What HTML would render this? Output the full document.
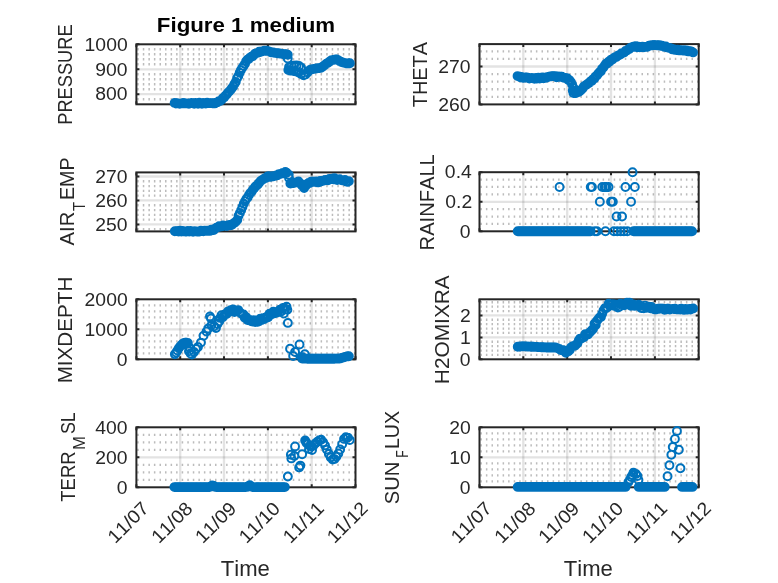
<!DOCTYPE html><html><head><meta charset="utf-8"><style>html,body{margin:0;padding:0;background:#fff}svg{display:block}text{font-family:"Liberation Sans",sans-serif;fill:#262626;font-kerning:none}</style></head><body>
<svg width="778" height="583" viewBox="0 0 778 583">
<defs><filter id="sb" x="-5%" y="-5%" width="110%" height="110%"><feGaussianBlur stdDeviation="0.4"/></filter></defs>
<rect width="778" height="583" fill="#fff"/>
<path fill="#bcbcbc" filter="url(#sb)" d="M137.2 98.1h1.5v2.3h-1.5zM142.8 98.1h1.5v2.3h-1.5zM148.4 98.1h1.5v2.3h-1.5zM153.9 98.1h1.5v2.3h-1.5zM159.5 98.1h1.5v2.3h-1.5zM165 98.1h1.5v2.3h-1.5zM170.6 98.1h1.5v2.3h-1.5zM176.1 98.1h1.5v2.3h-1.5zM181.7 98.1h1.5v2.3h-1.5zM187.3 98.1h1.5v2.3h-1.5zM192.8 98.1h1.5v2.3h-1.5zM198.4 98.1h1.5v2.3h-1.5zM203.9 98.1h1.5v2.3h-1.5zM209.5 98.1h1.5v2.3h-1.5zM215 98.1h1.5v2.3h-1.5zM220.6 98.1h1.5v2.3h-1.5zM226.1 98.1h1.5v2.3h-1.5zM231.7 98.1h1.5v2.3h-1.5zM237.3 98.1h1.5v2.3h-1.5zM242.8 98.1h1.5v2.3h-1.5zM248.4 98.1h1.5v2.3h-1.5zM253.9 98.1h1.5v2.3h-1.5zM259.5 98.1h1.5v2.3h-1.5zM265 98.1h1.5v2.3h-1.5zM270.6 98.1h1.5v2.3h-1.5zM276.1 98.1h1.5v2.3h-1.5zM281.7 98.1h1.5v2.3h-1.5zM287.3 98.1h1.5v2.3h-1.5zM292.8 98.1h1.5v2.3h-1.5zM298.4 98.1h1.5v2.3h-1.5zM303.9 98.1h1.5v2.3h-1.5zM309.5 98.1h1.5v2.3h-1.5zM315 98.1h1.5v2.3h-1.5zM320.6 98.1h1.5v2.3h-1.5zM326.2 98.1h1.5v2.3h-1.5zM331.7 98.1h1.5v2.3h-1.5zM337.3 98.1h1.5v2.3h-1.5zM342.8 98.1h1.5v2.3h-1.5zM348.4 98.1h1.5v2.3h-1.5zM353.9 98.1h1.5v2.3h-1.5zM137.2 88.1h1.5v2.3h-1.5zM142.8 88.1h1.5v2.3h-1.5zM148.4 88.1h1.5v2.3h-1.5zM153.9 88.1h1.5v2.3h-1.5zM159.5 88.1h1.5v2.3h-1.5zM165 88.1h1.5v2.3h-1.5zM170.6 88.1h1.5v2.3h-1.5zM176.1 88.1h1.5v2.3h-1.5zM181.7 88.1h1.5v2.3h-1.5zM187.3 88.1h1.5v2.3h-1.5zM192.8 88.1h1.5v2.3h-1.5zM198.4 88.1h1.5v2.3h-1.5zM203.9 88.1h1.5v2.3h-1.5zM209.5 88.1h1.5v2.3h-1.5zM215 88.1h1.5v2.3h-1.5zM220.6 88.1h1.5v2.3h-1.5zM226.1 88.1h1.5v2.3h-1.5zM231.7 88.1h1.5v2.3h-1.5zM237.3 88.1h1.5v2.3h-1.5zM242.8 88.1h1.5v2.3h-1.5zM248.4 88.1h1.5v2.3h-1.5zM253.9 88.1h1.5v2.3h-1.5zM259.5 88.1h1.5v2.3h-1.5zM265 88.1h1.5v2.3h-1.5zM270.6 88.1h1.5v2.3h-1.5zM276.1 88.1h1.5v2.3h-1.5zM281.7 88.1h1.5v2.3h-1.5zM287.3 88.1h1.5v2.3h-1.5zM292.8 88.1h1.5v2.3h-1.5zM298.4 88.1h1.5v2.3h-1.5zM303.9 88.1h1.5v2.3h-1.5zM309.5 88.1h1.5v2.3h-1.5zM315 88.1h1.5v2.3h-1.5zM320.6 88.1h1.5v2.3h-1.5zM326.2 88.1h1.5v2.3h-1.5zM331.7 88.1h1.5v2.3h-1.5zM337.3 88.1h1.5v2.3h-1.5zM342.8 88.1h1.5v2.3h-1.5zM348.4 88.1h1.5v2.3h-1.5zM353.9 88.1h1.5v2.3h-1.5zM137.2 83.1h1.5v2.3h-1.5zM142.8 83.1h1.5v2.3h-1.5zM148.4 83.1h1.5v2.3h-1.5zM153.9 83.1h1.5v2.3h-1.5zM159.5 83.1h1.5v2.3h-1.5zM165 83.1h1.5v2.3h-1.5zM170.6 83.1h1.5v2.3h-1.5zM176.1 83.1h1.5v2.3h-1.5zM181.7 83.1h1.5v2.3h-1.5zM187.3 83.1h1.5v2.3h-1.5zM192.8 83.1h1.5v2.3h-1.5zM198.4 83.1h1.5v2.3h-1.5zM203.9 83.1h1.5v2.3h-1.5zM209.5 83.1h1.5v2.3h-1.5zM215 83.1h1.5v2.3h-1.5zM220.6 83.1h1.5v2.3h-1.5zM226.1 83.1h1.5v2.3h-1.5zM231.7 83.1h1.5v2.3h-1.5zM237.3 83.1h1.5v2.3h-1.5zM242.8 83.1h1.5v2.3h-1.5zM248.4 83.1h1.5v2.3h-1.5zM253.9 83.1h1.5v2.3h-1.5zM259.5 83.1h1.5v2.3h-1.5zM265 83.1h1.5v2.3h-1.5zM270.6 83.1h1.5v2.3h-1.5zM276.1 83.1h1.5v2.3h-1.5zM281.7 83.1h1.5v2.3h-1.5zM287.3 83.1h1.5v2.3h-1.5zM292.8 83.1h1.5v2.3h-1.5zM298.4 83.1h1.5v2.3h-1.5zM303.9 83.1h1.5v2.3h-1.5zM309.5 83.1h1.5v2.3h-1.5zM315 83.1h1.5v2.3h-1.5zM320.6 83.1h1.5v2.3h-1.5zM326.2 83.1h1.5v2.3h-1.5zM331.7 83.1h1.5v2.3h-1.5zM337.3 83.1h1.5v2.3h-1.5zM342.8 83.1h1.5v2.3h-1.5zM348.4 83.1h1.5v2.3h-1.5zM353.9 83.1h1.5v2.3h-1.5zM137.2 78.1h1.5v2.3h-1.5zM142.8 78.1h1.5v2.3h-1.5zM148.4 78.1h1.5v2.3h-1.5zM153.9 78.1h1.5v2.3h-1.5zM159.5 78.1h1.5v2.3h-1.5zM165 78.1h1.5v2.3h-1.5zM170.6 78.1h1.5v2.3h-1.5zM176.1 78.1h1.5v2.3h-1.5zM181.7 78.1h1.5v2.3h-1.5zM187.3 78.1h1.5v2.3h-1.5zM192.8 78.1h1.5v2.3h-1.5zM198.4 78.1h1.5v2.3h-1.5zM203.9 78.1h1.5v2.3h-1.5zM209.5 78.1h1.5v2.3h-1.5zM215 78.1h1.5v2.3h-1.5zM220.6 78.1h1.5v2.3h-1.5zM226.1 78.1h1.5v2.3h-1.5zM231.7 78.1h1.5v2.3h-1.5zM237.3 78.1h1.5v2.3h-1.5zM242.8 78.1h1.5v2.3h-1.5zM248.4 78.1h1.5v2.3h-1.5zM253.9 78.1h1.5v2.3h-1.5zM259.5 78.1h1.5v2.3h-1.5zM265 78.1h1.5v2.3h-1.5zM270.6 78.1h1.5v2.3h-1.5zM276.1 78.1h1.5v2.3h-1.5zM281.7 78.1h1.5v2.3h-1.5zM287.3 78.1h1.5v2.3h-1.5zM292.8 78.1h1.5v2.3h-1.5zM298.4 78.1h1.5v2.3h-1.5zM303.9 78.1h1.5v2.3h-1.5zM309.5 78.1h1.5v2.3h-1.5zM315 78.1h1.5v2.3h-1.5zM320.6 78.1h1.5v2.3h-1.5zM326.2 78.1h1.5v2.3h-1.5zM331.7 78.1h1.5v2.3h-1.5zM337.3 78.1h1.5v2.3h-1.5zM342.8 78.1h1.5v2.3h-1.5zM348.4 78.1h1.5v2.3h-1.5zM353.9 78.1h1.5v2.3h-1.5zM137.2 73.1h1.5v2.3h-1.5zM142.8 73.1h1.5v2.3h-1.5zM148.4 73.1h1.5v2.3h-1.5zM153.9 73.1h1.5v2.3h-1.5zM159.5 73.1h1.5v2.3h-1.5zM165 73.1h1.5v2.3h-1.5zM170.6 73.1h1.5v2.3h-1.5zM176.1 73.1h1.5v2.3h-1.5zM181.7 73.1h1.5v2.3h-1.5zM187.3 73.1h1.5v2.3h-1.5zM192.8 73.1h1.5v2.3h-1.5zM198.4 73.1h1.5v2.3h-1.5zM203.9 73.1h1.5v2.3h-1.5zM209.5 73.1h1.5v2.3h-1.5zM215 73.1h1.5v2.3h-1.5zM220.6 73.1h1.5v2.3h-1.5zM226.1 73.1h1.5v2.3h-1.5zM231.7 73.1h1.5v2.3h-1.5zM237.3 73.1h1.5v2.3h-1.5zM242.8 73.1h1.5v2.3h-1.5zM248.4 73.1h1.5v2.3h-1.5zM253.9 73.1h1.5v2.3h-1.5zM259.5 73.1h1.5v2.3h-1.5zM265 73.1h1.5v2.3h-1.5zM270.6 73.1h1.5v2.3h-1.5zM276.1 73.1h1.5v2.3h-1.5zM281.7 73.1h1.5v2.3h-1.5zM287.3 73.1h1.5v2.3h-1.5zM292.8 73.1h1.5v2.3h-1.5zM298.4 73.1h1.5v2.3h-1.5zM303.9 73.1h1.5v2.3h-1.5zM309.5 73.1h1.5v2.3h-1.5zM315 73.1h1.5v2.3h-1.5zM320.6 73.1h1.5v2.3h-1.5zM326.2 73.1h1.5v2.3h-1.5zM331.7 73.1h1.5v2.3h-1.5zM337.3 73.1h1.5v2.3h-1.5zM342.8 73.1h1.5v2.3h-1.5zM348.4 73.1h1.5v2.3h-1.5zM353.9 73.1h1.5v2.3h-1.5zM137.2 63.1h1.5v2.3h-1.5zM142.8 63.1h1.5v2.3h-1.5zM148.4 63.1h1.5v2.3h-1.5zM153.9 63.1h1.5v2.3h-1.5zM159.5 63.1h1.5v2.3h-1.5zM165 63.1h1.5v2.3h-1.5zM170.6 63.1h1.5v2.3h-1.5zM176.1 63.1h1.5v2.3h-1.5zM181.7 63.1h1.5v2.3h-1.5zM187.3 63.1h1.5v2.3h-1.5zM192.8 63.1h1.5v2.3h-1.5zM198.4 63.1h1.5v2.3h-1.5zM203.9 63.1h1.5v2.3h-1.5zM209.5 63.1h1.5v2.3h-1.5zM215 63.1h1.5v2.3h-1.5zM220.6 63.1h1.5v2.3h-1.5zM226.1 63.1h1.5v2.3h-1.5zM231.7 63.1h1.5v2.3h-1.5zM237.3 63.1h1.5v2.3h-1.5zM242.8 63.1h1.5v2.3h-1.5zM248.4 63.1h1.5v2.3h-1.5zM253.9 63.1h1.5v2.3h-1.5zM259.5 63.1h1.5v2.3h-1.5zM265 63.1h1.5v2.3h-1.5zM270.6 63.1h1.5v2.3h-1.5zM276.1 63.1h1.5v2.3h-1.5zM281.7 63.1h1.5v2.3h-1.5zM287.3 63.1h1.5v2.3h-1.5zM292.8 63.1h1.5v2.3h-1.5zM298.4 63.1h1.5v2.3h-1.5zM303.9 63.1h1.5v2.3h-1.5zM309.5 63.1h1.5v2.3h-1.5zM315 63.1h1.5v2.3h-1.5zM320.6 63.1h1.5v2.3h-1.5zM326.2 63.1h1.5v2.3h-1.5zM331.7 63.1h1.5v2.3h-1.5zM337.3 63.1h1.5v2.3h-1.5zM342.8 63.1h1.5v2.3h-1.5zM348.4 63.1h1.5v2.3h-1.5zM353.9 63.1h1.5v2.3h-1.5zM137.2 58.1h1.5v2.3h-1.5zM142.8 58.1h1.5v2.3h-1.5zM148.4 58.1h1.5v2.3h-1.5zM153.9 58.1h1.5v2.3h-1.5zM159.5 58.1h1.5v2.3h-1.5zM165 58.1h1.5v2.3h-1.5zM170.6 58.1h1.5v2.3h-1.5zM176.1 58.1h1.5v2.3h-1.5zM181.7 58.1h1.5v2.3h-1.5zM187.3 58.1h1.5v2.3h-1.5zM192.8 58.1h1.5v2.3h-1.5zM198.4 58.1h1.5v2.3h-1.5zM203.9 58.1h1.5v2.3h-1.5zM209.5 58.1h1.5v2.3h-1.5zM215 58.1h1.5v2.3h-1.5zM220.6 58.1h1.5v2.3h-1.5zM226.1 58.1h1.5v2.3h-1.5zM231.7 58.1h1.5v2.3h-1.5zM237.3 58.1h1.5v2.3h-1.5zM242.8 58.1h1.5v2.3h-1.5zM248.4 58.1h1.5v2.3h-1.5zM253.9 58.1h1.5v2.3h-1.5zM259.5 58.1h1.5v2.3h-1.5zM265 58.1h1.5v2.3h-1.5zM270.6 58.1h1.5v2.3h-1.5zM276.1 58.1h1.5v2.3h-1.5zM281.7 58.1h1.5v2.3h-1.5zM287.3 58.1h1.5v2.3h-1.5zM292.8 58.1h1.5v2.3h-1.5zM298.4 58.1h1.5v2.3h-1.5zM303.9 58.1h1.5v2.3h-1.5zM309.5 58.1h1.5v2.3h-1.5zM315 58.1h1.5v2.3h-1.5zM320.6 58.1h1.5v2.3h-1.5zM326.2 58.1h1.5v2.3h-1.5zM331.7 58.1h1.5v2.3h-1.5zM337.3 58.1h1.5v2.3h-1.5zM342.8 58.1h1.5v2.3h-1.5zM348.4 58.1h1.5v2.3h-1.5zM353.9 58.1h1.5v2.3h-1.5zM137.2 53.1h1.5v2.3h-1.5zM142.8 53.1h1.5v2.3h-1.5zM148.4 53.1h1.5v2.3h-1.5zM153.9 53.1h1.5v2.3h-1.5zM159.5 53.1h1.5v2.3h-1.5zM165 53.1h1.5v2.3h-1.5zM170.6 53.1h1.5v2.3h-1.5zM176.1 53.1h1.5v2.3h-1.5zM181.7 53.1h1.5v2.3h-1.5zM187.3 53.1h1.5v2.3h-1.5zM192.8 53.1h1.5v2.3h-1.5zM198.4 53.1h1.5v2.3h-1.5zM203.9 53.1h1.5v2.3h-1.5zM209.5 53.1h1.5v2.3h-1.5zM215 53.1h1.5v2.3h-1.5zM220.6 53.1h1.5v2.3h-1.5zM226.1 53.1h1.5v2.3h-1.5zM231.7 53.1h1.5v2.3h-1.5zM237.3 53.1h1.5v2.3h-1.5zM242.8 53.1h1.5v2.3h-1.5zM248.4 53.1h1.5v2.3h-1.5zM253.9 53.1h1.5v2.3h-1.5zM259.5 53.1h1.5v2.3h-1.5zM265 53.1h1.5v2.3h-1.5zM270.6 53.1h1.5v2.3h-1.5zM276.1 53.1h1.5v2.3h-1.5zM281.7 53.1h1.5v2.3h-1.5zM287.3 53.1h1.5v2.3h-1.5zM292.8 53.1h1.5v2.3h-1.5zM298.4 53.1h1.5v2.3h-1.5zM303.9 53.1h1.5v2.3h-1.5zM309.5 53.1h1.5v2.3h-1.5zM315 53.1h1.5v2.3h-1.5zM320.6 53.1h1.5v2.3h-1.5zM326.2 53.1h1.5v2.3h-1.5zM331.7 53.1h1.5v2.3h-1.5zM337.3 53.1h1.5v2.3h-1.5zM342.8 53.1h1.5v2.3h-1.5zM348.4 53.1h1.5v2.3h-1.5zM353.9 53.1h1.5v2.3h-1.5zM137.2 48.1h1.5v2.3h-1.5zM142.8 48.1h1.5v2.3h-1.5zM148.4 48.1h1.5v2.3h-1.5zM153.9 48.1h1.5v2.3h-1.5zM159.5 48.1h1.5v2.3h-1.5zM165 48.1h1.5v2.3h-1.5zM170.6 48.1h1.5v2.3h-1.5zM176.1 48.1h1.5v2.3h-1.5zM181.7 48.1h1.5v2.3h-1.5zM187.3 48.1h1.5v2.3h-1.5zM192.8 48.1h1.5v2.3h-1.5zM198.4 48.1h1.5v2.3h-1.5zM203.9 48.1h1.5v2.3h-1.5zM209.5 48.1h1.5v2.3h-1.5zM215 48.1h1.5v2.3h-1.5zM220.6 48.1h1.5v2.3h-1.5zM226.1 48.1h1.5v2.3h-1.5zM231.7 48.1h1.5v2.3h-1.5zM237.3 48.1h1.5v2.3h-1.5zM242.8 48.1h1.5v2.3h-1.5zM248.4 48.1h1.5v2.3h-1.5zM253.9 48.1h1.5v2.3h-1.5zM259.5 48.1h1.5v2.3h-1.5zM265 48.1h1.5v2.3h-1.5zM270.6 48.1h1.5v2.3h-1.5zM276.1 48.1h1.5v2.3h-1.5zM281.7 48.1h1.5v2.3h-1.5zM287.3 48.1h1.5v2.3h-1.5zM292.8 48.1h1.5v2.3h-1.5zM298.4 48.1h1.5v2.3h-1.5zM303.9 48.1h1.5v2.3h-1.5zM309.5 48.1h1.5v2.3h-1.5zM315 48.1h1.5v2.3h-1.5zM320.6 48.1h1.5v2.3h-1.5zM326.2 48.1h1.5v2.3h-1.5zM331.7 48.1h1.5v2.3h-1.5zM337.3 48.1h1.5v2.3h-1.5zM342.8 48.1h1.5v2.3h-1.5zM348.4 48.1h1.5v2.3h-1.5zM353.9 48.1h1.5v2.3h-1.5z"/>
<path stroke="#262626" stroke-opacity="0.13" stroke-width="2.3" fill="none" d="M180.2 44.3V104.3M224 44.3V104.3M267.9 44.3V104.3M311.7 44.3V104.3"/>
<path stroke="#262626" stroke-opacity="0.13" stroke-width="2.3" fill="none" d="M136.4 94.2H355.5M136.4 69.3H355.5"/>
<rect x="136.4" y="44.3" width="219.1" height="60" fill="none" stroke="#262626" stroke-width="2.0"/>
<path stroke="#262626" stroke-width="2.0" fill="none" d="M136.4 104.3v-3M136.4 44.3v3M180.2 104.3v-3M180.2 44.3v3M224 104.3v-3M224 44.3v3M267.9 104.3v-3M267.9 44.3v3M311.7 104.3v-3M311.7 44.3v3M355.5 104.3v-3M355.5 44.3v3M136.4 94.2h3M355.5 94.2h-3M136.4 69.3h3M355.5 69.3h-3M136.4 44.3h3M355.5 44.3h-3"/>
<path fill="none" stroke="#0072BD" stroke-width="2.0" d="M170.7 102.9a3.95 3.95 0 1 0 7.9 0a3.95 3.95 0 1 0 -7.9 0M172 103.6a3.95 3.95 0 1 0 7.9 0a3.95 3.95 0 1 0 -7.9 0M173.2 103.3a3.95 3.95 0 1 0 7.9 0a3.95 3.95 0 1 0 -7.9 0M174.6 103.5a3.95 3.95 0 1 0 7.9 0a3.95 3.95 0 1 0 -7.9 0M175.8 103.8a3.95 3.95 0 1 0 7.9 0a3.95 3.95 0 1 0 -7.9 0M177.2 103.4a3.95 3.95 0 1 0 7.9 0a3.95 3.95 0 1 0 -7.9 0M178.5 103.4a3.95 3.95 0 1 0 7.9 0a3.95 3.95 0 1 0 -7.9 0M179.8 102.9a3.95 3.95 0 1 0 7.9 0a3.95 3.95 0 1 0 -7.9 0M181.1 103.1a3.95 3.95 0 1 0 7.9 0a3.95 3.95 0 1 0 -7.9 0M182.3 103.4a3.95 3.95 0 1 0 7.9 0a3.95 3.95 0 1 0 -7.9 0M183.7 103.6a3.95 3.95 0 1 0 7.9 0a3.95 3.95 0 1 0 -7.9 0M185 103.7a3.95 3.95 0 1 0 7.9 0a3.95 3.95 0 1 0 -7.9 0M186.2 103.3a3.95 3.95 0 1 0 7.9 0a3.95 3.95 0 1 0 -7.9 0M187.6 102.9a3.95 3.95 0 1 0 7.9 0a3.95 3.95 0 1 0 -7.9 0M188.8 103.2a3.95 3.95 0 1 0 7.9 0a3.95 3.95 0 1 0 -7.9 0M190.2 103.8a3.95 3.95 0 1 0 7.9 0a3.95 3.95 0 1 0 -7.9 0M191.5 103a3.95 3.95 0 1 0 7.9 0a3.95 3.95 0 1 0 -7.9 0M192.8 103.3a3.95 3.95 0 1 0 7.9 0a3.95 3.95 0 1 0 -7.9 0M194.1 103.7a3.95 3.95 0 1 0 7.9 0a3.95 3.95 0 1 0 -7.9 0M195.3 102.8a3.95 3.95 0 1 0 7.9 0a3.95 3.95 0 1 0 -7.9 0M196.7 103.4a3.95 3.95 0 1 0 7.9 0a3.95 3.95 0 1 0 -7.9 0M198 103.7a3.95 3.95 0 1 0 7.9 0a3.95 3.95 0 1 0 -7.9 0M199.2 103a3.95 3.95 0 1 0 7.9 0a3.95 3.95 0 1 0 -7.9 0M200.6 103.3a3.95 3.95 0 1 0 7.9 0a3.95 3.95 0 1 0 -7.9 0M201.9 103.5a3.95 3.95 0 1 0 7.9 0a3.95 3.95 0 1 0 -7.9 0M203.2 102.7a3.95 3.95 0 1 0 7.9 0a3.95 3.95 0 1 0 -7.9 0M204.5 103a3.95 3.95 0 1 0 7.9 0a3.95 3.95 0 1 0 -7.9 0M205.8 103.1a3.95 3.95 0 1 0 7.9 0a3.95 3.95 0 1 0 -7.9 0M207.1 103.1a3.95 3.95 0 1 0 7.9 0a3.95 3.95 0 1 0 -7.9 0M208.4 103.2a3.95 3.95 0 1 0 7.9 0a3.95 3.95 0 1 0 -7.9 0M209.7 103.1a3.95 3.95 0 1 0 7.9 0a3.95 3.95 0 1 0 -7.9 0M211 103.4a3.95 3.95 0 1 0 7.9 0a3.95 3.95 0 1 0 -7.9 0M212.2 102.7a3.95 3.95 0 1 0 7.9 0a3.95 3.95 0 1 0 -7.9 0M213.6 102.2a3.95 3.95 0 1 0 7.9 0a3.95 3.95 0 1 0 -7.9 0M214.9 101.3a3.95 3.95 0 1 0 7.9 0a3.95 3.95 0 1 0 -7.9 0M216.2 101a3.95 3.95 0 1 0 7.9 0a3.95 3.95 0 1 0 -7.9 0M217.5 99.9a3.95 3.95 0 1 0 7.9 0a3.95 3.95 0 1 0 -7.9 0M218.8 98.3a3.95 3.95 0 1 0 7.9 0a3.95 3.95 0 1 0 -7.9 0M220.1 97.4a3.95 3.95 0 1 0 7.9 0a3.95 3.95 0 1 0 -7.9 0M221.4 95.7a3.95 3.95 0 1 0 7.9 0a3.95 3.95 0 1 0 -7.9 0M222.7 94.4a3.95 3.95 0 1 0 7.9 0a3.95 3.95 0 1 0 -7.9 0M224 92.8a3.95 3.95 0 1 0 7.9 0a3.95 3.95 0 1 0 -7.9 0M225.2 91.6a3.95 3.95 0 1 0 7.9 0a3.95 3.95 0 1 0 -7.9 0M226.6 89.9a3.95 3.95 0 1 0 7.9 0a3.95 3.95 0 1 0 -7.9 0M227.9 88.2a3.95 3.95 0 1 0 7.9 0a3.95 3.95 0 1 0 -7.9 0M229.2 86.4a3.95 3.95 0 1 0 7.9 0a3.95 3.95 0 1 0 -7.9 0M230.5 83.9a3.95 3.95 0 1 0 7.9 0a3.95 3.95 0 1 0 -7.9 0M231.8 81.9a3.95 3.95 0 1 0 7.9 0a3.95 3.95 0 1 0 -7.9 0M233.1 78.3a3.95 3.95 0 1 0 7.9 0a3.95 3.95 0 1 0 -7.9 0M234.4 75.9a3.95 3.95 0 1 0 7.9 0a3.95 3.95 0 1 0 -7.9 0M235.7 72.7a3.95 3.95 0 1 0 7.9 0a3.95 3.95 0 1 0 -7.9 0M236.9 70.2a3.95 3.95 0 1 0 7.9 0a3.95 3.95 0 1 0 -7.9 0M238.2 68.1a3.95 3.95 0 1 0 7.9 0a3.95 3.95 0 1 0 -7.9 0M239.6 66a3.95 3.95 0 1 0 7.9 0a3.95 3.95 0 1 0 -7.9 0M240.9 63.9a3.95 3.95 0 1 0 7.9 0a3.95 3.95 0 1 0 -7.9 0M242.2 61.2a3.95 3.95 0 1 0 7.9 0a3.95 3.95 0 1 0 -7.9 0M243.4 59.7a3.95 3.95 0 1 0 7.9 0a3.95 3.95 0 1 0 -7.9 0M244.8 59a3.95 3.95 0 1 0 7.9 0a3.95 3.95 0 1 0 -7.9 0M246.1 57.6a3.95 3.95 0 1 0 7.9 0a3.95 3.95 0 1 0 -7.9 0M247.4 56.8a3.95 3.95 0 1 0 7.9 0a3.95 3.95 0 1 0 -7.9 0M248.7 56.2a3.95 3.95 0 1 0 7.9 0a3.95 3.95 0 1 0 -7.9 0M249.9 55.1a3.95 3.95 0 1 0 7.9 0a3.95 3.95 0 1 0 -7.9 0M251.2 53.6a3.95 3.95 0 1 0 7.9 0a3.95 3.95 0 1 0 -7.9 0M252.6 53.1a3.95 3.95 0 1 0 7.9 0a3.95 3.95 0 1 0 -7.9 0M253.9 52.7a3.95 3.95 0 1 0 7.9 0a3.95 3.95 0 1 0 -7.9 0M255.2 51.7a3.95 3.95 0 1 0 7.9 0a3.95 3.95 0 1 0 -7.9 0M256.4 52a3.95 3.95 0 1 0 7.9 0a3.95 3.95 0 1 0 -7.9 0M257.8 51.5a3.95 3.95 0 1 0 7.9 0a3.95 3.95 0 1 0 -7.9 0M259.1 51.1a3.95 3.95 0 1 0 7.9 0a3.95 3.95 0 1 0 -7.9 0M260.4 50.6a3.95 3.95 0 1 0 7.9 0a3.95 3.95 0 1 0 -7.9 0M261.7 50.9a3.95 3.95 0 1 0 7.9 0a3.95 3.95 0 1 0 -7.9 0M262.9 50.6a3.95 3.95 0 1 0 7.9 0a3.95 3.95 0 1 0 -7.9 0M264.2 51.1a3.95 3.95 0 1 0 7.9 0a3.95 3.95 0 1 0 -7.9 0M265.6 51.6a3.95 3.95 0 1 0 7.9 0a3.95 3.95 0 1 0 -7.9 0M266.9 52.3a3.95 3.95 0 1 0 7.9 0a3.95 3.95 0 1 0 -7.9 0M268.2 52.4a3.95 3.95 0 1 0 7.9 0a3.95 3.95 0 1 0 -7.9 0M269.4 52.4a3.95 3.95 0 1 0 7.9 0a3.95 3.95 0 1 0 -7.9 0M270.8 52.9a3.95 3.95 0 1 0 7.9 0a3.95 3.95 0 1 0 -7.9 0M272.1 53.1a3.95 3.95 0 1 0 7.9 0a3.95 3.95 0 1 0 -7.9 0M273.4 53.2a3.95 3.95 0 1 0 7.9 0a3.95 3.95 0 1 0 -7.9 0M274.7 53.2a3.95 3.95 0 1 0 7.9 0a3.95 3.95 0 1 0 -7.9 0M275.9 53.5a3.95 3.95 0 1 0 7.9 0a3.95 3.95 0 1 0 -7.9 0M277.2 53.6a3.95 3.95 0 1 0 7.9 0a3.95 3.95 0 1 0 -7.9 0M278.6 54.1a3.95 3.95 0 1 0 7.9 0a3.95 3.95 0 1 0 -7.9 0M279.9 54.3a3.95 3.95 0 1 0 7.9 0a3.95 3.95 0 1 0 -7.9 0M281.2 54.2a3.95 3.95 0 1 0 7.9 0a3.95 3.95 0 1 0 -7.9 0M282.4 54.3a3.95 3.95 0 1 0 7.9 0a3.95 3.95 0 1 0 -7.9 0M283.8 54.7a3.95 3.95 0 1 0 7.9 0a3.95 3.95 0 1 0 -7.9 0M283.8 58.5a3.95 3.95 0 1 0 7.9 0a3.95 3.95 0 1 0 -7.9 0M285.1 67a3.95 3.95 0 1 0 7.9 0a3.95 3.95 0 1 0 -7.9 0M287.6 66a3.95 3.95 0 1 0 7.9 0a3.95 3.95 0 1 0 -7.9 0M290.1 65.8a3.95 3.95 0 1 0 7.9 0a3.95 3.95 0 1 0 -7.9 0M292.6 65.5a3.95 3.95 0 1 0 7.9 0a3.95 3.95 0 1 0 -7.9 0M295.1 66a3.95 3.95 0 1 0 7.9 0a3.95 3.95 0 1 0 -7.9 0M297.1 67.5a3.95 3.95 0 1 0 7.9 0a3.95 3.95 0 1 0 -7.9 0M284.4 70a3.95 3.95 0 1 0 7.9 0a3.95 3.95 0 1 0 -7.9 0M285.9 70.5a3.95 3.95 0 1 0 7.9 0a3.95 3.95 0 1 0 -7.9 0M287.6 70.5a3.95 3.95 0 1 0 7.9 0a3.95 3.95 0 1 0 -7.9 0M289.6 71a3.95 3.95 0 1 0 7.9 0a3.95 3.95 0 1 0 -7.9 0M292.1 71.5a3.95 3.95 0 1 0 7.9 0a3.95 3.95 0 1 0 -7.9 0M294.6 72.5a3.95 3.95 0 1 0 7.9 0a3.95 3.95 0 1 0 -7.9 0M297.1 74a3.95 3.95 0 1 0 7.9 0a3.95 3.95 0 1 0 -7.9 0M299.6 75.3a3.95 3.95 0 1 0 7.9 0a3.95 3.95 0 1 0 -7.9 0M301.6 74.5a3.95 3.95 0 1 0 7.9 0a3.95 3.95 0 1 0 -7.9 0M303.6 72.5a3.95 3.95 0 1 0 7.9 0a3.95 3.95 0 1 0 -7.9 0M305.6 70.2a3.95 3.95 0 1 0 7.9 0a3.95 3.95 0 1 0 -7.9 0M306.9 69.5a3.95 3.95 0 1 0 7.9 0a3.95 3.95 0 1 0 -7.9 0M308.2 69.2a3.95 3.95 0 1 0 7.9 0a3.95 3.95 0 1 0 -7.9 0M309.4 69a3.95 3.95 0 1 0 7.9 0a3.95 3.95 0 1 0 -7.9 0M310.8 68.7a3.95 3.95 0 1 0 7.9 0a3.95 3.95 0 1 0 -7.9 0M312.1 68.5a3.95 3.95 0 1 0 7.9 0a3.95 3.95 0 1 0 -7.9 0M313.4 68.3a3.95 3.95 0 1 0 7.9 0a3.95 3.95 0 1 0 -7.9 0M314.7 68.1a3.95 3.95 0 1 0 7.9 0a3.95 3.95 0 1 0 -7.9 0M315.9 68a3.95 3.95 0 1 0 7.9 0a3.95 3.95 0 1 0 -7.9 0M317.2 67.8a3.95 3.95 0 1 0 7.9 0a3.95 3.95 0 1 0 -7.9 0M318.6 66.8a3.95 3.95 0 1 0 7.9 0a3.95 3.95 0 1 0 -7.9 0M319.9 65.8a3.95 3.95 0 1 0 7.9 0a3.95 3.95 0 1 0 -7.9 0M321.2 64.8a3.95 3.95 0 1 0 7.9 0a3.95 3.95 0 1 0 -7.9 0M322.4 63.8a3.95 3.95 0 1 0 7.9 0a3.95 3.95 0 1 0 -7.9 0M323.8 62.9a3.95 3.95 0 1 0 7.9 0a3.95 3.95 0 1 0 -7.9 0M325.1 61.9a3.95 3.95 0 1 0 7.9 0a3.95 3.95 0 1 0 -7.9 0M326.4 61a3.95 3.95 0 1 0 7.9 0a3.95 3.95 0 1 0 -7.9 0M327.7 60.1a3.95 3.95 0 1 0 7.9 0a3.95 3.95 0 1 0 -7.9 0M328.9 59.9a3.95 3.95 0 1 0 7.9 0a3.95 3.95 0 1 0 -7.9 0M330.2 59.7a3.95 3.95 0 1 0 7.9 0a3.95 3.95 0 1 0 -7.9 0M331.6 59.5a3.95 3.95 0 1 0 7.9 0a3.95 3.95 0 1 0 -7.9 0M332.9 59.4a3.95 3.95 0 1 0 7.9 0a3.95 3.95 0 1 0 -7.9 0M334.2 60.2a3.95 3.95 0 1 0 7.9 0a3.95 3.95 0 1 0 -7.9 0M335.4 60.9a3.95 3.95 0 1 0 7.9 0a3.95 3.95 0 1 0 -7.9 0M336.8 61.7a3.95 3.95 0 1 0 7.9 0a3.95 3.95 0 1 0 -7.9 0M338.1 62.3a3.95 3.95 0 1 0 7.9 0a3.95 3.95 0 1 0 -7.9 0M339.4 62.6a3.95 3.95 0 1 0 7.9 0a3.95 3.95 0 1 0 -7.9 0M340.7 62.9a3.95 3.95 0 1 0 7.9 0a3.95 3.95 0 1 0 -7.9 0M341.9 63.2a3.95 3.95 0 1 0 7.9 0a3.95 3.95 0 1 0 -7.9 0M343.2 63.4a3.95 3.95 0 1 0 7.9 0a3.95 3.95 0 1 0 -7.9 0M344.6 63.3a3.95 3.95 0 1 0 7.9 0a3.95 3.95 0 1 0 -7.9 0M345.9 63.2a3.95 3.95 0 1 0 7.9 0a3.95 3.95 0 1 0 -7.9 0"/>
<path fill="#bcbcbc" filter="url(#sb)" d="M137.2 228h1.5v2.3h-1.5zM142.8 228h1.5v2.3h-1.5zM148.4 228h1.5v2.3h-1.5zM153.9 228h1.5v2.3h-1.5zM159.5 228h1.5v2.3h-1.5zM165 228h1.5v2.3h-1.5zM170.6 228h1.5v2.3h-1.5zM176.1 228h1.5v2.3h-1.5zM181.7 228h1.5v2.3h-1.5zM187.3 228h1.5v2.3h-1.5zM192.8 228h1.5v2.3h-1.5zM198.4 228h1.5v2.3h-1.5zM203.9 228h1.5v2.3h-1.5zM209.5 228h1.5v2.3h-1.5zM215 228h1.5v2.3h-1.5zM220.6 228h1.5v2.3h-1.5zM226.1 228h1.5v2.3h-1.5zM231.7 228h1.5v2.3h-1.5zM237.3 228h1.5v2.3h-1.5zM242.8 228h1.5v2.3h-1.5zM248.4 228h1.5v2.3h-1.5zM253.9 228h1.5v2.3h-1.5zM259.5 228h1.5v2.3h-1.5zM265 228h1.5v2.3h-1.5zM270.6 228h1.5v2.3h-1.5zM276.1 228h1.5v2.3h-1.5zM281.7 228h1.5v2.3h-1.5zM287.3 228h1.5v2.3h-1.5zM292.8 228h1.5v2.3h-1.5zM298.4 228h1.5v2.3h-1.5zM303.9 228h1.5v2.3h-1.5zM309.5 228h1.5v2.3h-1.5zM315 228h1.5v2.3h-1.5zM320.6 228h1.5v2.3h-1.5zM326.2 228h1.5v2.3h-1.5zM331.7 228h1.5v2.3h-1.5zM337.3 228h1.5v2.3h-1.5zM342.8 228h1.5v2.3h-1.5zM348.4 228h1.5v2.3h-1.5zM353.9 228h1.5v2.3h-1.5zM137.2 218.5h1.5v2.3h-1.5zM142.8 218.5h1.5v2.3h-1.5zM148.4 218.5h1.5v2.3h-1.5zM153.9 218.5h1.5v2.3h-1.5zM159.5 218.5h1.5v2.3h-1.5zM165 218.5h1.5v2.3h-1.5zM170.6 218.5h1.5v2.3h-1.5zM176.1 218.5h1.5v2.3h-1.5zM181.7 218.5h1.5v2.3h-1.5zM187.3 218.5h1.5v2.3h-1.5zM192.8 218.5h1.5v2.3h-1.5zM198.4 218.5h1.5v2.3h-1.5zM203.9 218.5h1.5v2.3h-1.5zM209.5 218.5h1.5v2.3h-1.5zM215 218.5h1.5v2.3h-1.5zM220.6 218.5h1.5v2.3h-1.5zM226.1 218.5h1.5v2.3h-1.5zM231.7 218.5h1.5v2.3h-1.5zM237.3 218.5h1.5v2.3h-1.5zM242.8 218.5h1.5v2.3h-1.5zM248.4 218.5h1.5v2.3h-1.5zM253.9 218.5h1.5v2.3h-1.5zM259.5 218.5h1.5v2.3h-1.5zM265 218.5h1.5v2.3h-1.5zM270.6 218.5h1.5v2.3h-1.5zM276.1 218.5h1.5v2.3h-1.5zM281.7 218.5h1.5v2.3h-1.5zM287.3 218.5h1.5v2.3h-1.5zM292.8 218.5h1.5v2.3h-1.5zM298.4 218.5h1.5v2.3h-1.5zM303.9 218.5h1.5v2.3h-1.5zM309.5 218.5h1.5v2.3h-1.5zM315 218.5h1.5v2.3h-1.5zM320.6 218.5h1.5v2.3h-1.5zM326.2 218.5h1.5v2.3h-1.5zM331.7 218.5h1.5v2.3h-1.5zM337.3 218.5h1.5v2.3h-1.5zM342.8 218.5h1.5v2.3h-1.5zM348.4 218.5h1.5v2.3h-1.5zM353.9 218.5h1.5v2.3h-1.5zM137.2 213.7h1.5v2.3h-1.5zM142.8 213.7h1.5v2.3h-1.5zM148.4 213.7h1.5v2.3h-1.5zM153.9 213.7h1.5v2.3h-1.5zM159.5 213.7h1.5v2.3h-1.5zM165 213.7h1.5v2.3h-1.5zM170.6 213.7h1.5v2.3h-1.5zM176.1 213.7h1.5v2.3h-1.5zM181.7 213.7h1.5v2.3h-1.5zM187.3 213.7h1.5v2.3h-1.5zM192.8 213.7h1.5v2.3h-1.5zM198.4 213.7h1.5v2.3h-1.5zM203.9 213.7h1.5v2.3h-1.5zM209.5 213.7h1.5v2.3h-1.5zM215 213.7h1.5v2.3h-1.5zM220.6 213.7h1.5v2.3h-1.5zM226.1 213.7h1.5v2.3h-1.5zM231.7 213.7h1.5v2.3h-1.5zM237.3 213.7h1.5v2.3h-1.5zM242.8 213.7h1.5v2.3h-1.5zM248.4 213.7h1.5v2.3h-1.5zM253.9 213.7h1.5v2.3h-1.5zM259.5 213.7h1.5v2.3h-1.5zM265 213.7h1.5v2.3h-1.5zM270.6 213.7h1.5v2.3h-1.5zM276.1 213.7h1.5v2.3h-1.5zM281.7 213.7h1.5v2.3h-1.5zM287.3 213.7h1.5v2.3h-1.5zM292.8 213.7h1.5v2.3h-1.5zM298.4 213.7h1.5v2.3h-1.5zM303.9 213.7h1.5v2.3h-1.5zM309.5 213.7h1.5v2.3h-1.5zM315 213.7h1.5v2.3h-1.5zM320.6 213.7h1.5v2.3h-1.5zM326.2 213.7h1.5v2.3h-1.5zM331.7 213.7h1.5v2.3h-1.5zM337.3 213.7h1.5v2.3h-1.5zM342.8 213.7h1.5v2.3h-1.5zM348.4 213.7h1.5v2.3h-1.5zM353.9 213.7h1.5v2.3h-1.5zM137.2 208.9h1.5v2.3h-1.5zM142.8 208.9h1.5v2.3h-1.5zM148.4 208.9h1.5v2.3h-1.5zM153.9 208.9h1.5v2.3h-1.5zM159.5 208.9h1.5v2.3h-1.5zM165 208.9h1.5v2.3h-1.5zM170.6 208.9h1.5v2.3h-1.5zM176.1 208.9h1.5v2.3h-1.5zM181.7 208.9h1.5v2.3h-1.5zM187.3 208.9h1.5v2.3h-1.5zM192.8 208.9h1.5v2.3h-1.5zM198.4 208.9h1.5v2.3h-1.5zM203.9 208.9h1.5v2.3h-1.5zM209.5 208.9h1.5v2.3h-1.5zM215 208.9h1.5v2.3h-1.5zM220.6 208.9h1.5v2.3h-1.5zM226.1 208.9h1.5v2.3h-1.5zM231.7 208.9h1.5v2.3h-1.5zM237.3 208.9h1.5v2.3h-1.5zM242.8 208.9h1.5v2.3h-1.5zM248.4 208.9h1.5v2.3h-1.5zM253.9 208.9h1.5v2.3h-1.5zM259.5 208.9h1.5v2.3h-1.5zM265 208.9h1.5v2.3h-1.5zM270.6 208.9h1.5v2.3h-1.5zM276.1 208.9h1.5v2.3h-1.5zM281.7 208.9h1.5v2.3h-1.5zM287.3 208.9h1.5v2.3h-1.5zM292.8 208.9h1.5v2.3h-1.5zM298.4 208.9h1.5v2.3h-1.5zM303.9 208.9h1.5v2.3h-1.5zM309.5 208.9h1.5v2.3h-1.5zM315 208.9h1.5v2.3h-1.5zM320.6 208.9h1.5v2.3h-1.5zM326.2 208.9h1.5v2.3h-1.5zM331.7 208.9h1.5v2.3h-1.5zM337.3 208.9h1.5v2.3h-1.5zM342.8 208.9h1.5v2.3h-1.5zM348.4 208.9h1.5v2.3h-1.5zM353.9 208.9h1.5v2.3h-1.5zM137.2 204.1h1.5v2.3h-1.5zM142.8 204.1h1.5v2.3h-1.5zM148.4 204.1h1.5v2.3h-1.5zM153.9 204.1h1.5v2.3h-1.5zM159.5 204.1h1.5v2.3h-1.5zM165 204.1h1.5v2.3h-1.5zM170.6 204.1h1.5v2.3h-1.5zM176.1 204.1h1.5v2.3h-1.5zM181.7 204.1h1.5v2.3h-1.5zM187.3 204.1h1.5v2.3h-1.5zM192.8 204.1h1.5v2.3h-1.5zM198.4 204.1h1.5v2.3h-1.5zM203.9 204.1h1.5v2.3h-1.5zM209.5 204.1h1.5v2.3h-1.5zM215 204.1h1.5v2.3h-1.5zM220.6 204.1h1.5v2.3h-1.5zM226.1 204.1h1.5v2.3h-1.5zM231.7 204.1h1.5v2.3h-1.5zM237.3 204.1h1.5v2.3h-1.5zM242.8 204.1h1.5v2.3h-1.5zM248.4 204.1h1.5v2.3h-1.5zM253.9 204.1h1.5v2.3h-1.5zM259.5 204.1h1.5v2.3h-1.5zM265 204.1h1.5v2.3h-1.5zM270.6 204.1h1.5v2.3h-1.5zM276.1 204.1h1.5v2.3h-1.5zM281.7 204.1h1.5v2.3h-1.5zM287.3 204.1h1.5v2.3h-1.5zM292.8 204.1h1.5v2.3h-1.5zM298.4 204.1h1.5v2.3h-1.5zM303.9 204.1h1.5v2.3h-1.5zM309.5 204.1h1.5v2.3h-1.5zM315 204.1h1.5v2.3h-1.5zM320.6 204.1h1.5v2.3h-1.5zM326.2 204.1h1.5v2.3h-1.5zM331.7 204.1h1.5v2.3h-1.5zM337.3 204.1h1.5v2.3h-1.5zM342.8 204.1h1.5v2.3h-1.5zM348.4 204.1h1.5v2.3h-1.5zM353.9 204.1h1.5v2.3h-1.5zM137.2 194.5h1.5v2.3h-1.5zM142.8 194.5h1.5v2.3h-1.5zM148.4 194.5h1.5v2.3h-1.5zM153.9 194.5h1.5v2.3h-1.5zM159.5 194.5h1.5v2.3h-1.5zM165 194.5h1.5v2.3h-1.5zM170.6 194.5h1.5v2.3h-1.5zM176.1 194.5h1.5v2.3h-1.5zM181.7 194.5h1.5v2.3h-1.5zM187.3 194.5h1.5v2.3h-1.5zM192.8 194.5h1.5v2.3h-1.5zM198.4 194.5h1.5v2.3h-1.5zM203.9 194.5h1.5v2.3h-1.5zM209.5 194.5h1.5v2.3h-1.5zM215 194.5h1.5v2.3h-1.5zM220.6 194.5h1.5v2.3h-1.5zM226.1 194.5h1.5v2.3h-1.5zM231.7 194.5h1.5v2.3h-1.5zM237.3 194.5h1.5v2.3h-1.5zM242.8 194.5h1.5v2.3h-1.5zM248.4 194.5h1.5v2.3h-1.5zM253.9 194.5h1.5v2.3h-1.5zM259.5 194.5h1.5v2.3h-1.5zM265 194.5h1.5v2.3h-1.5zM270.6 194.5h1.5v2.3h-1.5zM276.1 194.5h1.5v2.3h-1.5zM281.7 194.5h1.5v2.3h-1.5zM287.3 194.5h1.5v2.3h-1.5zM292.8 194.5h1.5v2.3h-1.5zM298.4 194.5h1.5v2.3h-1.5zM303.9 194.5h1.5v2.3h-1.5zM309.5 194.5h1.5v2.3h-1.5zM315 194.5h1.5v2.3h-1.5zM320.6 194.5h1.5v2.3h-1.5zM326.2 194.5h1.5v2.3h-1.5zM331.7 194.5h1.5v2.3h-1.5zM337.3 194.5h1.5v2.3h-1.5zM342.8 194.5h1.5v2.3h-1.5zM348.4 194.5h1.5v2.3h-1.5zM353.9 194.5h1.5v2.3h-1.5zM137.2 189.7h1.5v2.3h-1.5zM142.8 189.7h1.5v2.3h-1.5zM148.4 189.7h1.5v2.3h-1.5zM153.9 189.7h1.5v2.3h-1.5zM159.5 189.7h1.5v2.3h-1.5zM165 189.7h1.5v2.3h-1.5zM170.6 189.7h1.5v2.3h-1.5zM176.1 189.7h1.5v2.3h-1.5zM181.7 189.7h1.5v2.3h-1.5zM187.3 189.7h1.5v2.3h-1.5zM192.8 189.7h1.5v2.3h-1.5zM198.4 189.7h1.5v2.3h-1.5zM203.9 189.7h1.5v2.3h-1.5zM209.5 189.7h1.5v2.3h-1.5zM215 189.7h1.5v2.3h-1.5zM220.6 189.7h1.5v2.3h-1.5zM226.1 189.7h1.5v2.3h-1.5zM231.7 189.7h1.5v2.3h-1.5zM237.3 189.7h1.5v2.3h-1.5zM242.8 189.7h1.5v2.3h-1.5zM248.4 189.7h1.5v2.3h-1.5zM253.9 189.7h1.5v2.3h-1.5zM259.5 189.7h1.5v2.3h-1.5zM265 189.7h1.5v2.3h-1.5zM270.6 189.7h1.5v2.3h-1.5zM276.1 189.7h1.5v2.3h-1.5zM281.7 189.7h1.5v2.3h-1.5zM287.3 189.7h1.5v2.3h-1.5zM292.8 189.7h1.5v2.3h-1.5zM298.4 189.7h1.5v2.3h-1.5zM303.9 189.7h1.5v2.3h-1.5zM309.5 189.7h1.5v2.3h-1.5zM315 189.7h1.5v2.3h-1.5zM320.6 189.7h1.5v2.3h-1.5zM326.2 189.7h1.5v2.3h-1.5zM331.7 189.7h1.5v2.3h-1.5zM337.3 189.7h1.5v2.3h-1.5zM342.8 189.7h1.5v2.3h-1.5zM348.4 189.7h1.5v2.3h-1.5zM353.9 189.7h1.5v2.3h-1.5zM137.2 184.9h1.5v2.3h-1.5zM142.8 184.9h1.5v2.3h-1.5zM148.4 184.9h1.5v2.3h-1.5zM153.9 184.9h1.5v2.3h-1.5zM159.5 184.9h1.5v2.3h-1.5zM165 184.9h1.5v2.3h-1.5zM170.6 184.9h1.5v2.3h-1.5zM176.1 184.9h1.5v2.3h-1.5zM181.7 184.9h1.5v2.3h-1.5zM187.3 184.9h1.5v2.3h-1.5zM192.8 184.9h1.5v2.3h-1.5zM198.4 184.9h1.5v2.3h-1.5zM203.9 184.9h1.5v2.3h-1.5zM209.5 184.9h1.5v2.3h-1.5zM215 184.9h1.5v2.3h-1.5zM220.6 184.9h1.5v2.3h-1.5zM226.1 184.9h1.5v2.3h-1.5zM231.7 184.9h1.5v2.3h-1.5zM237.3 184.9h1.5v2.3h-1.5zM242.8 184.9h1.5v2.3h-1.5zM248.4 184.9h1.5v2.3h-1.5zM253.9 184.9h1.5v2.3h-1.5zM259.5 184.9h1.5v2.3h-1.5zM265 184.9h1.5v2.3h-1.5zM270.6 184.9h1.5v2.3h-1.5zM276.1 184.9h1.5v2.3h-1.5zM281.7 184.9h1.5v2.3h-1.5zM287.3 184.9h1.5v2.3h-1.5zM292.8 184.9h1.5v2.3h-1.5zM298.4 184.9h1.5v2.3h-1.5zM303.9 184.9h1.5v2.3h-1.5zM309.5 184.9h1.5v2.3h-1.5zM315 184.9h1.5v2.3h-1.5zM320.6 184.9h1.5v2.3h-1.5zM326.2 184.9h1.5v2.3h-1.5zM331.7 184.9h1.5v2.3h-1.5zM337.3 184.9h1.5v2.3h-1.5zM342.8 184.9h1.5v2.3h-1.5zM348.4 184.9h1.5v2.3h-1.5zM353.9 184.9h1.5v2.3h-1.5zM137.2 180.1h1.5v2.3h-1.5zM142.8 180.1h1.5v2.3h-1.5zM148.4 180.1h1.5v2.3h-1.5zM153.9 180.1h1.5v2.3h-1.5zM159.5 180.1h1.5v2.3h-1.5zM165 180.1h1.5v2.3h-1.5zM170.6 180.1h1.5v2.3h-1.5zM176.1 180.1h1.5v2.3h-1.5zM181.7 180.1h1.5v2.3h-1.5zM187.3 180.1h1.5v2.3h-1.5zM192.8 180.1h1.5v2.3h-1.5zM198.4 180.1h1.5v2.3h-1.5zM203.9 180.1h1.5v2.3h-1.5zM209.5 180.1h1.5v2.3h-1.5zM215 180.1h1.5v2.3h-1.5zM220.6 180.1h1.5v2.3h-1.5zM226.1 180.1h1.5v2.3h-1.5zM231.7 180.1h1.5v2.3h-1.5zM237.3 180.1h1.5v2.3h-1.5zM242.8 180.1h1.5v2.3h-1.5zM248.4 180.1h1.5v2.3h-1.5zM253.9 180.1h1.5v2.3h-1.5zM259.5 180.1h1.5v2.3h-1.5zM265 180.1h1.5v2.3h-1.5zM270.6 180.1h1.5v2.3h-1.5zM276.1 180.1h1.5v2.3h-1.5zM281.7 180.1h1.5v2.3h-1.5zM287.3 180.1h1.5v2.3h-1.5zM292.8 180.1h1.5v2.3h-1.5zM298.4 180.1h1.5v2.3h-1.5zM303.9 180.1h1.5v2.3h-1.5zM309.5 180.1h1.5v2.3h-1.5zM315 180.1h1.5v2.3h-1.5zM320.6 180.1h1.5v2.3h-1.5zM326.2 180.1h1.5v2.3h-1.5zM331.7 180.1h1.5v2.3h-1.5zM337.3 180.1h1.5v2.3h-1.5zM342.8 180.1h1.5v2.3h-1.5zM348.4 180.1h1.5v2.3h-1.5zM353.9 180.1h1.5v2.3h-1.5z"/>
<path stroke="#262626" stroke-opacity="0.13" stroke-width="2.3" fill="none" d="M180.2 172.4V231.4M224 172.4V231.4M267.9 172.4V231.4M311.7 172.4V231.4"/>
<path stroke="#262626" stroke-opacity="0.13" stroke-width="2.3" fill="none" d="M136.4 224.4H355.5M136.4 200.4H355.5M136.4 176.5H355.5"/>
<rect x="136.4" y="172.4" width="219.1" height="59" fill="none" stroke="#262626" stroke-width="2.0"/>
<path stroke="#262626" stroke-width="2.0" fill="none" d="M136.4 231.4v-3M136.4 172.4v3M180.2 231.4v-3M180.2 172.4v3M224 231.4v-3M224 172.4v3M267.9 231.4v-3M267.9 172.4v3M311.7 231.4v-3M311.7 172.4v3M355.5 231.4v-3M355.5 172.4v3M136.4 224.4h3M355.5 224.4h-3M136.4 200.4h3M355.5 200.4h-3M136.4 176.5h3M355.5 176.5h-3"/>
<path fill="none" stroke="#0072BD" stroke-width="2.0" d="M170.9 231.3a3.95 3.95 0 1 0 7.9 0a3.95 3.95 0 1 0 -7.9 0M172.2 231.1a3.95 3.95 0 1 0 7.9 0a3.95 3.95 0 1 0 -7.9 0M173.5 231.3a3.95 3.95 0 1 0 7.9 0a3.95 3.95 0 1 0 -7.9 0M174.8 231.5a3.95 3.95 0 1 0 7.9 0a3.95 3.95 0 1 0 -7.9 0M176.1 230.6a3.95 3.95 0 1 0 7.9 0a3.95 3.95 0 1 0 -7.9 0M177.4 231.5a3.95 3.95 0 1 0 7.9 0a3.95 3.95 0 1 0 -7.9 0M178.7 230.9a3.95 3.95 0 1 0 7.9 0a3.95 3.95 0 1 0 -7.9 0M180 231.2a3.95 3.95 0 1 0 7.9 0a3.95 3.95 0 1 0 -7.9 0M181.3 231.5a3.95 3.95 0 1 0 7.9 0a3.95 3.95 0 1 0 -7.9 0M182.6 231.5a3.95 3.95 0 1 0 7.9 0a3.95 3.95 0 1 0 -7.9 0M183.9 231a3.95 3.95 0 1 0 7.9 0a3.95 3.95 0 1 0 -7.9 0M185.2 231.5a3.95 3.95 0 1 0 7.9 0a3.95 3.95 0 1 0 -7.9 0M186.5 231a3.95 3.95 0 1 0 7.9 0a3.95 3.95 0 1 0 -7.9 0M187.8 231.2a3.95 3.95 0 1 0 7.9 0a3.95 3.95 0 1 0 -7.9 0M189.1 231.7a3.95 3.95 0 1 0 7.9 0a3.95 3.95 0 1 0 -7.9 0M190.4 231.3a3.95 3.95 0 1 0 7.9 0a3.95 3.95 0 1 0 -7.9 0M191.7 231.4a3.95 3.95 0 1 0 7.9 0a3.95 3.95 0 1 0 -7.9 0M193 231.5a3.95 3.95 0 1 0 7.9 0a3.95 3.95 0 1 0 -7.9 0M194.3 231.6a3.95 3.95 0 1 0 7.9 0a3.95 3.95 0 1 0 -7.9 0M195.6 231.5a3.95 3.95 0 1 0 7.9 0a3.95 3.95 0 1 0 -7.9 0M196.9 230.8a3.95 3.95 0 1 0 7.9 0a3.95 3.95 0 1 0 -7.9 0M198.2 231.1a3.95 3.95 0 1 0 7.9 0a3.95 3.95 0 1 0 -7.9 0M199.5 231.2a3.95 3.95 0 1 0 7.9 0a3.95 3.95 0 1 0 -7.9 0M200.8 230.6a3.95 3.95 0 1 0 7.9 0a3.95 3.95 0 1 0 -7.9 0M202.1 230.9a3.95 3.95 0 1 0 7.9 0a3.95 3.95 0 1 0 -7.9 0M203.4 230.8a3.95 3.95 0 1 0 7.9 0a3.95 3.95 0 1 0 -7.9 0M204.7 230.9a3.95 3.95 0 1 0 7.9 0a3.95 3.95 0 1 0 -7.9 0M206 230.9a3.95 3.95 0 1 0 7.9 0a3.95 3.95 0 1 0 -7.9 0M207.3 229.8a3.95 3.95 0 1 0 7.9 0a3.95 3.95 0 1 0 -7.9 0M208.6 229.7a3.95 3.95 0 1 0 7.9 0a3.95 3.95 0 1 0 -7.9 0M209.9 230a3.95 3.95 0 1 0 7.9 0a3.95 3.95 0 1 0 -7.9 0M211.2 228.6a3.95 3.95 0 1 0 7.9 0a3.95 3.95 0 1 0 -7.9 0M212.5 227.7a3.95 3.95 0 1 0 7.9 0a3.95 3.95 0 1 0 -7.9 0M213.8 227.3a3.95 3.95 0 1 0 7.9 0a3.95 3.95 0 1 0 -7.9 0M215.1 226.3a3.95 3.95 0 1 0 7.9 0a3.95 3.95 0 1 0 -7.9 0M216.4 226.6a3.95 3.95 0 1 0 7.9 0a3.95 3.95 0 1 0 -7.9 0M217.7 226.4a3.95 3.95 0 1 0 7.9 0a3.95 3.95 0 1 0 -7.9 0M219 225.4a3.95 3.95 0 1 0 7.9 0a3.95 3.95 0 1 0 -7.9 0M220.3 225.7a3.95 3.95 0 1 0 7.9 0a3.95 3.95 0 1 0 -7.9 0M221.6 225.9a3.95 3.95 0 1 0 7.9 0a3.95 3.95 0 1 0 -7.9 0M222.9 226a3.95 3.95 0 1 0 7.9 0a3.95 3.95 0 1 0 -7.9 0M224.2 225.2a3.95 3.95 0 1 0 7.9 0a3.95 3.95 0 1 0 -7.9 0M225.5 224.9a3.95 3.95 0 1 0 7.9 0a3.95 3.95 0 1 0 -7.9 0M226.8 225.2a3.95 3.95 0 1 0 7.9 0a3.95 3.95 0 1 0 -7.9 0M228.1 224.8a3.95 3.95 0 1 0 7.9 0a3.95 3.95 0 1 0 -7.9 0M229.4 223.4a3.95 3.95 0 1 0 7.9 0a3.95 3.95 0 1 0 -7.9 0M230.7 222.7a3.95 3.95 0 1 0 7.9 0a3.95 3.95 0 1 0 -7.9 0M232 221.6a3.95 3.95 0 1 0 7.9 0a3.95 3.95 0 1 0 -7.9 0M233.3 220a3.95 3.95 0 1 0 7.9 0a3.95 3.95 0 1 0 -7.9 0M234.6 215.7a3.95 3.95 0 1 0 7.9 0a3.95 3.95 0 1 0 -7.9 0M235.9 213a3.95 3.95 0 1 0 7.9 0a3.95 3.95 0 1 0 -7.9 0M237.2 210.2a3.95 3.95 0 1 0 7.9 0a3.95 3.95 0 1 0 -7.9 0M238.5 207a3.95 3.95 0 1 0 7.9 0a3.95 3.95 0 1 0 -7.9 0M239.8 203.8a3.95 3.95 0 1 0 7.9 0a3.95 3.95 0 1 0 -7.9 0M241.1 201.2a3.95 3.95 0 1 0 7.9 0a3.95 3.95 0 1 0 -7.9 0M242.4 199.1a3.95 3.95 0 1 0 7.9 0a3.95 3.95 0 1 0 -7.9 0M243.7 197.6a3.95 3.95 0 1 0 7.9 0a3.95 3.95 0 1 0 -7.9 0M245 195a3.95 3.95 0 1 0 7.9 0a3.95 3.95 0 1 0 -7.9 0M246.3 193.1a3.95 3.95 0 1 0 7.9 0a3.95 3.95 0 1 0 -7.9 0M247.6 191.7a3.95 3.95 0 1 0 7.9 0a3.95 3.95 0 1 0 -7.9 0M248.9 189.8a3.95 3.95 0 1 0 7.9 0a3.95 3.95 0 1 0 -7.9 0M250.2 188.2a3.95 3.95 0 1 0 7.9 0a3.95 3.95 0 1 0 -7.9 0M251.5 186.5a3.95 3.95 0 1 0 7.9 0a3.95 3.95 0 1 0 -7.9 0M252.8 185.5a3.95 3.95 0 1 0 7.9 0a3.95 3.95 0 1 0 -7.9 0M254.1 184.2a3.95 3.95 0 1 0 7.9 0a3.95 3.95 0 1 0 -7.9 0M255.4 182.4a3.95 3.95 0 1 0 7.9 0a3.95 3.95 0 1 0 -7.9 0M256.7 181a3.95 3.95 0 1 0 7.9 0a3.95 3.95 0 1 0 -7.9 0M258 180.1a3.95 3.95 0 1 0 7.9 0a3.95 3.95 0 1 0 -7.9 0M259.3 179.2a3.95 3.95 0 1 0 7.9 0a3.95 3.95 0 1 0 -7.9 0M260.6 178.5a3.95 3.95 0 1 0 7.9 0a3.95 3.95 0 1 0 -7.9 0M261.9 177.9a3.95 3.95 0 1 0 7.9 0a3.95 3.95 0 1 0 -7.9 0M263.2 176.8a3.95 3.95 0 1 0 7.9 0a3.95 3.95 0 1 0 -7.9 0M264.5 176.3a3.95 3.95 0 1 0 7.9 0a3.95 3.95 0 1 0 -7.9 0M265.8 176.9a3.95 3.95 0 1 0 7.9 0a3.95 3.95 0 1 0 -7.9 0M267.1 176.8a3.95 3.95 0 1 0 7.9 0a3.95 3.95 0 1 0 -7.9 0M268.4 176.1a3.95 3.95 0 1 0 7.9 0a3.95 3.95 0 1 0 -7.9 0M269.7 176.2a3.95 3.95 0 1 0 7.9 0a3.95 3.95 0 1 0 -7.9 0M271 175.9a3.95 3.95 0 1 0 7.9 0a3.95 3.95 0 1 0 -7.9 0M272.3 175.4a3.95 3.95 0 1 0 7.9 0a3.95 3.95 0 1 0 -7.9 0M273.6 175.3a3.95 3.95 0 1 0 7.9 0a3.95 3.95 0 1 0 -7.9 0M274.9 174.1a3.95 3.95 0 1 0 7.9 0a3.95 3.95 0 1 0 -7.9 0M276.2 174a3.95 3.95 0 1 0 7.9 0a3.95 3.95 0 1 0 -7.9 0M277.5 173.6a3.95 3.95 0 1 0 7.9 0a3.95 3.95 0 1 0 -7.9 0M278.8 172.9a3.95 3.95 0 1 0 7.9 0a3.95 3.95 0 1 0 -7.9 0M280.1 173.2a3.95 3.95 0 1 0 7.9 0a3.95 3.95 0 1 0 -7.9 0M281.4 172a3.95 3.95 0 1 0 7.9 0a3.95 3.95 0 1 0 -7.9 0M282.7 172.7a3.95 3.95 0 1 0 7.9 0a3.95 3.95 0 1 0 -7.9 0M284.8 174.8a3.95 3.95 0 1 0 7.9 0a3.95 3.95 0 1 0 -7.9 0M285.1 178a3.95 3.95 0 1 0 7.9 0a3.95 3.95 0 1 0 -7.9 0M286.4 183.5a3.95 3.95 0 1 0 7.9 0a3.95 3.95 0 1 0 -7.9 0M290.1 183a3.95 3.95 0 1 0 7.9 0a3.95 3.95 0 1 0 -7.9 0M294.6 181.5a3.95 3.95 0 1 0 7.9 0a3.95 3.95 0 1 0 -7.9 0M297.1 184a3.95 3.95 0 1 0 7.9 0a3.95 3.95 0 1 0 -7.9 0M300.2 188.1a3.95 3.95 0 1 0 7.9 0a3.95 3.95 0 1 0 -7.9 0M286.4 183.5a3.95 3.95 0 1 0 7.9 0a3.95 3.95 0 1 0 -7.9 0M287.7 183.3a3.95 3.95 0 1 0 7.9 0a3.95 3.95 0 1 0 -7.9 0M289 183.1a3.95 3.95 0 1 0 7.9 0a3.95 3.95 0 1 0 -7.9 0M290.2 182.9a3.95 3.95 0 1 0 7.9 0a3.95 3.95 0 1 0 -7.9 0M291.6 182.5a3.95 3.95 0 1 0 7.9 0a3.95 3.95 0 1 0 -7.9 0M292.9 182.1a3.95 3.95 0 1 0 7.9 0a3.95 3.95 0 1 0 -7.9 0M294.2 181.6a3.95 3.95 0 1 0 7.9 0a3.95 3.95 0 1 0 -7.9 0M295.5 182.8a3.95 3.95 0 1 0 7.9 0a3.95 3.95 0 1 0 -7.9 0M296.8 183.9a3.95 3.95 0 1 0 7.9 0a3.95 3.95 0 1 0 -7.9 0M298.1 185.6a3.95 3.95 0 1 0 7.9 0a3.95 3.95 0 1 0 -7.9 0M299.4 186.7a3.95 3.95 0 1 0 7.9 0a3.95 3.95 0 1 0 -7.9 0M300.7 186.5a3.95 3.95 0 1 0 7.9 0a3.95 3.95 0 1 0 -7.9 0M302 185.4a3.95 3.95 0 1 0 7.9 0a3.95 3.95 0 1 0 -7.9 0M303.2 184a3.95 3.95 0 1 0 7.9 0a3.95 3.95 0 1 0 -7.9 0M304.6 183a3.95 3.95 0 1 0 7.9 0a3.95 3.95 0 1 0 -7.9 0M305.9 183.1a3.95 3.95 0 1 0 7.9 0a3.95 3.95 0 1 0 -7.9 0M307.2 181.6a3.95 3.95 0 1 0 7.9 0a3.95 3.95 0 1 0 -7.9 0M308.5 181.6a3.95 3.95 0 1 0 7.9 0a3.95 3.95 0 1 0 -7.9 0M309.8 181.8a3.95 3.95 0 1 0 7.9 0a3.95 3.95 0 1 0 -7.9 0M311.1 181.7a3.95 3.95 0 1 0 7.9 0a3.95 3.95 0 1 0 -7.9 0M312.4 181.4a3.95 3.95 0 1 0 7.9 0a3.95 3.95 0 1 0 -7.9 0M313.7 182.4a3.95 3.95 0 1 0 7.9 0a3.95 3.95 0 1 0 -7.9 0M315 182.2a3.95 3.95 0 1 0 7.9 0a3.95 3.95 0 1 0 -7.9 0M316.2 180.9a3.95 3.95 0 1 0 7.9 0a3.95 3.95 0 1 0 -7.9 0M317.6 181.2a3.95 3.95 0 1 0 7.9 0a3.95 3.95 0 1 0 -7.9 0M318.9 180.6a3.95 3.95 0 1 0 7.9 0a3.95 3.95 0 1 0 -7.9 0M320.2 180.6a3.95 3.95 0 1 0 7.9 0a3.95 3.95 0 1 0 -7.9 0M321.5 179.9a3.95 3.95 0 1 0 7.9 0a3.95 3.95 0 1 0 -7.9 0M322.8 179.9a3.95 3.95 0 1 0 7.9 0a3.95 3.95 0 1 0 -7.9 0M324.1 180.2a3.95 3.95 0 1 0 7.9 0a3.95 3.95 0 1 0 -7.9 0M325.4 179a3.95 3.95 0 1 0 7.9 0a3.95 3.95 0 1 0 -7.9 0M326.7 179.1a3.95 3.95 0 1 0 7.9 0a3.95 3.95 0 1 0 -7.9 0M328 178.8a3.95 3.95 0 1 0 7.9 0a3.95 3.95 0 1 0 -7.9 0M329.2 179.2a3.95 3.95 0 1 0 7.9 0a3.95 3.95 0 1 0 -7.9 0M330.6 178.3a3.95 3.95 0 1 0 7.9 0a3.95 3.95 0 1 0 -7.9 0M331.9 179.5a3.95 3.95 0 1 0 7.9 0a3.95 3.95 0 1 0 -7.9 0M333.2 180a3.95 3.95 0 1 0 7.9 0a3.95 3.95 0 1 0 -7.9 0M334.5 179.6a3.95 3.95 0 1 0 7.9 0a3.95 3.95 0 1 0 -7.9 0M335.8 179.3a3.95 3.95 0 1 0 7.9 0a3.95 3.95 0 1 0 -7.9 0M337.1 180.1a3.95 3.95 0 1 0 7.9 0a3.95 3.95 0 1 0 -7.9 0M338.4 180.4a3.95 3.95 0 1 0 7.9 0a3.95 3.95 0 1 0 -7.9 0M339.7 180.6a3.95 3.95 0 1 0 7.9 0a3.95 3.95 0 1 0 -7.9 0M341 180a3.95 3.95 0 1 0 7.9 0a3.95 3.95 0 1 0 -7.9 0M342.2 181.6a3.95 3.95 0 1 0 7.9 0a3.95 3.95 0 1 0 -7.9 0M343.6 181.9a3.95 3.95 0 1 0 7.9 0a3.95 3.95 0 1 0 -7.9 0M344.9 181.3a3.95 3.95 0 1 0 7.9 0a3.95 3.95 0 1 0 -7.9 0"/>
<path fill="#bcbcbc" filter="url(#sb)" d="M137.2 352.2h1.5v2.3h-1.5zM142.8 352.2h1.5v2.3h-1.5zM148.4 352.2h1.5v2.3h-1.5zM153.9 352.2h1.5v2.3h-1.5zM159.5 352.2h1.5v2.3h-1.5zM165 352.2h1.5v2.3h-1.5zM170.6 352.2h1.5v2.3h-1.5zM176.1 352.2h1.5v2.3h-1.5zM181.7 352.2h1.5v2.3h-1.5zM187.3 352.2h1.5v2.3h-1.5zM192.8 352.2h1.5v2.3h-1.5zM198.4 352.2h1.5v2.3h-1.5zM203.9 352.2h1.5v2.3h-1.5zM209.5 352.2h1.5v2.3h-1.5zM215 352.2h1.5v2.3h-1.5zM220.6 352.2h1.5v2.3h-1.5zM226.1 352.2h1.5v2.3h-1.5zM231.7 352.2h1.5v2.3h-1.5zM237.3 352.2h1.5v2.3h-1.5zM242.8 352.2h1.5v2.3h-1.5zM248.4 352.2h1.5v2.3h-1.5zM253.9 352.2h1.5v2.3h-1.5zM259.5 352.2h1.5v2.3h-1.5zM265 352.2h1.5v2.3h-1.5zM270.6 352.2h1.5v2.3h-1.5zM276.1 352.2h1.5v2.3h-1.5zM281.7 352.2h1.5v2.3h-1.5zM287.3 352.2h1.5v2.3h-1.5zM292.8 352.2h1.5v2.3h-1.5zM298.4 352.2h1.5v2.3h-1.5zM303.9 352.2h1.5v2.3h-1.5zM309.5 352.2h1.5v2.3h-1.5zM315 352.2h1.5v2.3h-1.5zM320.6 352.2h1.5v2.3h-1.5zM326.2 352.2h1.5v2.3h-1.5zM331.7 352.2h1.5v2.3h-1.5zM337.3 352.2h1.5v2.3h-1.5zM342.8 352.2h1.5v2.3h-1.5zM348.4 352.2h1.5v2.3h-1.5zM353.9 352.2h1.5v2.3h-1.5zM137.2 346.2h1.5v2.3h-1.5zM142.8 346.2h1.5v2.3h-1.5zM148.4 346.2h1.5v2.3h-1.5zM153.9 346.2h1.5v2.3h-1.5zM159.5 346.2h1.5v2.3h-1.5zM165 346.2h1.5v2.3h-1.5zM170.6 346.2h1.5v2.3h-1.5zM176.1 346.2h1.5v2.3h-1.5zM181.7 346.2h1.5v2.3h-1.5zM187.3 346.2h1.5v2.3h-1.5zM192.8 346.2h1.5v2.3h-1.5zM198.4 346.2h1.5v2.3h-1.5zM203.9 346.2h1.5v2.3h-1.5zM209.5 346.2h1.5v2.3h-1.5zM215 346.2h1.5v2.3h-1.5zM220.6 346.2h1.5v2.3h-1.5zM226.1 346.2h1.5v2.3h-1.5zM231.7 346.2h1.5v2.3h-1.5zM237.3 346.2h1.5v2.3h-1.5zM242.8 346.2h1.5v2.3h-1.5zM248.4 346.2h1.5v2.3h-1.5zM253.9 346.2h1.5v2.3h-1.5zM259.5 346.2h1.5v2.3h-1.5zM265 346.2h1.5v2.3h-1.5zM270.6 346.2h1.5v2.3h-1.5zM276.1 346.2h1.5v2.3h-1.5zM281.7 346.2h1.5v2.3h-1.5zM287.3 346.2h1.5v2.3h-1.5zM292.8 346.2h1.5v2.3h-1.5zM298.4 346.2h1.5v2.3h-1.5zM303.9 346.2h1.5v2.3h-1.5zM309.5 346.2h1.5v2.3h-1.5zM315 346.2h1.5v2.3h-1.5zM320.6 346.2h1.5v2.3h-1.5zM326.2 346.2h1.5v2.3h-1.5zM331.7 346.2h1.5v2.3h-1.5zM337.3 346.2h1.5v2.3h-1.5zM342.8 346.2h1.5v2.3h-1.5zM348.4 346.2h1.5v2.3h-1.5zM353.9 346.2h1.5v2.3h-1.5zM137.2 340.2h1.5v2.3h-1.5zM142.8 340.2h1.5v2.3h-1.5zM148.4 340.2h1.5v2.3h-1.5zM153.9 340.2h1.5v2.3h-1.5zM159.5 340.2h1.5v2.3h-1.5zM165 340.2h1.5v2.3h-1.5zM170.6 340.2h1.5v2.3h-1.5zM176.1 340.2h1.5v2.3h-1.5zM181.7 340.2h1.5v2.3h-1.5zM187.3 340.2h1.5v2.3h-1.5zM192.8 340.2h1.5v2.3h-1.5zM198.4 340.2h1.5v2.3h-1.5zM203.9 340.2h1.5v2.3h-1.5zM209.5 340.2h1.5v2.3h-1.5zM215 340.2h1.5v2.3h-1.5zM220.6 340.2h1.5v2.3h-1.5zM226.1 340.2h1.5v2.3h-1.5zM231.7 340.2h1.5v2.3h-1.5zM237.3 340.2h1.5v2.3h-1.5zM242.8 340.2h1.5v2.3h-1.5zM248.4 340.2h1.5v2.3h-1.5zM253.9 340.2h1.5v2.3h-1.5zM259.5 340.2h1.5v2.3h-1.5zM265 340.2h1.5v2.3h-1.5zM270.6 340.2h1.5v2.3h-1.5zM276.1 340.2h1.5v2.3h-1.5zM281.7 340.2h1.5v2.3h-1.5zM287.3 340.2h1.5v2.3h-1.5zM292.8 340.2h1.5v2.3h-1.5zM298.4 340.2h1.5v2.3h-1.5zM303.9 340.2h1.5v2.3h-1.5zM309.5 340.2h1.5v2.3h-1.5zM315 340.2h1.5v2.3h-1.5zM320.6 340.2h1.5v2.3h-1.5zM326.2 340.2h1.5v2.3h-1.5zM331.7 340.2h1.5v2.3h-1.5zM337.3 340.2h1.5v2.3h-1.5zM342.8 340.2h1.5v2.3h-1.5zM348.4 340.2h1.5v2.3h-1.5zM353.9 340.2h1.5v2.3h-1.5zM137.2 334.2h1.5v2.3h-1.5zM142.8 334.2h1.5v2.3h-1.5zM148.4 334.2h1.5v2.3h-1.5zM153.9 334.2h1.5v2.3h-1.5zM159.5 334.2h1.5v2.3h-1.5zM165 334.2h1.5v2.3h-1.5zM170.6 334.2h1.5v2.3h-1.5zM176.1 334.2h1.5v2.3h-1.5zM181.7 334.2h1.5v2.3h-1.5zM187.3 334.2h1.5v2.3h-1.5zM192.8 334.2h1.5v2.3h-1.5zM198.4 334.2h1.5v2.3h-1.5zM203.9 334.2h1.5v2.3h-1.5zM209.5 334.2h1.5v2.3h-1.5zM215 334.2h1.5v2.3h-1.5zM220.6 334.2h1.5v2.3h-1.5zM226.1 334.2h1.5v2.3h-1.5zM231.7 334.2h1.5v2.3h-1.5zM237.3 334.2h1.5v2.3h-1.5zM242.8 334.2h1.5v2.3h-1.5zM248.4 334.2h1.5v2.3h-1.5zM253.9 334.2h1.5v2.3h-1.5zM259.5 334.2h1.5v2.3h-1.5zM265 334.2h1.5v2.3h-1.5zM270.6 334.2h1.5v2.3h-1.5zM276.1 334.2h1.5v2.3h-1.5zM281.7 334.2h1.5v2.3h-1.5zM287.3 334.2h1.5v2.3h-1.5zM292.8 334.2h1.5v2.3h-1.5zM298.4 334.2h1.5v2.3h-1.5zM303.9 334.2h1.5v2.3h-1.5zM309.5 334.2h1.5v2.3h-1.5zM315 334.2h1.5v2.3h-1.5zM320.6 334.2h1.5v2.3h-1.5zM326.2 334.2h1.5v2.3h-1.5zM331.7 334.2h1.5v2.3h-1.5zM337.3 334.2h1.5v2.3h-1.5zM342.8 334.2h1.5v2.3h-1.5zM348.4 334.2h1.5v2.3h-1.5zM353.9 334.2h1.5v2.3h-1.5zM137.2 322.2h1.5v2.3h-1.5zM142.8 322.2h1.5v2.3h-1.5zM148.4 322.2h1.5v2.3h-1.5zM153.9 322.2h1.5v2.3h-1.5zM159.5 322.2h1.5v2.3h-1.5zM165 322.2h1.5v2.3h-1.5zM170.6 322.2h1.5v2.3h-1.5zM176.1 322.2h1.5v2.3h-1.5zM181.7 322.2h1.5v2.3h-1.5zM187.3 322.2h1.5v2.3h-1.5zM192.8 322.2h1.5v2.3h-1.5zM198.4 322.2h1.5v2.3h-1.5zM203.9 322.2h1.5v2.3h-1.5zM209.5 322.2h1.5v2.3h-1.5zM215 322.2h1.5v2.3h-1.5zM220.6 322.2h1.5v2.3h-1.5zM226.1 322.2h1.5v2.3h-1.5zM231.7 322.2h1.5v2.3h-1.5zM237.3 322.2h1.5v2.3h-1.5zM242.8 322.2h1.5v2.3h-1.5zM248.4 322.2h1.5v2.3h-1.5zM253.9 322.2h1.5v2.3h-1.5zM259.5 322.2h1.5v2.3h-1.5zM265 322.2h1.5v2.3h-1.5zM270.6 322.2h1.5v2.3h-1.5zM276.1 322.2h1.5v2.3h-1.5zM281.7 322.2h1.5v2.3h-1.5zM287.3 322.2h1.5v2.3h-1.5zM292.8 322.2h1.5v2.3h-1.5zM298.4 322.2h1.5v2.3h-1.5zM303.9 322.2h1.5v2.3h-1.5zM309.5 322.2h1.5v2.3h-1.5zM315 322.2h1.5v2.3h-1.5zM320.6 322.2h1.5v2.3h-1.5zM326.2 322.2h1.5v2.3h-1.5zM331.7 322.2h1.5v2.3h-1.5zM337.3 322.2h1.5v2.3h-1.5zM342.8 322.2h1.5v2.3h-1.5zM348.4 322.2h1.5v2.3h-1.5zM353.9 322.2h1.5v2.3h-1.5zM137.2 316.2h1.5v2.3h-1.5zM142.8 316.2h1.5v2.3h-1.5zM148.4 316.2h1.5v2.3h-1.5zM153.9 316.2h1.5v2.3h-1.5zM159.5 316.2h1.5v2.3h-1.5zM165 316.2h1.5v2.3h-1.5zM170.6 316.2h1.5v2.3h-1.5zM176.1 316.2h1.5v2.3h-1.5zM181.7 316.2h1.5v2.3h-1.5zM187.3 316.2h1.5v2.3h-1.5zM192.8 316.2h1.5v2.3h-1.5zM198.4 316.2h1.5v2.3h-1.5zM203.9 316.2h1.5v2.3h-1.5zM209.5 316.2h1.5v2.3h-1.5zM215 316.2h1.5v2.3h-1.5zM220.6 316.2h1.5v2.3h-1.5zM226.1 316.2h1.5v2.3h-1.5zM231.7 316.2h1.5v2.3h-1.5zM237.3 316.2h1.5v2.3h-1.5zM242.8 316.2h1.5v2.3h-1.5zM248.4 316.2h1.5v2.3h-1.5zM253.9 316.2h1.5v2.3h-1.5zM259.5 316.2h1.5v2.3h-1.5zM265 316.2h1.5v2.3h-1.5zM270.6 316.2h1.5v2.3h-1.5zM276.1 316.2h1.5v2.3h-1.5zM281.7 316.2h1.5v2.3h-1.5zM287.3 316.2h1.5v2.3h-1.5zM292.8 316.2h1.5v2.3h-1.5zM298.4 316.2h1.5v2.3h-1.5zM303.9 316.2h1.5v2.3h-1.5zM309.5 316.2h1.5v2.3h-1.5zM315 316.2h1.5v2.3h-1.5zM320.6 316.2h1.5v2.3h-1.5zM326.2 316.2h1.5v2.3h-1.5zM331.7 316.2h1.5v2.3h-1.5zM337.3 316.2h1.5v2.3h-1.5zM342.8 316.2h1.5v2.3h-1.5zM348.4 316.2h1.5v2.3h-1.5zM353.9 316.2h1.5v2.3h-1.5zM137.2 310.2h1.5v2.3h-1.5zM142.8 310.2h1.5v2.3h-1.5zM148.4 310.2h1.5v2.3h-1.5zM153.9 310.2h1.5v2.3h-1.5zM159.5 310.2h1.5v2.3h-1.5zM165 310.2h1.5v2.3h-1.5zM170.6 310.2h1.5v2.3h-1.5zM176.1 310.2h1.5v2.3h-1.5zM181.7 310.2h1.5v2.3h-1.5zM187.3 310.2h1.5v2.3h-1.5zM192.8 310.2h1.5v2.3h-1.5zM198.4 310.2h1.5v2.3h-1.5zM203.9 310.2h1.5v2.3h-1.5zM209.5 310.2h1.5v2.3h-1.5zM215 310.2h1.5v2.3h-1.5zM220.6 310.2h1.5v2.3h-1.5zM226.1 310.2h1.5v2.3h-1.5zM231.7 310.2h1.5v2.3h-1.5zM237.3 310.2h1.5v2.3h-1.5zM242.8 310.2h1.5v2.3h-1.5zM248.4 310.2h1.5v2.3h-1.5zM253.9 310.2h1.5v2.3h-1.5zM259.5 310.2h1.5v2.3h-1.5zM265 310.2h1.5v2.3h-1.5zM270.6 310.2h1.5v2.3h-1.5zM276.1 310.2h1.5v2.3h-1.5zM281.7 310.2h1.5v2.3h-1.5zM287.3 310.2h1.5v2.3h-1.5zM292.8 310.2h1.5v2.3h-1.5zM298.4 310.2h1.5v2.3h-1.5zM303.9 310.2h1.5v2.3h-1.5zM309.5 310.2h1.5v2.3h-1.5zM315 310.2h1.5v2.3h-1.5zM320.6 310.2h1.5v2.3h-1.5zM326.2 310.2h1.5v2.3h-1.5zM331.7 310.2h1.5v2.3h-1.5zM337.3 310.2h1.5v2.3h-1.5zM342.8 310.2h1.5v2.3h-1.5zM348.4 310.2h1.5v2.3h-1.5zM353.9 310.2h1.5v2.3h-1.5zM137.2 304.2h1.5v2.3h-1.5zM142.8 304.2h1.5v2.3h-1.5zM148.4 304.2h1.5v2.3h-1.5zM153.9 304.2h1.5v2.3h-1.5zM159.5 304.2h1.5v2.3h-1.5zM165 304.2h1.5v2.3h-1.5zM170.6 304.2h1.5v2.3h-1.5zM176.1 304.2h1.5v2.3h-1.5zM181.7 304.2h1.5v2.3h-1.5zM187.3 304.2h1.5v2.3h-1.5zM192.8 304.2h1.5v2.3h-1.5zM198.4 304.2h1.5v2.3h-1.5zM203.9 304.2h1.5v2.3h-1.5zM209.5 304.2h1.5v2.3h-1.5zM215 304.2h1.5v2.3h-1.5zM220.6 304.2h1.5v2.3h-1.5zM226.1 304.2h1.5v2.3h-1.5zM231.7 304.2h1.5v2.3h-1.5zM237.3 304.2h1.5v2.3h-1.5zM242.8 304.2h1.5v2.3h-1.5zM248.4 304.2h1.5v2.3h-1.5zM253.9 304.2h1.5v2.3h-1.5zM259.5 304.2h1.5v2.3h-1.5zM265 304.2h1.5v2.3h-1.5zM270.6 304.2h1.5v2.3h-1.5zM276.1 304.2h1.5v2.3h-1.5zM281.7 304.2h1.5v2.3h-1.5zM287.3 304.2h1.5v2.3h-1.5zM292.8 304.2h1.5v2.3h-1.5zM298.4 304.2h1.5v2.3h-1.5zM303.9 304.2h1.5v2.3h-1.5zM309.5 304.2h1.5v2.3h-1.5zM315 304.2h1.5v2.3h-1.5zM320.6 304.2h1.5v2.3h-1.5zM326.2 304.2h1.5v2.3h-1.5zM331.7 304.2h1.5v2.3h-1.5zM337.3 304.2h1.5v2.3h-1.5zM342.8 304.2h1.5v2.3h-1.5zM348.4 304.2h1.5v2.3h-1.5zM353.9 304.2h1.5v2.3h-1.5z"/>
<path stroke="#262626" stroke-opacity="0.13" stroke-width="2.3" fill="none" d="M180.2 299.3V359.3M224 299.3V359.3M267.9 299.3V359.3M311.7 299.3V359.3"/>
<path stroke="#262626" stroke-opacity="0.13" stroke-width="2.3" fill="none" d="M136.4 329.3H355.5"/>
<rect x="136.4" y="299.3" width="219.1" height="60" fill="none" stroke="#262626" stroke-width="2.0"/>
<path stroke="#262626" stroke-width="2.0" fill="none" d="M136.4 359.3v-3M136.4 299.3v3M180.2 359.3v-3M180.2 299.3v3M224 359.3v-3M224 299.3v3M267.9 359.3v-3M267.9 299.3v3M311.7 359.3v-3M311.7 299.3v3M355.5 359.3v-3M355.5 299.3v3M136.4 359.3h3M355.5 359.3h-3M136.4 329.3h3M355.5 329.3h-3M136.4 299.3h3M355.5 299.3h-3"/>
<path fill="none" stroke="#0072BD" stroke-width="2.0" d="M170.9 354.2a3.95 3.95 0 1 0 7.9 0a3.95 3.95 0 1 0 -7.9 0M172.2 352.5a3.95 3.95 0 1 0 7.9 0a3.95 3.95 0 1 0 -7.9 0M173.5 350.4a3.95 3.95 0 1 0 7.9 0a3.95 3.95 0 1 0 -7.9 0M174.8 348.2a3.95 3.95 0 1 0 7.9 0a3.95 3.95 0 1 0 -7.9 0M176.1 346.4a3.95 3.95 0 1 0 7.9 0a3.95 3.95 0 1 0 -7.9 0M177.4 344.9a3.95 3.95 0 1 0 7.9 0a3.95 3.95 0 1 0 -7.9 0M178.7 343.7a3.95 3.95 0 1 0 7.9 0a3.95 3.95 0 1 0 -7.9 0M180 343a3.95 3.95 0 1 0 7.9 0a3.95 3.95 0 1 0 -7.9 0M181.3 342.6a3.95 3.95 0 1 0 7.9 0a3.95 3.95 0 1 0 -7.9 0M182.6 342.7a3.95 3.95 0 1 0 7.9 0a3.95 3.95 0 1 0 -7.9 0M183.9 343a3.95 3.95 0 1 0 7.9 0a3.95 3.95 0 1 0 -7.9 0M185 347a3.95 3.95 0 1 0 7.9 0a3.95 3.95 0 1 0 -7.9 0M185 351.2a3.95 3.95 0 1 0 7.9 0a3.95 3.95 0 1 0 -7.9 0M186.6 353.5a3.95 3.95 0 1 0 7.9 0a3.95 3.95 0 1 0 -7.9 0M188 354.6a3.95 3.95 0 1 0 7.9 0a3.95 3.95 0 1 0 -7.9 0M190.1 352a3.95 3.95 0 1 0 7.9 0a3.95 3.95 0 1 0 -7.9 0M192.1 349a3.95 3.95 0 1 0 7.9 0a3.95 3.95 0 1 0 -7.9 0M194 346.9a3.95 3.95 0 1 0 7.9 0a3.95 3.95 0 1 0 -7.9 0M197 342.6a3.95 3.95 0 1 0 7.9 0a3.95 3.95 0 1 0 -7.9 0M199.6 335.8a3.95 3.95 0 1 0 7.9 0a3.95 3.95 0 1 0 -7.9 0M202.6 331.5a3.95 3.95 0 1 0 7.9 0a3.95 3.95 0 1 0 -7.9 0M204.2 328.5a3.95 3.95 0 1 0 7.9 0a3.95 3.95 0 1 0 -7.9 0M206 316.4a3.95 3.95 0 1 0 7.9 0a3.95 3.95 0 1 0 -7.9 0M207.1 318.5a3.95 3.95 0 1 0 7.9 0a3.95 3.95 0 1 0 -7.9 0M207.6 325a3.95 3.95 0 1 0 7.9 0a3.95 3.95 0 1 0 -7.9 0M210.2 326.3a3.95 3.95 0 1 0 7.9 0a3.95 3.95 0 1 0 -7.9 0M212 328a3.95 3.95 0 1 0 7.9 0a3.95 3.95 0 1 0 -7.9 0M213.6 324a3.95 3.95 0 1 0 7.9 0a3.95 3.95 0 1 0 -7.9 0M215.4 321.2a3.95 3.95 0 1 0 7.9 0a3.95 3.95 0 1 0 -7.9 0M216.2 317.9a3.95 3.95 0 1 0 7.9 0a3.95 3.95 0 1 0 -7.9 0M217.5 315.2a3.95 3.95 0 1 0 7.9 0a3.95 3.95 0 1 0 -7.9 0M218.8 317.2a3.95 3.95 0 1 0 7.9 0a3.95 3.95 0 1 0 -7.9 0M220.1 315.7a3.95 3.95 0 1 0 7.9 0a3.95 3.95 0 1 0 -7.9 0M221.3 314.1a3.95 3.95 0 1 0 7.9 0a3.95 3.95 0 1 0 -7.9 0M222.7 313.9a3.95 3.95 0 1 0 7.9 0a3.95 3.95 0 1 0 -7.9 0M224 311.4a3.95 3.95 0 1 0 7.9 0a3.95 3.95 0 1 0 -7.9 0M225.2 311.1a3.95 3.95 0 1 0 7.9 0a3.95 3.95 0 1 0 -7.9 0M226.6 310.3a3.95 3.95 0 1 0 7.9 0a3.95 3.95 0 1 0 -7.9 0M227.8 311.3a3.95 3.95 0 1 0 7.9 0a3.95 3.95 0 1 0 -7.9 0M229.2 309.5a3.95 3.95 0 1 0 7.9 0a3.95 3.95 0 1 0 -7.9 0M230.5 312a3.95 3.95 0 1 0 7.9 0a3.95 3.95 0 1 0 -7.9 0M231.8 310.5a3.95 3.95 0 1 0 7.9 0a3.95 3.95 0 1 0 -7.9 0M233.1 310.8a3.95 3.95 0 1 0 7.9 0a3.95 3.95 0 1 0 -7.9 0M234.3 310.1a3.95 3.95 0 1 0 7.9 0a3.95 3.95 0 1 0 -7.9 0M235.7 312.3a3.95 3.95 0 1 0 7.9 0a3.95 3.95 0 1 0 -7.9 0M237 313.3a3.95 3.95 0 1 0 7.9 0a3.95 3.95 0 1 0 -7.9 0M238.2 314.2a3.95 3.95 0 1 0 7.9 0a3.95 3.95 0 1 0 -7.9 0M239.6 314.5a3.95 3.95 0 1 0 7.9 0a3.95 3.95 0 1 0 -7.9 0M240.8 317.8a3.95 3.95 0 1 0 7.9 0a3.95 3.95 0 1 0 -7.9 0M242.2 317.1a3.95 3.95 0 1 0 7.9 0a3.95 3.95 0 1 0 -7.9 0M243.5 320.1a3.95 3.95 0 1 0 7.9 0a3.95 3.95 0 1 0 -7.9 0M244.8 320.1a3.95 3.95 0 1 0 7.9 0a3.95 3.95 0 1 0 -7.9 0M246.1 319.9a3.95 3.95 0 1 0 7.9 0a3.95 3.95 0 1 0 -7.9 0M247.4 321.2a3.95 3.95 0 1 0 7.9 0a3.95 3.95 0 1 0 -7.9 0M248.7 321.5a3.95 3.95 0 1 0 7.9 0a3.95 3.95 0 1 0 -7.9 0M250 320.3a3.95 3.95 0 1 0 7.9 0a3.95 3.95 0 1 0 -7.9 0M251.2 322.1a3.95 3.95 0 1 0 7.9 0a3.95 3.95 0 1 0 -7.9 0M252.6 320.6a3.95 3.95 0 1 0 7.9 0a3.95 3.95 0 1 0 -7.9 0M253.9 321.8a3.95 3.95 0 1 0 7.9 0a3.95 3.95 0 1 0 -7.9 0M255.2 321.3a3.95 3.95 0 1 0 7.9 0a3.95 3.95 0 1 0 -7.9 0M256.4 318.6a3.95 3.95 0 1 0 7.9 0a3.95 3.95 0 1 0 -7.9 0M257.8 320a3.95 3.95 0 1 0 7.9 0a3.95 3.95 0 1 0 -7.9 0M259.1 318.2a3.95 3.95 0 1 0 7.9 0a3.95 3.95 0 1 0 -7.9 0M260.4 319a3.95 3.95 0 1 0 7.9 0a3.95 3.95 0 1 0 -7.9 0M261.7 317.6a3.95 3.95 0 1 0 7.9 0a3.95 3.95 0 1 0 -7.9 0M262.9 316.7a3.95 3.95 0 1 0 7.9 0a3.95 3.95 0 1 0 -7.9 0M264.2 317.3a3.95 3.95 0 1 0 7.9 0a3.95 3.95 0 1 0 -7.9 0M265.6 313.8a3.95 3.95 0 1 0 7.9 0a3.95 3.95 0 1 0 -7.9 0M266.9 314.7a3.95 3.95 0 1 0 7.9 0a3.95 3.95 0 1 0 -7.9 0M268.2 313.2a3.95 3.95 0 1 0 7.9 0a3.95 3.95 0 1 0 -7.9 0M269.4 311.6a3.95 3.95 0 1 0 7.9 0a3.95 3.95 0 1 0 -7.9 0M270.8 313.3a3.95 3.95 0 1 0 7.9 0a3.95 3.95 0 1 0 -7.9 0M272.1 312a3.95 3.95 0 1 0 7.9 0a3.95 3.95 0 1 0 -7.9 0M273.4 312.5a3.95 3.95 0 1 0 7.9 0a3.95 3.95 0 1 0 -7.9 0M274.7 311.1a3.95 3.95 0 1 0 7.9 0a3.95 3.95 0 1 0 -7.9 0M275.9 309.8a3.95 3.95 0 1 0 7.9 0a3.95 3.95 0 1 0 -7.9 0M277.2 311.4a3.95 3.95 0 1 0 7.9 0a3.95 3.95 0 1 0 -7.9 0M278.6 308.2a3.95 3.95 0 1 0 7.9 0a3.95 3.95 0 1 0 -7.9 0M279.9 307.6a3.95 3.95 0 1 0 7.9 0a3.95 3.95 0 1 0 -7.9 0M281.2 309.4a3.95 3.95 0 1 0 7.9 0a3.95 3.95 0 1 0 -7.9 0M282.6 306.8a3.95 3.95 0 1 0 7.9 0a3.95 3.95 0 1 0 -7.9 0M283.4 309.8a3.95 3.95 0 1 0 7.9 0a3.95 3.95 0 1 0 -7.9 0M279.9 313.5a3.95 3.95 0 1 0 7.9 0a3.95 3.95 0 1 0 -7.9 0M283.9 322.9a3.95 3.95 0 1 0 7.9 0a3.95 3.95 0 1 0 -7.9 0M286.1 348.8a3.95 3.95 0 1 0 7.9 0a3.95 3.95 0 1 0 -7.9 0M289.2 356a3.95 3.95 0 1 0 7.9 0a3.95 3.95 0 1 0 -7.9 0M291.1 352a3.95 3.95 0 1 0 7.9 0a3.95 3.95 0 1 0 -7.9 0M295.6 344.5a3.95 3.95 0 1 0 7.9 0a3.95 3.95 0 1 0 -7.9 0M300.9 354.2a3.95 3.95 0 1 0 7.9 0a3.95 3.95 0 1 0 -7.9 0M298.1 357a3.95 3.95 0 1 0 7.9 0a3.95 3.95 0 1 0 -7.9 0M298.1 358.5a3.95 3.95 0 1 0 7.9 0a3.95 3.95 0 1 0 -7.9 0M299.4 358.5a3.95 3.95 0 1 0 7.9 0a3.95 3.95 0 1 0 -7.9 0M300.7 358.6a3.95 3.95 0 1 0 7.9 0a3.95 3.95 0 1 0 -7.9 0M301.9 358.6a3.95 3.95 0 1 0 7.9 0a3.95 3.95 0 1 0 -7.9 0M303.2 358.7a3.95 3.95 0 1 0 7.9 0a3.95 3.95 0 1 0 -7.9 0M304.6 358.7a3.95 3.95 0 1 0 7.9 0a3.95 3.95 0 1 0 -7.9 0M305.9 358.8a3.95 3.95 0 1 0 7.9 0a3.95 3.95 0 1 0 -7.9 0M307.2 358.8a3.95 3.95 0 1 0 7.9 0a3.95 3.95 0 1 0 -7.9 0M308.4 358.8a3.95 3.95 0 1 0 7.9 0a3.95 3.95 0 1 0 -7.9 0M309.8 358.8a3.95 3.95 0 1 0 7.9 0a3.95 3.95 0 1 0 -7.9 0M311.1 358.8a3.95 3.95 0 1 0 7.9 0a3.95 3.95 0 1 0 -7.9 0M312.4 358.8a3.95 3.95 0 1 0 7.9 0a3.95 3.95 0 1 0 -7.9 0M313.7 358.8a3.95 3.95 0 1 0 7.9 0a3.95 3.95 0 1 0 -7.9 0M314.9 358.8a3.95 3.95 0 1 0 7.9 0a3.95 3.95 0 1 0 -7.9 0M316.2 358.8a3.95 3.95 0 1 0 7.9 0a3.95 3.95 0 1 0 -7.9 0M317.6 358.8a3.95 3.95 0 1 0 7.9 0a3.95 3.95 0 1 0 -7.9 0M318.9 358.8a3.95 3.95 0 1 0 7.9 0a3.95 3.95 0 1 0 -7.9 0M320.2 358.8a3.95 3.95 0 1 0 7.9 0a3.95 3.95 0 1 0 -7.9 0M321.4 358.8a3.95 3.95 0 1 0 7.9 0a3.95 3.95 0 1 0 -7.9 0M322.8 358.8a3.95 3.95 0 1 0 7.9 0a3.95 3.95 0 1 0 -7.9 0M324.1 358.8a3.95 3.95 0 1 0 7.9 0a3.95 3.95 0 1 0 -7.9 0M325.4 358.8a3.95 3.95 0 1 0 7.9 0a3.95 3.95 0 1 0 -7.9 0M326.7 358.8a3.95 3.95 0 1 0 7.9 0a3.95 3.95 0 1 0 -7.9 0M327.9 358.7a3.95 3.95 0 1 0 7.9 0a3.95 3.95 0 1 0 -7.9 0M329.2 358.7a3.95 3.95 0 1 0 7.9 0a3.95 3.95 0 1 0 -7.9 0M330.6 358.7a3.95 3.95 0 1 0 7.9 0a3.95 3.95 0 1 0 -7.9 0M331.9 358.6a3.95 3.95 0 1 0 7.9 0a3.95 3.95 0 1 0 -7.9 0M333.2 358.6a3.95 3.95 0 1 0 7.9 0a3.95 3.95 0 1 0 -7.9 0M334.4 358.5a3.95 3.95 0 1 0 7.9 0a3.95 3.95 0 1 0 -7.9 0M335.8 358.5a3.95 3.95 0 1 0 7.9 0a3.95 3.95 0 1 0 -7.9 0M337.1 358.2a3.95 3.95 0 1 0 7.9 0a3.95 3.95 0 1 0 -7.9 0M338.4 357.8a3.95 3.95 0 1 0 7.9 0a3.95 3.95 0 1 0 -7.9 0M339.7 357.4a3.95 3.95 0 1 0 7.9 0a3.95 3.95 0 1 0 -7.9 0M340.9 357a3.95 3.95 0 1 0 7.9 0a3.95 3.95 0 1 0 -7.9 0M342.2 356.6a3.95 3.95 0 1 0 7.9 0a3.95 3.95 0 1 0 -7.9 0M343.6 356.2a3.95 3.95 0 1 0 7.9 0a3.95 3.95 0 1 0 -7.9 0M344.9 356.2a3.95 3.95 0 1 0 7.9 0a3.95 3.95 0 1 0 -7.9 0"/>
<path fill="#bcbcbc" filter="url(#sb)" d="M137.2 478.7h1.5v2.3h-1.5zM142.8 478.7h1.5v2.3h-1.5zM148.4 478.7h1.5v2.3h-1.5zM153.9 478.7h1.5v2.3h-1.5zM159.5 478.7h1.5v2.3h-1.5zM165 478.7h1.5v2.3h-1.5zM170.6 478.7h1.5v2.3h-1.5zM176.1 478.7h1.5v2.3h-1.5zM181.7 478.7h1.5v2.3h-1.5zM187.3 478.7h1.5v2.3h-1.5zM192.8 478.7h1.5v2.3h-1.5zM198.4 478.7h1.5v2.3h-1.5zM203.9 478.7h1.5v2.3h-1.5zM209.5 478.7h1.5v2.3h-1.5zM215 478.7h1.5v2.3h-1.5zM220.6 478.7h1.5v2.3h-1.5zM226.1 478.7h1.5v2.3h-1.5zM231.7 478.7h1.5v2.3h-1.5zM237.3 478.7h1.5v2.3h-1.5zM242.8 478.7h1.5v2.3h-1.5zM248.4 478.7h1.5v2.3h-1.5zM253.9 478.7h1.5v2.3h-1.5zM259.5 478.7h1.5v2.3h-1.5zM265 478.7h1.5v2.3h-1.5zM270.6 478.7h1.5v2.3h-1.5zM276.1 478.7h1.5v2.3h-1.5zM281.7 478.7h1.5v2.3h-1.5zM287.3 478.7h1.5v2.3h-1.5zM292.8 478.7h1.5v2.3h-1.5zM298.4 478.7h1.5v2.3h-1.5zM303.9 478.7h1.5v2.3h-1.5zM309.5 478.7h1.5v2.3h-1.5zM315 478.7h1.5v2.3h-1.5zM320.6 478.7h1.5v2.3h-1.5zM326.2 478.7h1.5v2.3h-1.5zM331.7 478.7h1.5v2.3h-1.5zM337.3 478.7h1.5v2.3h-1.5zM342.8 478.7h1.5v2.3h-1.5zM348.4 478.7h1.5v2.3h-1.5zM353.9 478.7h1.5v2.3h-1.5zM137.2 471.2h1.5v2.3h-1.5zM142.8 471.2h1.5v2.3h-1.5zM148.4 471.2h1.5v2.3h-1.5zM153.9 471.2h1.5v2.3h-1.5zM159.5 471.2h1.5v2.3h-1.5zM165 471.2h1.5v2.3h-1.5zM170.6 471.2h1.5v2.3h-1.5zM176.1 471.2h1.5v2.3h-1.5zM181.7 471.2h1.5v2.3h-1.5zM187.3 471.2h1.5v2.3h-1.5zM192.8 471.2h1.5v2.3h-1.5zM198.4 471.2h1.5v2.3h-1.5zM203.9 471.2h1.5v2.3h-1.5zM209.5 471.2h1.5v2.3h-1.5zM215 471.2h1.5v2.3h-1.5zM220.6 471.2h1.5v2.3h-1.5zM226.1 471.2h1.5v2.3h-1.5zM231.7 471.2h1.5v2.3h-1.5zM237.3 471.2h1.5v2.3h-1.5zM242.8 471.2h1.5v2.3h-1.5zM248.4 471.2h1.5v2.3h-1.5zM253.9 471.2h1.5v2.3h-1.5zM259.5 471.2h1.5v2.3h-1.5zM265 471.2h1.5v2.3h-1.5zM270.6 471.2h1.5v2.3h-1.5zM276.1 471.2h1.5v2.3h-1.5zM281.7 471.2h1.5v2.3h-1.5zM287.3 471.2h1.5v2.3h-1.5zM292.8 471.2h1.5v2.3h-1.5zM298.4 471.2h1.5v2.3h-1.5zM303.9 471.2h1.5v2.3h-1.5zM309.5 471.2h1.5v2.3h-1.5zM315 471.2h1.5v2.3h-1.5zM320.6 471.2h1.5v2.3h-1.5zM326.2 471.2h1.5v2.3h-1.5zM331.7 471.2h1.5v2.3h-1.5zM337.3 471.2h1.5v2.3h-1.5zM342.8 471.2h1.5v2.3h-1.5zM348.4 471.2h1.5v2.3h-1.5zM353.9 471.2h1.5v2.3h-1.5zM137.2 463.7h1.5v2.3h-1.5zM142.8 463.7h1.5v2.3h-1.5zM148.4 463.7h1.5v2.3h-1.5zM153.9 463.7h1.5v2.3h-1.5zM159.5 463.7h1.5v2.3h-1.5zM165 463.7h1.5v2.3h-1.5zM170.6 463.7h1.5v2.3h-1.5zM176.1 463.7h1.5v2.3h-1.5zM181.7 463.7h1.5v2.3h-1.5zM187.3 463.7h1.5v2.3h-1.5zM192.8 463.7h1.5v2.3h-1.5zM198.4 463.7h1.5v2.3h-1.5zM203.9 463.7h1.5v2.3h-1.5zM209.5 463.7h1.5v2.3h-1.5zM215 463.7h1.5v2.3h-1.5zM220.6 463.7h1.5v2.3h-1.5zM226.1 463.7h1.5v2.3h-1.5zM231.7 463.7h1.5v2.3h-1.5zM237.3 463.7h1.5v2.3h-1.5zM242.8 463.7h1.5v2.3h-1.5zM248.4 463.7h1.5v2.3h-1.5zM253.9 463.7h1.5v2.3h-1.5zM259.5 463.7h1.5v2.3h-1.5zM265 463.7h1.5v2.3h-1.5zM270.6 463.7h1.5v2.3h-1.5zM276.1 463.7h1.5v2.3h-1.5zM281.7 463.7h1.5v2.3h-1.5zM287.3 463.7h1.5v2.3h-1.5zM292.8 463.7h1.5v2.3h-1.5zM298.4 463.7h1.5v2.3h-1.5zM303.9 463.7h1.5v2.3h-1.5zM309.5 463.7h1.5v2.3h-1.5zM315 463.7h1.5v2.3h-1.5zM320.6 463.7h1.5v2.3h-1.5zM326.2 463.7h1.5v2.3h-1.5zM331.7 463.7h1.5v2.3h-1.5zM337.3 463.7h1.5v2.3h-1.5zM342.8 463.7h1.5v2.3h-1.5zM348.4 463.7h1.5v2.3h-1.5zM353.9 463.7h1.5v2.3h-1.5zM137.2 448.7h1.5v2.3h-1.5zM142.8 448.7h1.5v2.3h-1.5zM148.4 448.7h1.5v2.3h-1.5zM153.9 448.7h1.5v2.3h-1.5zM159.5 448.7h1.5v2.3h-1.5zM165 448.7h1.5v2.3h-1.5zM170.6 448.7h1.5v2.3h-1.5zM176.1 448.7h1.5v2.3h-1.5zM181.7 448.7h1.5v2.3h-1.5zM187.3 448.7h1.5v2.3h-1.5zM192.8 448.7h1.5v2.3h-1.5zM198.4 448.7h1.5v2.3h-1.5zM203.9 448.7h1.5v2.3h-1.5zM209.5 448.7h1.5v2.3h-1.5zM215 448.7h1.5v2.3h-1.5zM220.6 448.7h1.5v2.3h-1.5zM226.1 448.7h1.5v2.3h-1.5zM231.7 448.7h1.5v2.3h-1.5zM237.3 448.7h1.5v2.3h-1.5zM242.8 448.7h1.5v2.3h-1.5zM248.4 448.7h1.5v2.3h-1.5zM253.9 448.7h1.5v2.3h-1.5zM259.5 448.7h1.5v2.3h-1.5zM265 448.7h1.5v2.3h-1.5zM270.6 448.7h1.5v2.3h-1.5zM276.1 448.7h1.5v2.3h-1.5zM281.7 448.7h1.5v2.3h-1.5zM287.3 448.7h1.5v2.3h-1.5zM292.8 448.7h1.5v2.3h-1.5zM298.4 448.7h1.5v2.3h-1.5zM303.9 448.7h1.5v2.3h-1.5zM309.5 448.7h1.5v2.3h-1.5zM315 448.7h1.5v2.3h-1.5zM320.6 448.7h1.5v2.3h-1.5zM326.2 448.7h1.5v2.3h-1.5zM331.7 448.7h1.5v2.3h-1.5zM337.3 448.7h1.5v2.3h-1.5zM342.8 448.7h1.5v2.3h-1.5zM348.4 448.7h1.5v2.3h-1.5zM353.9 448.7h1.5v2.3h-1.5zM137.2 441.2h1.5v2.3h-1.5zM142.8 441.2h1.5v2.3h-1.5zM148.4 441.2h1.5v2.3h-1.5zM153.9 441.2h1.5v2.3h-1.5zM159.5 441.2h1.5v2.3h-1.5zM165 441.2h1.5v2.3h-1.5zM170.6 441.2h1.5v2.3h-1.5zM176.1 441.2h1.5v2.3h-1.5zM181.7 441.2h1.5v2.3h-1.5zM187.3 441.2h1.5v2.3h-1.5zM192.8 441.2h1.5v2.3h-1.5zM198.4 441.2h1.5v2.3h-1.5zM203.9 441.2h1.5v2.3h-1.5zM209.5 441.2h1.5v2.3h-1.5zM215 441.2h1.5v2.3h-1.5zM220.6 441.2h1.5v2.3h-1.5zM226.1 441.2h1.5v2.3h-1.5zM231.7 441.2h1.5v2.3h-1.5zM237.3 441.2h1.5v2.3h-1.5zM242.8 441.2h1.5v2.3h-1.5zM248.4 441.2h1.5v2.3h-1.5zM253.9 441.2h1.5v2.3h-1.5zM259.5 441.2h1.5v2.3h-1.5zM265 441.2h1.5v2.3h-1.5zM270.6 441.2h1.5v2.3h-1.5zM276.1 441.2h1.5v2.3h-1.5zM281.7 441.2h1.5v2.3h-1.5zM287.3 441.2h1.5v2.3h-1.5zM292.8 441.2h1.5v2.3h-1.5zM298.4 441.2h1.5v2.3h-1.5zM303.9 441.2h1.5v2.3h-1.5zM309.5 441.2h1.5v2.3h-1.5zM315 441.2h1.5v2.3h-1.5zM320.6 441.2h1.5v2.3h-1.5zM326.2 441.2h1.5v2.3h-1.5zM331.7 441.2h1.5v2.3h-1.5zM337.3 441.2h1.5v2.3h-1.5zM342.8 441.2h1.5v2.3h-1.5zM348.4 441.2h1.5v2.3h-1.5zM353.9 441.2h1.5v2.3h-1.5zM137.2 433.7h1.5v2.3h-1.5zM142.8 433.7h1.5v2.3h-1.5zM148.4 433.7h1.5v2.3h-1.5zM153.9 433.7h1.5v2.3h-1.5zM159.5 433.7h1.5v2.3h-1.5zM165 433.7h1.5v2.3h-1.5zM170.6 433.7h1.5v2.3h-1.5zM176.1 433.7h1.5v2.3h-1.5zM181.7 433.7h1.5v2.3h-1.5zM187.3 433.7h1.5v2.3h-1.5zM192.8 433.7h1.5v2.3h-1.5zM198.4 433.7h1.5v2.3h-1.5zM203.9 433.7h1.5v2.3h-1.5zM209.5 433.7h1.5v2.3h-1.5zM215 433.7h1.5v2.3h-1.5zM220.6 433.7h1.5v2.3h-1.5zM226.1 433.7h1.5v2.3h-1.5zM231.7 433.7h1.5v2.3h-1.5zM237.3 433.7h1.5v2.3h-1.5zM242.8 433.7h1.5v2.3h-1.5zM248.4 433.7h1.5v2.3h-1.5zM253.9 433.7h1.5v2.3h-1.5zM259.5 433.7h1.5v2.3h-1.5zM265 433.7h1.5v2.3h-1.5zM270.6 433.7h1.5v2.3h-1.5zM276.1 433.7h1.5v2.3h-1.5zM281.7 433.7h1.5v2.3h-1.5zM287.3 433.7h1.5v2.3h-1.5zM292.8 433.7h1.5v2.3h-1.5zM298.4 433.7h1.5v2.3h-1.5zM303.9 433.7h1.5v2.3h-1.5zM309.5 433.7h1.5v2.3h-1.5zM315 433.7h1.5v2.3h-1.5zM320.6 433.7h1.5v2.3h-1.5zM326.2 433.7h1.5v2.3h-1.5zM331.7 433.7h1.5v2.3h-1.5zM337.3 433.7h1.5v2.3h-1.5zM342.8 433.7h1.5v2.3h-1.5zM348.4 433.7h1.5v2.3h-1.5zM353.9 433.7h1.5v2.3h-1.5z"/>
<path stroke="#262626" stroke-opacity="0.13" stroke-width="2.3" fill="none" d="M180.2 427.3V487.3M224 427.3V487.3M267.9 427.3V487.3M311.7 427.3V487.3"/>
<path stroke="#262626" stroke-opacity="0.13" stroke-width="2.3" fill="none" d="M136.4 457.3H355.5"/>
<rect x="136.4" y="427.3" width="219.1" height="60" fill="none" stroke="#262626" stroke-width="2.0"/>
<path stroke="#262626" stroke-width="2.0" fill="none" d="M136.4 487.3v-3M136.4 427.3v3M180.2 487.3v-3M180.2 427.3v3M224 487.3v-3M224 427.3v3M267.9 487.3v-3M267.9 427.3v3M311.7 487.3v-3M311.7 427.3v3M355.5 487.3v-3M355.5 427.3v3M136.4 487.3h3M355.5 487.3h-3M136.4 457.3h3M355.5 457.3h-3M136.4 427.3h3M355.5 427.3h-3"/>
<path fill="none" stroke="#0072BD" stroke-width="2.0" d="M170.5 487.1a3.95 3.95 0 1 0 7.9 0a3.95 3.95 0 1 0 -7.9 0M171.8 487.1a3.95 3.95 0 1 0 7.9 0a3.95 3.95 0 1 0 -7.9 0M173.1 487.1a3.95 3.95 0 1 0 7.9 0a3.95 3.95 0 1 0 -7.9 0M174.4 487.1a3.95 3.95 0 1 0 7.9 0a3.95 3.95 0 1 0 -7.9 0M175.7 487.1a3.95 3.95 0 1 0 7.9 0a3.95 3.95 0 1 0 -7.9 0M177 487.1a3.95 3.95 0 1 0 7.9 0a3.95 3.95 0 1 0 -7.9 0M178.3 487.1a3.95 3.95 0 1 0 7.9 0a3.95 3.95 0 1 0 -7.9 0M179.6 487.1a3.95 3.95 0 1 0 7.9 0a3.95 3.95 0 1 0 -7.9 0M180.9 487.1a3.95 3.95 0 1 0 7.9 0a3.95 3.95 0 1 0 -7.9 0M182.2 487.1a3.95 3.95 0 1 0 7.9 0a3.95 3.95 0 1 0 -7.9 0M183.5 487.1a3.95 3.95 0 1 0 7.9 0a3.95 3.95 0 1 0 -7.9 0M184.8 487.1a3.95 3.95 0 1 0 7.9 0a3.95 3.95 0 1 0 -7.9 0M186.1 487.1a3.95 3.95 0 1 0 7.9 0a3.95 3.95 0 1 0 -7.9 0M187.4 487.1a3.95 3.95 0 1 0 7.9 0a3.95 3.95 0 1 0 -7.9 0M188.7 487.1a3.95 3.95 0 1 0 7.9 0a3.95 3.95 0 1 0 -7.9 0M190 487.1a3.95 3.95 0 1 0 7.9 0a3.95 3.95 0 1 0 -7.9 0M191.3 487.1a3.95 3.95 0 1 0 7.9 0a3.95 3.95 0 1 0 -7.9 0M192.6 487.1a3.95 3.95 0 1 0 7.9 0a3.95 3.95 0 1 0 -7.9 0M193.9 487.1a3.95 3.95 0 1 0 7.9 0a3.95 3.95 0 1 0 -7.9 0M195.2 487.1a3.95 3.95 0 1 0 7.9 0a3.95 3.95 0 1 0 -7.9 0M196.5 487.1a3.95 3.95 0 1 0 7.9 0a3.95 3.95 0 1 0 -7.9 0M197.8 487.1a3.95 3.95 0 1 0 7.9 0a3.95 3.95 0 1 0 -7.9 0M199.1 487.1a3.95 3.95 0 1 0 7.9 0a3.95 3.95 0 1 0 -7.9 0M200.4 487.1a3.95 3.95 0 1 0 7.9 0a3.95 3.95 0 1 0 -7.9 0M201.7 487.1a3.95 3.95 0 1 0 7.9 0a3.95 3.95 0 1 0 -7.9 0M203 487.1a3.95 3.95 0 1 0 7.9 0a3.95 3.95 0 1 0 -7.9 0M204.3 487.1a3.95 3.95 0 1 0 7.9 0a3.95 3.95 0 1 0 -7.9 0M205.6 487.1a3.95 3.95 0 1 0 7.9 0a3.95 3.95 0 1 0 -7.9 0M206.9 486.5a3.95 3.95 0 1 0 7.9 0a3.95 3.95 0 1 0 -7.9 0M208.2 485.5a3.95 3.95 0 1 0 7.9 0a3.95 3.95 0 1 0 -7.9 0M209.5 485.6a3.95 3.95 0 1 0 7.9 0a3.95 3.95 0 1 0 -7.9 0M210.8 486.8a3.95 3.95 0 1 0 7.9 0a3.95 3.95 0 1 0 -7.9 0M212.1 487.1a3.95 3.95 0 1 0 7.9 0a3.95 3.95 0 1 0 -7.9 0M213.4 487.1a3.95 3.95 0 1 0 7.9 0a3.95 3.95 0 1 0 -7.9 0M214.7 487.1a3.95 3.95 0 1 0 7.9 0a3.95 3.95 0 1 0 -7.9 0M216 487.1a3.95 3.95 0 1 0 7.9 0a3.95 3.95 0 1 0 -7.9 0M217.3 487.1a3.95 3.95 0 1 0 7.9 0a3.95 3.95 0 1 0 -7.9 0M218.6 487.1a3.95 3.95 0 1 0 7.9 0a3.95 3.95 0 1 0 -7.9 0M219.9 487.1a3.95 3.95 0 1 0 7.9 0a3.95 3.95 0 1 0 -7.9 0M221.2 487.1a3.95 3.95 0 1 0 7.9 0a3.95 3.95 0 1 0 -7.9 0M222.5 487.1a3.95 3.95 0 1 0 7.9 0a3.95 3.95 0 1 0 -7.9 0M223.8 487.1a3.95 3.95 0 1 0 7.9 0a3.95 3.95 0 1 0 -7.9 0M225.1 487.1a3.95 3.95 0 1 0 7.9 0a3.95 3.95 0 1 0 -7.9 0M226.4 487.1a3.95 3.95 0 1 0 7.9 0a3.95 3.95 0 1 0 -7.9 0M227.7 487.1a3.95 3.95 0 1 0 7.9 0a3.95 3.95 0 1 0 -7.9 0M229 487.1a3.95 3.95 0 1 0 7.9 0a3.95 3.95 0 1 0 -7.9 0M230.3 487.1a3.95 3.95 0 1 0 7.9 0a3.95 3.95 0 1 0 -7.9 0M231.6 487.1a3.95 3.95 0 1 0 7.9 0a3.95 3.95 0 1 0 -7.9 0M232.9 487.1a3.95 3.95 0 1 0 7.9 0a3.95 3.95 0 1 0 -7.9 0M234.2 487.1a3.95 3.95 0 1 0 7.9 0a3.95 3.95 0 1 0 -7.9 0M235.5 487.1a3.95 3.95 0 1 0 7.9 0a3.95 3.95 0 1 0 -7.9 0M236.8 487.1a3.95 3.95 0 1 0 7.9 0a3.95 3.95 0 1 0 -7.9 0M238.1 487.1a3.95 3.95 0 1 0 7.9 0a3.95 3.95 0 1 0 -7.9 0M239.4 487.1a3.95 3.95 0 1 0 7.9 0a3.95 3.95 0 1 0 -7.9 0M240.7 487.1a3.95 3.95 0 1 0 7.9 0a3.95 3.95 0 1 0 -7.9 0M242 487.1a3.95 3.95 0 1 0 7.9 0a3.95 3.95 0 1 0 -7.9 0M243.2 486.9a3.95 3.95 0 1 0 7.9 0a3.95 3.95 0 1 0 -7.9 0M244.6 485.9a3.95 3.95 0 1 0 7.9 0a3.95 3.95 0 1 0 -7.9 0M245.9 485.2a3.95 3.95 0 1 0 7.9 0a3.95 3.95 0 1 0 -7.9 0M247.2 486.3a3.95 3.95 0 1 0 7.9 0a3.95 3.95 0 1 0 -7.9 0M248.5 487.1a3.95 3.95 0 1 0 7.9 0a3.95 3.95 0 1 0 -7.9 0M249.8 487.1a3.95 3.95 0 1 0 7.9 0a3.95 3.95 0 1 0 -7.9 0M251.1 487.1a3.95 3.95 0 1 0 7.9 0a3.95 3.95 0 1 0 -7.9 0M252.4 487.1a3.95 3.95 0 1 0 7.9 0a3.95 3.95 0 1 0 -7.9 0M253.7 487.1a3.95 3.95 0 1 0 7.9 0a3.95 3.95 0 1 0 -7.9 0M254.9 487.1a3.95 3.95 0 1 0 7.9 0a3.95 3.95 0 1 0 -7.9 0M256.2 487.1a3.95 3.95 0 1 0 7.9 0a3.95 3.95 0 1 0 -7.9 0M257.6 487.1a3.95 3.95 0 1 0 7.9 0a3.95 3.95 0 1 0 -7.9 0M258.9 487.1a3.95 3.95 0 1 0 7.9 0a3.95 3.95 0 1 0 -7.9 0M260.2 487.1a3.95 3.95 0 1 0 7.9 0a3.95 3.95 0 1 0 -7.9 0M261.4 487.1a3.95 3.95 0 1 0 7.9 0a3.95 3.95 0 1 0 -7.9 0M262.8 487.1a3.95 3.95 0 1 0 7.9 0a3.95 3.95 0 1 0 -7.9 0M264.1 487.1a3.95 3.95 0 1 0 7.9 0a3.95 3.95 0 1 0 -7.9 0M265.4 487.1a3.95 3.95 0 1 0 7.9 0a3.95 3.95 0 1 0 -7.9 0M266.7 487.1a3.95 3.95 0 1 0 7.9 0a3.95 3.95 0 1 0 -7.9 0M267.9 487.1a3.95 3.95 0 1 0 7.9 0a3.95 3.95 0 1 0 -7.9 0M269.2 487.1a3.95 3.95 0 1 0 7.9 0a3.95 3.95 0 1 0 -7.9 0M270.6 487.1a3.95 3.95 0 1 0 7.9 0a3.95 3.95 0 1 0 -7.9 0M271.9 487.1a3.95 3.95 0 1 0 7.9 0a3.95 3.95 0 1 0 -7.9 0M273.2 487.1a3.95 3.95 0 1 0 7.9 0a3.95 3.95 0 1 0 -7.9 0M274.4 487.1a3.95 3.95 0 1 0 7.9 0a3.95 3.95 0 1 0 -7.9 0M275.8 487.1a3.95 3.95 0 1 0 7.9 0a3.95 3.95 0 1 0 -7.9 0M277.1 487.1a3.95 3.95 0 1 0 7.9 0a3.95 3.95 0 1 0 -7.9 0M278.4 487.1a3.95 3.95 0 1 0 7.9 0a3.95 3.95 0 1 0 -7.9 0M279.7 487.1a3.95 3.95 0 1 0 7.9 0a3.95 3.95 0 1 0 -7.9 0M280.9 487.1a3.95 3.95 0 1 0 7.9 0a3.95 3.95 0 1 0 -7.9 0M283.9 476.5a3.95 3.95 0 1 0 7.9 0a3.95 3.95 0 1 0 -7.9 0M286.9 454.8a3.95 3.95 0 1 0 7.9 0a3.95 3.95 0 1 0 -7.9 0M287.4 458.4a3.95 3.95 0 1 0 7.9 0a3.95 3.95 0 1 0 -7.9 0M290.4 456a3.95 3.95 0 1 0 7.9 0a3.95 3.95 0 1 0 -7.9 0M291.1 446.4a3.95 3.95 0 1 0 7.9 0a3.95 3.95 0 1 0 -7.9 0M295.2 467.4a3.95 3.95 0 1 0 7.9 0a3.95 3.95 0 1 0 -7.9 0M296.4 465.6a3.95 3.95 0 1 0 7.9 0a3.95 3.95 0 1 0 -7.9 0M298.2 454.2a3.95 3.95 0 1 0 7.9 0a3.95 3.95 0 1 0 -7.9 0M301.2 440.4a3.95 3.95 0 1 0 7.9 0a3.95 3.95 0 1 0 -7.9 0M302.6 443a3.95 3.95 0 1 0 7.9 0a3.95 3.95 0 1 0 -7.9 0M305.1 449a3.95 3.95 0 1 0 7.9 0a3.95 3.95 0 1 0 -7.9 0M308.1 450a3.95 3.95 0 1 0 7.9 0a3.95 3.95 0 1 0 -7.9 0M302.1 442a3.95 3.95 0 1 0 7.9 0a3.95 3.95 0 1 0 -7.9 0M303.9 444.2a3.95 3.95 0 1 0 7.9 0a3.95 3.95 0 1 0 -7.9 0M305.9 445.8a3.95 3.95 0 1 0 7.9 0a3.95 3.95 0 1 0 -7.9 0M307.8 446.6a3.95 3.95 0 1 0 7.9 0a3.95 3.95 0 1 0 -7.9 0M309.7 445.2a3.95 3.95 0 1 0 7.9 0a3.95 3.95 0 1 0 -7.9 0M311.6 443.3a3.95 3.95 0 1 0 7.9 0a3.95 3.95 0 1 0 -7.9 0M313.4 441.8a3.95 3.95 0 1 0 7.9 0a3.95 3.95 0 1 0 -7.9 0M315.4 440.3a3.95 3.95 0 1 0 7.9 0a3.95 3.95 0 1 0 -7.9 0M317.2 439.7a3.95 3.95 0 1 0 7.9 0a3.95 3.95 0 1 0 -7.9 0M319.2 442.3a3.95 3.95 0 1 0 7.9 0a3.95 3.95 0 1 0 -7.9 0M321.1 445.4a3.95 3.95 0 1 0 7.9 0a3.95 3.95 0 1 0 -7.9 0M322.9 449.6a3.95 3.95 0 1 0 7.9 0a3.95 3.95 0 1 0 -7.9 0M324.9 453.9a3.95 3.95 0 1 0 7.9 0a3.95 3.95 0 1 0 -7.9 0M326.8 457.4a3.95 3.95 0 1 0 7.9 0a3.95 3.95 0 1 0 -7.9 0M328.7 459.5a3.95 3.95 0 1 0 7.9 0a3.95 3.95 0 1 0 -7.9 0M330.6 459.1a3.95 3.95 0 1 0 7.9 0a3.95 3.95 0 1 0 -7.9 0M332.4 456.8a3.95 3.95 0 1 0 7.9 0a3.95 3.95 0 1 0 -7.9 0M334.4 453.4a3.95 3.95 0 1 0 7.9 0a3.95 3.95 0 1 0 -7.9 0M336.2 449.5a3.95 3.95 0 1 0 7.9 0a3.95 3.95 0 1 0 -7.9 0M338.2 444.2a3.95 3.95 0 1 0 7.9 0a3.95 3.95 0 1 0 -7.9 0M340.1 438.9a3.95 3.95 0 1 0 7.9 0a3.95 3.95 0 1 0 -7.9 0M341.9 437.2a3.95 3.95 0 1 0 7.9 0a3.95 3.95 0 1 0 -7.9 0M343.9 437.6a3.95 3.95 0 1 0 7.9 0a3.95 3.95 0 1 0 -7.9 0M345.8 440.1a3.95 3.95 0 1 0 7.9 0a3.95 3.95 0 1 0 -7.9 0"/>
<path fill="#bcbcbc" filter="url(#sb)" d="M480.4 95.7h1.5v2.3h-1.5zM485.9 95.7h1.5v2.3h-1.5zM491.5 95.7h1.5v2.3h-1.5zM497 95.7h1.5v2.3h-1.5zM502.6 95.7h1.5v2.3h-1.5zM508.1 95.7h1.5v2.3h-1.5zM513.7 95.7h1.5v2.3h-1.5zM519.2 95.7h1.5v2.3h-1.5zM524.8 95.7h1.5v2.3h-1.5zM530.4 95.7h1.5v2.3h-1.5zM535.9 95.7h1.5v2.3h-1.5zM541.5 95.7h1.5v2.3h-1.5zM547 95.7h1.5v2.3h-1.5zM552.6 95.7h1.5v2.3h-1.5zM558.1 95.7h1.5v2.3h-1.5zM563.7 95.7h1.5v2.3h-1.5zM569.2 95.7h1.5v2.3h-1.5zM574.8 95.7h1.5v2.3h-1.5zM580.4 95.7h1.5v2.3h-1.5zM585.9 95.7h1.5v2.3h-1.5zM591.5 95.7h1.5v2.3h-1.5zM597 95.7h1.5v2.3h-1.5zM602.6 95.7h1.5v2.3h-1.5zM608.1 95.7h1.5v2.3h-1.5zM613.7 95.7h1.5v2.3h-1.5zM619.2 95.7h1.5v2.3h-1.5zM624.8 95.7h1.5v2.3h-1.5zM630.4 95.7h1.5v2.3h-1.5zM635.9 95.7h1.5v2.3h-1.5zM641.5 95.7h1.5v2.3h-1.5zM647 95.7h1.5v2.3h-1.5zM652.6 95.7h1.5v2.3h-1.5zM658.1 95.7h1.5v2.3h-1.5zM663.7 95.7h1.5v2.3h-1.5zM669.3 95.7h1.5v2.3h-1.5zM674.8 95.7h1.5v2.3h-1.5zM680.4 95.7h1.5v2.3h-1.5zM685.9 95.7h1.5v2.3h-1.5zM691.5 95.7h1.5v2.3h-1.5zM697 95.7h1.5v2.3h-1.5zM480.4 88.1h1.5v2.3h-1.5zM485.9 88.1h1.5v2.3h-1.5zM491.5 88.1h1.5v2.3h-1.5zM497 88.1h1.5v2.3h-1.5zM502.6 88.1h1.5v2.3h-1.5zM508.1 88.1h1.5v2.3h-1.5zM513.7 88.1h1.5v2.3h-1.5zM519.2 88.1h1.5v2.3h-1.5zM524.8 88.1h1.5v2.3h-1.5zM530.4 88.1h1.5v2.3h-1.5zM535.9 88.1h1.5v2.3h-1.5zM541.5 88.1h1.5v2.3h-1.5zM547 88.1h1.5v2.3h-1.5zM552.6 88.1h1.5v2.3h-1.5zM558.1 88.1h1.5v2.3h-1.5zM563.7 88.1h1.5v2.3h-1.5zM569.2 88.1h1.5v2.3h-1.5zM574.8 88.1h1.5v2.3h-1.5zM580.4 88.1h1.5v2.3h-1.5zM585.9 88.1h1.5v2.3h-1.5zM591.5 88.1h1.5v2.3h-1.5zM597 88.1h1.5v2.3h-1.5zM602.6 88.1h1.5v2.3h-1.5zM608.1 88.1h1.5v2.3h-1.5zM613.7 88.1h1.5v2.3h-1.5zM619.2 88.1h1.5v2.3h-1.5zM624.8 88.1h1.5v2.3h-1.5zM630.4 88.1h1.5v2.3h-1.5zM635.9 88.1h1.5v2.3h-1.5zM641.5 88.1h1.5v2.3h-1.5zM647 88.1h1.5v2.3h-1.5zM652.6 88.1h1.5v2.3h-1.5zM658.1 88.1h1.5v2.3h-1.5zM663.7 88.1h1.5v2.3h-1.5zM669.3 88.1h1.5v2.3h-1.5zM674.8 88.1h1.5v2.3h-1.5zM680.4 88.1h1.5v2.3h-1.5zM685.9 88.1h1.5v2.3h-1.5zM691.5 88.1h1.5v2.3h-1.5zM697 88.1h1.5v2.3h-1.5zM480.4 80.5h1.5v2.3h-1.5zM485.9 80.5h1.5v2.3h-1.5zM491.5 80.5h1.5v2.3h-1.5zM497 80.5h1.5v2.3h-1.5zM502.6 80.5h1.5v2.3h-1.5zM508.1 80.5h1.5v2.3h-1.5zM513.7 80.5h1.5v2.3h-1.5zM519.2 80.5h1.5v2.3h-1.5zM524.8 80.5h1.5v2.3h-1.5zM530.4 80.5h1.5v2.3h-1.5zM535.9 80.5h1.5v2.3h-1.5zM541.5 80.5h1.5v2.3h-1.5zM547 80.5h1.5v2.3h-1.5zM552.6 80.5h1.5v2.3h-1.5zM558.1 80.5h1.5v2.3h-1.5zM563.7 80.5h1.5v2.3h-1.5zM569.2 80.5h1.5v2.3h-1.5zM574.8 80.5h1.5v2.3h-1.5zM580.4 80.5h1.5v2.3h-1.5zM585.9 80.5h1.5v2.3h-1.5zM591.5 80.5h1.5v2.3h-1.5zM597 80.5h1.5v2.3h-1.5zM602.6 80.5h1.5v2.3h-1.5zM608.1 80.5h1.5v2.3h-1.5zM613.7 80.5h1.5v2.3h-1.5zM619.2 80.5h1.5v2.3h-1.5zM624.8 80.5h1.5v2.3h-1.5zM630.4 80.5h1.5v2.3h-1.5zM635.9 80.5h1.5v2.3h-1.5zM641.5 80.5h1.5v2.3h-1.5zM647 80.5h1.5v2.3h-1.5zM652.6 80.5h1.5v2.3h-1.5zM658.1 80.5h1.5v2.3h-1.5zM663.7 80.5h1.5v2.3h-1.5zM669.3 80.5h1.5v2.3h-1.5zM674.8 80.5h1.5v2.3h-1.5zM680.4 80.5h1.5v2.3h-1.5zM685.9 80.5h1.5v2.3h-1.5zM691.5 80.5h1.5v2.3h-1.5zM697 80.5h1.5v2.3h-1.5zM480.4 72.9h1.5v2.3h-1.5zM485.9 72.9h1.5v2.3h-1.5zM491.5 72.9h1.5v2.3h-1.5zM497 72.9h1.5v2.3h-1.5zM502.6 72.9h1.5v2.3h-1.5zM508.1 72.9h1.5v2.3h-1.5zM513.7 72.9h1.5v2.3h-1.5zM519.2 72.9h1.5v2.3h-1.5zM524.8 72.9h1.5v2.3h-1.5zM530.4 72.9h1.5v2.3h-1.5zM535.9 72.9h1.5v2.3h-1.5zM541.5 72.9h1.5v2.3h-1.5zM547 72.9h1.5v2.3h-1.5zM552.6 72.9h1.5v2.3h-1.5zM558.1 72.9h1.5v2.3h-1.5zM563.7 72.9h1.5v2.3h-1.5zM569.2 72.9h1.5v2.3h-1.5zM574.8 72.9h1.5v2.3h-1.5zM580.4 72.9h1.5v2.3h-1.5zM585.9 72.9h1.5v2.3h-1.5zM591.5 72.9h1.5v2.3h-1.5zM597 72.9h1.5v2.3h-1.5zM602.6 72.9h1.5v2.3h-1.5zM608.1 72.9h1.5v2.3h-1.5zM613.7 72.9h1.5v2.3h-1.5zM619.2 72.9h1.5v2.3h-1.5zM624.8 72.9h1.5v2.3h-1.5zM630.4 72.9h1.5v2.3h-1.5zM635.9 72.9h1.5v2.3h-1.5zM641.5 72.9h1.5v2.3h-1.5zM647 72.9h1.5v2.3h-1.5zM652.6 72.9h1.5v2.3h-1.5zM658.1 72.9h1.5v2.3h-1.5zM663.7 72.9h1.5v2.3h-1.5zM669.3 72.9h1.5v2.3h-1.5zM674.8 72.9h1.5v2.3h-1.5zM680.4 72.9h1.5v2.3h-1.5zM685.9 72.9h1.5v2.3h-1.5zM691.5 72.9h1.5v2.3h-1.5zM697 72.9h1.5v2.3h-1.5zM480.4 57.8h1.5v2.3h-1.5zM485.9 57.8h1.5v2.3h-1.5zM491.5 57.8h1.5v2.3h-1.5zM497 57.8h1.5v2.3h-1.5zM502.6 57.8h1.5v2.3h-1.5zM508.1 57.8h1.5v2.3h-1.5zM513.7 57.8h1.5v2.3h-1.5zM519.2 57.8h1.5v2.3h-1.5zM524.8 57.8h1.5v2.3h-1.5zM530.4 57.8h1.5v2.3h-1.5zM535.9 57.8h1.5v2.3h-1.5zM541.5 57.8h1.5v2.3h-1.5zM547 57.8h1.5v2.3h-1.5zM552.6 57.8h1.5v2.3h-1.5zM558.1 57.8h1.5v2.3h-1.5zM563.7 57.8h1.5v2.3h-1.5zM569.2 57.8h1.5v2.3h-1.5zM574.8 57.8h1.5v2.3h-1.5zM580.4 57.8h1.5v2.3h-1.5zM585.9 57.8h1.5v2.3h-1.5zM591.5 57.8h1.5v2.3h-1.5zM597 57.8h1.5v2.3h-1.5zM602.6 57.8h1.5v2.3h-1.5zM608.1 57.8h1.5v2.3h-1.5zM613.7 57.8h1.5v2.3h-1.5zM619.2 57.8h1.5v2.3h-1.5zM624.8 57.8h1.5v2.3h-1.5zM630.4 57.8h1.5v2.3h-1.5zM635.9 57.8h1.5v2.3h-1.5zM641.5 57.8h1.5v2.3h-1.5zM647 57.8h1.5v2.3h-1.5zM652.6 57.8h1.5v2.3h-1.5zM658.1 57.8h1.5v2.3h-1.5zM663.7 57.8h1.5v2.3h-1.5zM669.3 57.8h1.5v2.3h-1.5zM674.8 57.8h1.5v2.3h-1.5zM680.4 57.8h1.5v2.3h-1.5zM685.9 57.8h1.5v2.3h-1.5zM691.5 57.8h1.5v2.3h-1.5zM697 57.8h1.5v2.3h-1.5zM480.4 50.2h1.5v2.3h-1.5zM485.9 50.2h1.5v2.3h-1.5zM491.5 50.2h1.5v2.3h-1.5zM497 50.2h1.5v2.3h-1.5zM502.6 50.2h1.5v2.3h-1.5zM508.1 50.2h1.5v2.3h-1.5zM513.7 50.2h1.5v2.3h-1.5zM519.2 50.2h1.5v2.3h-1.5zM524.8 50.2h1.5v2.3h-1.5zM530.4 50.2h1.5v2.3h-1.5zM535.9 50.2h1.5v2.3h-1.5zM541.5 50.2h1.5v2.3h-1.5zM547 50.2h1.5v2.3h-1.5zM552.6 50.2h1.5v2.3h-1.5zM558.1 50.2h1.5v2.3h-1.5zM563.7 50.2h1.5v2.3h-1.5zM569.2 50.2h1.5v2.3h-1.5zM574.8 50.2h1.5v2.3h-1.5zM580.4 50.2h1.5v2.3h-1.5zM585.9 50.2h1.5v2.3h-1.5zM591.5 50.2h1.5v2.3h-1.5zM597 50.2h1.5v2.3h-1.5zM602.6 50.2h1.5v2.3h-1.5zM608.1 50.2h1.5v2.3h-1.5zM613.7 50.2h1.5v2.3h-1.5zM619.2 50.2h1.5v2.3h-1.5zM624.8 50.2h1.5v2.3h-1.5zM630.4 50.2h1.5v2.3h-1.5zM635.9 50.2h1.5v2.3h-1.5zM641.5 50.2h1.5v2.3h-1.5zM647 50.2h1.5v2.3h-1.5zM652.6 50.2h1.5v2.3h-1.5zM658.1 50.2h1.5v2.3h-1.5zM663.7 50.2h1.5v2.3h-1.5zM669.3 50.2h1.5v2.3h-1.5zM674.8 50.2h1.5v2.3h-1.5zM680.4 50.2h1.5v2.3h-1.5zM685.9 50.2h1.5v2.3h-1.5zM691.5 50.2h1.5v2.3h-1.5zM697 50.2h1.5v2.3h-1.5z"/>
<path stroke="#262626" stroke-opacity="0.13" stroke-width="2.3" fill="none" d="M523.3 44.1V104.4M567.2 44.1V104.4M611 44.1V104.4M654.9 44.1V104.4"/>
<path stroke="#262626" stroke-opacity="0.13" stroke-width="2.3" fill="none" d="M479.5 66.5H698.7"/>
<rect x="479.5" y="44.1" width="219.2" height="60.3" fill="none" stroke="#262626" stroke-width="2.0"/>
<path stroke="#262626" stroke-width="2.0" fill="none" d="M479.5 104.4v-3M479.5 44.1v3M523.3 104.4v-3M523.3 44.1v3M567.2 104.4v-3M567.2 44.1v3M611 104.4v-3M611 44.1v3M654.9 104.4v-3M654.9 44.1v3M698.7 104.4v-3M698.7 44.1v3M479.5 104.4h3M698.7 104.4h-3M479.5 66.5h3M698.7 66.5h-3"/>
<path fill="none" stroke="#0072BD" stroke-width="2.0" d="M513.6 76.1a3.95 3.95 0 1 0 7.9 0a3.95 3.95 0 1 0 -7.9 0M514.9 76.4a3.95 3.95 0 1 0 7.9 0a3.95 3.95 0 1 0 -7.9 0M516.2 77.2a3.95 3.95 0 1 0 7.9 0a3.95 3.95 0 1 0 -7.9 0M517.5 77a3.95 3.95 0 1 0 7.9 0a3.95 3.95 0 1 0 -7.9 0M518.9 77.8a3.95 3.95 0 1 0 7.9 0a3.95 3.95 0 1 0 -7.9 0M520.1 77.7a3.95 3.95 0 1 0 7.9 0a3.95 3.95 0 1 0 -7.9 0M521.4 77.5a3.95 3.95 0 1 0 7.9 0a3.95 3.95 0 1 0 -7.9 0M522.8 77.4a3.95 3.95 0 1 0 7.9 0a3.95 3.95 0 1 0 -7.9 0M524 77.7a3.95 3.95 0 1 0 7.9 0a3.95 3.95 0 1 0 -7.9 0M525.4 78.5a3.95 3.95 0 1 0 7.9 0a3.95 3.95 0 1 0 -7.9 0M526.6 78.1a3.95 3.95 0 1 0 7.9 0a3.95 3.95 0 1 0 -7.9 0M527.9 78a3.95 3.95 0 1 0 7.9 0a3.95 3.95 0 1 0 -7.9 0M529.2 78.3a3.95 3.95 0 1 0 7.9 0a3.95 3.95 0 1 0 -7.9 0M530.5 78.8a3.95 3.95 0 1 0 7.9 0a3.95 3.95 0 1 0 -7.9 0M531.9 78a3.95 3.95 0 1 0 7.9 0a3.95 3.95 0 1 0 -7.9 0M533.1 78.5a3.95 3.95 0 1 0 7.9 0a3.95 3.95 0 1 0 -7.9 0M534.4 77.8a3.95 3.95 0 1 0 7.9 0a3.95 3.95 0 1 0 -7.9 0M535.8 78.6a3.95 3.95 0 1 0 7.9 0a3.95 3.95 0 1 0 -7.9 0M537 78.1a3.95 3.95 0 1 0 7.9 0a3.95 3.95 0 1 0 -7.9 0M538.4 77.5a3.95 3.95 0 1 0 7.9 0a3.95 3.95 0 1 0 -7.9 0M539.6 78.3a3.95 3.95 0 1 0 7.9 0a3.95 3.95 0 1 0 -7.9 0M540.9 77.6a3.95 3.95 0 1 0 7.9 0a3.95 3.95 0 1 0 -7.9 0M542.2 77.7a3.95 3.95 0 1 0 7.9 0a3.95 3.95 0 1 0 -7.9 0M543.5 77.3a3.95 3.95 0 1 0 7.9 0a3.95 3.95 0 1 0 -7.9 0M544.9 76.6a3.95 3.95 0 1 0 7.9 0a3.95 3.95 0 1 0 -7.9 0M546.1 76.4a3.95 3.95 0 1 0 7.9 0a3.95 3.95 0 1 0 -7.9 0M547.4 76.2a3.95 3.95 0 1 0 7.9 0a3.95 3.95 0 1 0 -7.9 0M548.8 76.1a3.95 3.95 0 1 0 7.9 0a3.95 3.95 0 1 0 -7.9 0M550 76.1a3.95 3.95 0 1 0 7.9 0a3.95 3.95 0 1 0 -7.9 0M551.4 76.2a3.95 3.95 0 1 0 7.9 0a3.95 3.95 0 1 0 -7.9 0M552.6 77.2a3.95 3.95 0 1 0 7.9 0a3.95 3.95 0 1 0 -7.9 0M553.9 76.4a3.95 3.95 0 1 0 7.9 0a3.95 3.95 0 1 0 -7.9 0M555.2 76.9a3.95 3.95 0 1 0 7.9 0a3.95 3.95 0 1 0 -7.9 0M556.5 76.6a3.95 3.95 0 1 0 7.9 0a3.95 3.95 0 1 0 -7.9 0M557.9 76.8a3.95 3.95 0 1 0 7.9 0a3.95 3.95 0 1 0 -7.9 0M559.1 77.6a3.95 3.95 0 1 0 7.9 0a3.95 3.95 0 1 0 -7.9 0M560.4 77.9a3.95 3.95 0 1 0 7.9 0a3.95 3.95 0 1 0 -7.9 0M561.8 78a3.95 3.95 0 1 0 7.9 0a3.95 3.95 0 1 0 -7.9 0M563 78.1a3.95 3.95 0 1 0 7.9 0a3.95 3.95 0 1 0 -7.9 0M564.4 80.1a3.95 3.95 0 1 0 7.9 0a3.95 3.95 0 1 0 -7.9 0M565.6 80.2a3.95 3.95 0 1 0 7.9 0a3.95 3.95 0 1 0 -7.9 0M566.9 82.1a3.95 3.95 0 1 0 7.9 0a3.95 3.95 0 1 0 -7.9 0M568.2 84.4a3.95 3.95 0 1 0 7.9 0a3.95 3.95 0 1 0 -7.9 0M569.5 87.7a3.95 3.95 0 1 0 7.9 0a3.95 3.95 0 1 0 -7.9 0M570.9 91a3.95 3.95 0 1 0 7.9 0a3.95 3.95 0 1 0 -7.9 0M572.1 93.1a3.95 3.95 0 1 0 7.9 0a3.95 3.95 0 1 0 -7.9 0M573.4 92.2a3.95 3.95 0 1 0 7.9 0a3.95 3.95 0 1 0 -7.9 0M574.8 92a3.95 3.95 0 1 0 7.9 0a3.95 3.95 0 1 0 -7.9 0M576 91a3.95 3.95 0 1 0 7.9 0a3.95 3.95 0 1 0 -7.9 0M577.4 89.8a3.95 3.95 0 1 0 7.9 0a3.95 3.95 0 1 0 -7.9 0M578.6 88.4a3.95 3.95 0 1 0 7.9 0a3.95 3.95 0 1 0 -7.9 0M579.9 86.5a3.95 3.95 0 1 0 7.9 0a3.95 3.95 0 1 0 -7.9 0M581.2 85.6a3.95 3.95 0 1 0 7.9 0a3.95 3.95 0 1 0 -7.9 0M582.5 84.7a3.95 3.95 0 1 0 7.9 0a3.95 3.95 0 1 0 -7.9 0M583.9 83.7a3.95 3.95 0 1 0 7.9 0a3.95 3.95 0 1 0 -7.9 0M585.1 83.1a3.95 3.95 0 1 0 7.9 0a3.95 3.95 0 1 0 -7.9 0M586.4 81.5a3.95 3.95 0 1 0 7.9 0a3.95 3.95 0 1 0 -7.9 0M587.8 80.9a3.95 3.95 0 1 0 7.9 0a3.95 3.95 0 1 0 -7.9 0M589 79.3a3.95 3.95 0 1 0 7.9 0a3.95 3.95 0 1 0 -7.9 0M590.4 78.4a3.95 3.95 0 1 0 7.9 0a3.95 3.95 0 1 0 -7.9 0M591.6 76.5a3.95 3.95 0 1 0 7.9 0a3.95 3.95 0 1 0 -7.9 0M592.9 75.5a3.95 3.95 0 1 0 7.9 0a3.95 3.95 0 1 0 -7.9 0M594.2 73.8a3.95 3.95 0 1 0 7.9 0a3.95 3.95 0 1 0 -7.9 0M595.5 72.3a3.95 3.95 0 1 0 7.9 0a3.95 3.95 0 1 0 -7.9 0M596.9 71.2a3.95 3.95 0 1 0 7.9 0a3.95 3.95 0 1 0 -7.9 0M598.1 68.8a3.95 3.95 0 1 0 7.9 0a3.95 3.95 0 1 0 -7.9 0M599.4 67.6a3.95 3.95 0 1 0 7.9 0a3.95 3.95 0 1 0 -7.9 0M600.8 65.5a3.95 3.95 0 1 0 7.9 0a3.95 3.95 0 1 0 -7.9 0M602 63.7a3.95 3.95 0 1 0 7.9 0a3.95 3.95 0 1 0 -7.9 0M603.4 63.4a3.95 3.95 0 1 0 7.9 0a3.95 3.95 0 1 0 -7.9 0M604.6 61.7a3.95 3.95 0 1 0 7.9 0a3.95 3.95 0 1 0 -7.9 0M605.9 61.4a3.95 3.95 0 1 0 7.9 0a3.95 3.95 0 1 0 -7.9 0M607.2 59.6a3.95 3.95 0 1 0 7.9 0a3.95 3.95 0 1 0 -7.9 0M608.5 59.4a3.95 3.95 0 1 0 7.9 0a3.95 3.95 0 1 0 -7.9 0M609.9 58a3.95 3.95 0 1 0 7.9 0a3.95 3.95 0 1 0 -7.9 0M611.1 57.3a3.95 3.95 0 1 0 7.9 0a3.95 3.95 0 1 0 -7.9 0M612.4 57a3.95 3.95 0 1 0 7.9 0a3.95 3.95 0 1 0 -7.9 0M613.8 55.8a3.95 3.95 0 1 0 7.9 0a3.95 3.95 0 1 0 -7.9 0M615 55.2a3.95 3.95 0 1 0 7.9 0a3.95 3.95 0 1 0 -7.9 0M616.4 54.5a3.95 3.95 0 1 0 7.9 0a3.95 3.95 0 1 0 -7.9 0M617.6 53.2a3.95 3.95 0 1 0 7.9 0a3.95 3.95 0 1 0 -7.9 0M618.9 53.1a3.95 3.95 0 1 0 7.9 0a3.95 3.95 0 1 0 -7.9 0M620.2 52.4a3.95 3.95 0 1 0 7.9 0a3.95 3.95 0 1 0 -7.9 0M621.5 50.9a3.95 3.95 0 1 0 7.9 0a3.95 3.95 0 1 0 -7.9 0M622.9 50.5a3.95 3.95 0 1 0 7.9 0a3.95 3.95 0 1 0 -7.9 0M624.1 49.5a3.95 3.95 0 1 0 7.9 0a3.95 3.95 0 1 0 -7.9 0M625.4 49.1a3.95 3.95 0 1 0 7.9 0a3.95 3.95 0 1 0 -7.9 0M626.8 47.6a3.95 3.95 0 1 0 7.9 0a3.95 3.95 0 1 0 -7.9 0M628 47.3a3.95 3.95 0 1 0 7.9 0a3.95 3.95 0 1 0 -7.9 0M629.4 46.8a3.95 3.95 0 1 0 7.9 0a3.95 3.95 0 1 0 -7.9 0M630.6 46.9a3.95 3.95 0 1 0 7.9 0a3.95 3.95 0 1 0 -7.9 0M631.9 46.3a3.95 3.95 0 1 0 7.9 0a3.95 3.95 0 1 0 -7.9 0M633.2 47.2a3.95 3.95 0 1 0 7.9 0a3.95 3.95 0 1 0 -7.9 0M634.5 46.7a3.95 3.95 0 1 0 7.9 0a3.95 3.95 0 1 0 -7.9 0M635.9 47.3a3.95 3.95 0 1 0 7.9 0a3.95 3.95 0 1 0 -7.9 0M637.1 47a3.95 3.95 0 1 0 7.9 0a3.95 3.95 0 1 0 -7.9 0M638.5 46.7a3.95 3.95 0 1 0 7.9 0a3.95 3.95 0 1 0 -7.9 0M639.8 47.2a3.95 3.95 0 1 0 7.9 0a3.95 3.95 0 1 0 -7.9 0M641 47a3.95 3.95 0 1 0 7.9 0a3.95 3.95 0 1 0 -7.9 0M642.4 46.7a3.95 3.95 0 1 0 7.9 0a3.95 3.95 0 1 0 -7.9 0M643.6 46.7a3.95 3.95 0 1 0 7.9 0a3.95 3.95 0 1 0 -7.9 0M645 45.7a3.95 3.95 0 1 0 7.9 0a3.95 3.95 0 1 0 -7.9 0M646.2 45.4a3.95 3.95 0 1 0 7.9 0a3.95 3.95 0 1 0 -7.9 0M647.5 45.1a3.95 3.95 0 1 0 7.9 0a3.95 3.95 0 1 0 -7.9 0M648.9 45.2a3.95 3.95 0 1 0 7.9 0a3.95 3.95 0 1 0 -7.9 0M650.1 44.9a3.95 3.95 0 1 0 7.9 0a3.95 3.95 0 1 0 -7.9 0M651.5 45.1a3.95 3.95 0 1 0 7.9 0a3.95 3.95 0 1 0 -7.9 0M652.8 45.3a3.95 3.95 0 1 0 7.9 0a3.95 3.95 0 1 0 -7.9 0M654 45.3a3.95 3.95 0 1 0 7.9 0a3.95 3.95 0 1 0 -7.9 0M655.4 45.2a3.95 3.95 0 1 0 7.9 0a3.95 3.95 0 1 0 -7.9 0M656.6 45.8a3.95 3.95 0 1 0 7.9 0a3.95 3.95 0 1 0 -7.9 0M658 45.8a3.95 3.95 0 1 0 7.9 0a3.95 3.95 0 1 0 -7.9 0M659.2 46.1a3.95 3.95 0 1 0 7.9 0a3.95 3.95 0 1 0 -7.9 0M660.5 46.9a3.95 3.95 0 1 0 7.9 0a3.95 3.95 0 1 0 -7.9 0M661.9 46.5a3.95 3.95 0 1 0 7.9 0a3.95 3.95 0 1 0 -7.9 0M663.1 47.4a3.95 3.95 0 1 0 7.9 0a3.95 3.95 0 1 0 -7.9 0M664.5 47.8a3.95 3.95 0 1 0 7.9 0a3.95 3.95 0 1 0 -7.9 0M665.8 47.9a3.95 3.95 0 1 0 7.9 0a3.95 3.95 0 1 0 -7.9 0M667 48.5a3.95 3.95 0 1 0 7.9 0a3.95 3.95 0 1 0 -7.9 0M668.4 49.4a3.95 3.95 0 1 0 7.9 0a3.95 3.95 0 1 0 -7.9 0M669.6 49.2a3.95 3.95 0 1 0 7.9 0a3.95 3.95 0 1 0 -7.9 0M671 49.9a3.95 3.95 0 1 0 7.9 0a3.95 3.95 0 1 0 -7.9 0M672.2 50.1a3.95 3.95 0 1 0 7.9 0a3.95 3.95 0 1 0 -7.9 0M673.5 49.7a3.95 3.95 0 1 0 7.9 0a3.95 3.95 0 1 0 -7.9 0M674.9 50.4a3.95 3.95 0 1 0 7.9 0a3.95 3.95 0 1 0 -7.9 0M676.1 50.2a3.95 3.95 0 1 0 7.9 0a3.95 3.95 0 1 0 -7.9 0M677.5 50.2a3.95 3.95 0 1 0 7.9 0a3.95 3.95 0 1 0 -7.9 0M678.8 50.5a3.95 3.95 0 1 0 7.9 0a3.95 3.95 0 1 0 -7.9 0M680 50.3a3.95 3.95 0 1 0 7.9 0a3.95 3.95 0 1 0 -7.9 0M681.4 50.7a3.95 3.95 0 1 0 7.9 0a3.95 3.95 0 1 0 -7.9 0M682.6 50.5a3.95 3.95 0 1 0 7.9 0a3.95 3.95 0 1 0 -7.9 0M684 51.4a3.95 3.95 0 1 0 7.9 0a3.95 3.95 0 1 0 -7.9 0M685.2 51.3a3.95 3.95 0 1 0 7.9 0a3.95 3.95 0 1 0 -7.9 0M686.5 51.2a3.95 3.95 0 1 0 7.9 0a3.95 3.95 0 1 0 -7.9 0M687.9 51.7a3.95 3.95 0 1 0 7.9 0a3.95 3.95 0 1 0 -7.9 0M689.1 52.4a3.95 3.95 0 1 0 7.9 0a3.95 3.95 0 1 0 -7.9 0M568.8 90.5a3.95 3.95 0 1 0 7.9 0a3.95 3.95 0 1 0 -7.9 0M569.5 93a3.95 3.95 0 1 0 7.9 0a3.95 3.95 0 1 0 -7.9 0"/>
<path fill="#bcbcbc" filter="url(#sb)" d="M480.4 222.8h1.5v2.3h-1.5zM485.9 222.8h1.5v2.3h-1.5zM491.5 222.8h1.5v2.3h-1.5zM497 222.8h1.5v2.3h-1.5zM502.6 222.8h1.5v2.3h-1.5zM508.1 222.8h1.5v2.3h-1.5zM513.7 222.8h1.5v2.3h-1.5zM519.2 222.8h1.5v2.3h-1.5zM524.8 222.8h1.5v2.3h-1.5zM530.4 222.8h1.5v2.3h-1.5zM535.9 222.8h1.5v2.3h-1.5zM541.5 222.8h1.5v2.3h-1.5zM547 222.8h1.5v2.3h-1.5zM552.6 222.8h1.5v2.3h-1.5zM558.1 222.8h1.5v2.3h-1.5zM563.7 222.8h1.5v2.3h-1.5zM569.2 222.8h1.5v2.3h-1.5zM574.8 222.8h1.5v2.3h-1.5zM580.4 222.8h1.5v2.3h-1.5zM585.9 222.8h1.5v2.3h-1.5zM591.5 222.8h1.5v2.3h-1.5zM597 222.8h1.5v2.3h-1.5zM602.6 222.8h1.5v2.3h-1.5zM608.1 222.8h1.5v2.3h-1.5zM613.7 222.8h1.5v2.3h-1.5zM619.2 222.8h1.5v2.3h-1.5zM624.8 222.8h1.5v2.3h-1.5zM630.4 222.8h1.5v2.3h-1.5zM635.9 222.8h1.5v2.3h-1.5zM641.5 222.8h1.5v2.3h-1.5zM647 222.8h1.5v2.3h-1.5zM652.6 222.8h1.5v2.3h-1.5zM658.1 222.8h1.5v2.3h-1.5zM663.7 222.8h1.5v2.3h-1.5zM669.3 222.8h1.5v2.3h-1.5zM674.8 222.8h1.5v2.3h-1.5zM680.4 222.8h1.5v2.3h-1.5zM685.9 222.8h1.5v2.3h-1.5zM691.5 222.8h1.5v2.3h-1.5zM697 222.8h1.5v2.3h-1.5zM480.4 215.4h1.5v2.3h-1.5zM485.9 215.4h1.5v2.3h-1.5zM491.5 215.4h1.5v2.3h-1.5zM497 215.4h1.5v2.3h-1.5zM502.6 215.4h1.5v2.3h-1.5zM508.1 215.4h1.5v2.3h-1.5zM513.7 215.4h1.5v2.3h-1.5zM519.2 215.4h1.5v2.3h-1.5zM524.8 215.4h1.5v2.3h-1.5zM530.4 215.4h1.5v2.3h-1.5zM535.9 215.4h1.5v2.3h-1.5zM541.5 215.4h1.5v2.3h-1.5zM547 215.4h1.5v2.3h-1.5zM552.6 215.4h1.5v2.3h-1.5zM558.1 215.4h1.5v2.3h-1.5zM563.7 215.4h1.5v2.3h-1.5zM569.2 215.4h1.5v2.3h-1.5zM574.8 215.4h1.5v2.3h-1.5zM580.4 215.4h1.5v2.3h-1.5zM585.9 215.4h1.5v2.3h-1.5zM591.5 215.4h1.5v2.3h-1.5zM597 215.4h1.5v2.3h-1.5zM602.6 215.4h1.5v2.3h-1.5zM608.1 215.4h1.5v2.3h-1.5zM613.7 215.4h1.5v2.3h-1.5zM619.2 215.4h1.5v2.3h-1.5zM624.8 215.4h1.5v2.3h-1.5zM630.4 215.4h1.5v2.3h-1.5zM635.9 215.4h1.5v2.3h-1.5zM641.5 215.4h1.5v2.3h-1.5zM647 215.4h1.5v2.3h-1.5zM652.6 215.4h1.5v2.3h-1.5zM658.1 215.4h1.5v2.3h-1.5zM663.7 215.4h1.5v2.3h-1.5zM669.3 215.4h1.5v2.3h-1.5zM674.8 215.4h1.5v2.3h-1.5zM680.4 215.4h1.5v2.3h-1.5zM685.9 215.4h1.5v2.3h-1.5zM691.5 215.4h1.5v2.3h-1.5zM697 215.4h1.5v2.3h-1.5zM480.4 208h1.5v2.3h-1.5zM485.9 208h1.5v2.3h-1.5zM491.5 208h1.5v2.3h-1.5zM497 208h1.5v2.3h-1.5zM502.6 208h1.5v2.3h-1.5zM508.1 208h1.5v2.3h-1.5zM513.7 208h1.5v2.3h-1.5zM519.2 208h1.5v2.3h-1.5zM524.8 208h1.5v2.3h-1.5zM530.4 208h1.5v2.3h-1.5zM535.9 208h1.5v2.3h-1.5zM541.5 208h1.5v2.3h-1.5zM547 208h1.5v2.3h-1.5zM552.6 208h1.5v2.3h-1.5zM558.1 208h1.5v2.3h-1.5zM563.7 208h1.5v2.3h-1.5zM569.2 208h1.5v2.3h-1.5zM574.8 208h1.5v2.3h-1.5zM580.4 208h1.5v2.3h-1.5zM585.9 208h1.5v2.3h-1.5zM591.5 208h1.5v2.3h-1.5zM597 208h1.5v2.3h-1.5zM602.6 208h1.5v2.3h-1.5zM608.1 208h1.5v2.3h-1.5zM613.7 208h1.5v2.3h-1.5zM619.2 208h1.5v2.3h-1.5zM624.8 208h1.5v2.3h-1.5zM630.4 208h1.5v2.3h-1.5zM635.9 208h1.5v2.3h-1.5zM641.5 208h1.5v2.3h-1.5zM647 208h1.5v2.3h-1.5zM652.6 208h1.5v2.3h-1.5zM658.1 208h1.5v2.3h-1.5zM663.7 208h1.5v2.3h-1.5zM669.3 208h1.5v2.3h-1.5zM674.8 208h1.5v2.3h-1.5zM680.4 208h1.5v2.3h-1.5zM685.9 208h1.5v2.3h-1.5zM691.5 208h1.5v2.3h-1.5zM697 208h1.5v2.3h-1.5zM480.4 193.2h1.5v2.3h-1.5zM485.9 193.2h1.5v2.3h-1.5zM491.5 193.2h1.5v2.3h-1.5zM497 193.2h1.5v2.3h-1.5zM502.6 193.2h1.5v2.3h-1.5zM508.1 193.2h1.5v2.3h-1.5zM513.7 193.2h1.5v2.3h-1.5zM519.2 193.2h1.5v2.3h-1.5zM524.8 193.2h1.5v2.3h-1.5zM530.4 193.2h1.5v2.3h-1.5zM535.9 193.2h1.5v2.3h-1.5zM541.5 193.2h1.5v2.3h-1.5zM547 193.2h1.5v2.3h-1.5zM552.6 193.2h1.5v2.3h-1.5zM558.1 193.2h1.5v2.3h-1.5zM563.7 193.2h1.5v2.3h-1.5zM569.2 193.2h1.5v2.3h-1.5zM574.8 193.2h1.5v2.3h-1.5zM580.4 193.2h1.5v2.3h-1.5zM585.9 193.2h1.5v2.3h-1.5zM591.5 193.2h1.5v2.3h-1.5zM597 193.2h1.5v2.3h-1.5zM602.6 193.2h1.5v2.3h-1.5zM608.1 193.2h1.5v2.3h-1.5zM613.7 193.2h1.5v2.3h-1.5zM619.2 193.2h1.5v2.3h-1.5zM624.8 193.2h1.5v2.3h-1.5zM630.4 193.2h1.5v2.3h-1.5zM635.9 193.2h1.5v2.3h-1.5zM641.5 193.2h1.5v2.3h-1.5zM647 193.2h1.5v2.3h-1.5zM652.6 193.2h1.5v2.3h-1.5zM658.1 193.2h1.5v2.3h-1.5zM663.7 193.2h1.5v2.3h-1.5zM669.3 193.2h1.5v2.3h-1.5zM674.8 193.2h1.5v2.3h-1.5zM680.4 193.2h1.5v2.3h-1.5zM685.9 193.2h1.5v2.3h-1.5zM691.5 193.2h1.5v2.3h-1.5zM697 193.2h1.5v2.3h-1.5zM480.4 185.8h1.5v2.3h-1.5zM485.9 185.8h1.5v2.3h-1.5zM491.5 185.8h1.5v2.3h-1.5zM497 185.8h1.5v2.3h-1.5zM502.6 185.8h1.5v2.3h-1.5zM508.1 185.8h1.5v2.3h-1.5zM513.7 185.8h1.5v2.3h-1.5zM519.2 185.8h1.5v2.3h-1.5zM524.8 185.8h1.5v2.3h-1.5zM530.4 185.8h1.5v2.3h-1.5zM535.9 185.8h1.5v2.3h-1.5zM541.5 185.8h1.5v2.3h-1.5zM547 185.8h1.5v2.3h-1.5zM552.6 185.8h1.5v2.3h-1.5zM558.1 185.8h1.5v2.3h-1.5zM563.7 185.8h1.5v2.3h-1.5zM569.2 185.8h1.5v2.3h-1.5zM574.8 185.8h1.5v2.3h-1.5zM580.4 185.8h1.5v2.3h-1.5zM585.9 185.8h1.5v2.3h-1.5zM591.5 185.8h1.5v2.3h-1.5zM597 185.8h1.5v2.3h-1.5zM602.6 185.8h1.5v2.3h-1.5zM608.1 185.8h1.5v2.3h-1.5zM613.7 185.8h1.5v2.3h-1.5zM619.2 185.8h1.5v2.3h-1.5zM624.8 185.8h1.5v2.3h-1.5zM630.4 185.8h1.5v2.3h-1.5zM635.9 185.8h1.5v2.3h-1.5zM641.5 185.8h1.5v2.3h-1.5zM647 185.8h1.5v2.3h-1.5zM652.6 185.8h1.5v2.3h-1.5zM658.1 185.8h1.5v2.3h-1.5zM663.7 185.8h1.5v2.3h-1.5zM669.3 185.8h1.5v2.3h-1.5zM674.8 185.8h1.5v2.3h-1.5zM680.4 185.8h1.5v2.3h-1.5zM685.9 185.8h1.5v2.3h-1.5zM691.5 185.8h1.5v2.3h-1.5zM697 185.8h1.5v2.3h-1.5zM480.4 178.4h1.5v2.3h-1.5zM485.9 178.4h1.5v2.3h-1.5zM491.5 178.4h1.5v2.3h-1.5zM497 178.4h1.5v2.3h-1.5zM502.6 178.4h1.5v2.3h-1.5zM508.1 178.4h1.5v2.3h-1.5zM513.7 178.4h1.5v2.3h-1.5zM519.2 178.4h1.5v2.3h-1.5zM524.8 178.4h1.5v2.3h-1.5zM530.4 178.4h1.5v2.3h-1.5zM535.9 178.4h1.5v2.3h-1.5zM541.5 178.4h1.5v2.3h-1.5zM547 178.4h1.5v2.3h-1.5zM552.6 178.4h1.5v2.3h-1.5zM558.1 178.4h1.5v2.3h-1.5zM563.7 178.4h1.5v2.3h-1.5zM569.2 178.4h1.5v2.3h-1.5zM574.8 178.4h1.5v2.3h-1.5zM580.4 178.4h1.5v2.3h-1.5zM585.9 178.4h1.5v2.3h-1.5zM591.5 178.4h1.5v2.3h-1.5zM597 178.4h1.5v2.3h-1.5zM602.6 178.4h1.5v2.3h-1.5zM608.1 178.4h1.5v2.3h-1.5zM613.7 178.4h1.5v2.3h-1.5zM619.2 178.4h1.5v2.3h-1.5zM624.8 178.4h1.5v2.3h-1.5zM630.4 178.4h1.5v2.3h-1.5zM635.9 178.4h1.5v2.3h-1.5zM641.5 178.4h1.5v2.3h-1.5zM647 178.4h1.5v2.3h-1.5zM652.6 178.4h1.5v2.3h-1.5zM658.1 178.4h1.5v2.3h-1.5zM663.7 178.4h1.5v2.3h-1.5zM669.3 178.4h1.5v2.3h-1.5zM674.8 178.4h1.5v2.3h-1.5zM680.4 178.4h1.5v2.3h-1.5zM685.9 178.4h1.5v2.3h-1.5zM691.5 178.4h1.5v2.3h-1.5zM697 178.4h1.5v2.3h-1.5z"/>
<path stroke="#262626" stroke-opacity="0.13" stroke-width="2.3" fill="none" d="M523.3 172.2V231.3M567.2 172.2V231.3M611 172.2V231.3M654.9 172.2V231.3"/>
<path stroke="#262626" stroke-opacity="0.13" stroke-width="2.3" fill="none" d="M479.5 201.8H698.7"/>
<rect x="479.5" y="172.2" width="219.2" height="59.1" fill="none" stroke="#262626" stroke-width="2.0"/>
<path stroke="#262626" stroke-width="2.0" fill="none" d="M479.5 231.3v-3M479.5 172.2v3M523.3 231.3v-3M523.3 172.2v3M567.2 231.3v-3M567.2 172.2v3M611 231.3v-3M611 172.2v3M654.9 231.3v-3M654.9 172.2v3M698.7 231.3v-3M698.7 172.2v3M479.5 231.3h3M698.7 231.3h-3M479.5 201.8h3M698.7 201.8h-3M479.5 172.2h3M698.7 172.2h-3"/>
<path fill="none" stroke="#0072BD" stroke-width="2.0" d="M513.8 231.3a3.95 3.95 0 1 0 7.9 0a3.95 3.95 0 1 0 -7.9 0M515.1 231.3a3.95 3.95 0 1 0 7.9 0a3.95 3.95 0 1 0 -7.9 0M516.4 231.3a3.95 3.95 0 1 0 7.9 0a3.95 3.95 0 1 0 -7.9 0M517.7 231.3a3.95 3.95 0 1 0 7.9 0a3.95 3.95 0 1 0 -7.9 0M519 231.3a3.95 3.95 0 1 0 7.9 0a3.95 3.95 0 1 0 -7.9 0M520.3 231.3a3.95 3.95 0 1 0 7.9 0a3.95 3.95 0 1 0 -7.9 0M521.6 231.3a3.95 3.95 0 1 0 7.9 0a3.95 3.95 0 1 0 -7.9 0M522.9 231.3a3.95 3.95 0 1 0 7.9 0a3.95 3.95 0 1 0 -7.9 0M524.2 231.3a3.95 3.95 0 1 0 7.9 0a3.95 3.95 0 1 0 -7.9 0M525.5 231.3a3.95 3.95 0 1 0 7.9 0a3.95 3.95 0 1 0 -7.9 0M526.8 231.3a3.95 3.95 0 1 0 7.9 0a3.95 3.95 0 1 0 -7.9 0M528.1 231.3a3.95 3.95 0 1 0 7.9 0a3.95 3.95 0 1 0 -7.9 0M529.4 231.3a3.95 3.95 0 1 0 7.9 0a3.95 3.95 0 1 0 -7.9 0M530.7 231.3a3.95 3.95 0 1 0 7.9 0a3.95 3.95 0 1 0 -7.9 0M532 231.3a3.95 3.95 0 1 0 7.9 0a3.95 3.95 0 1 0 -7.9 0M533.3 231.3a3.95 3.95 0 1 0 7.9 0a3.95 3.95 0 1 0 -7.9 0M534.6 231.3a3.95 3.95 0 1 0 7.9 0a3.95 3.95 0 1 0 -7.9 0M535.9 231.3a3.95 3.95 0 1 0 7.9 0a3.95 3.95 0 1 0 -7.9 0M537.2 231.3a3.95 3.95 0 1 0 7.9 0a3.95 3.95 0 1 0 -7.9 0M538.5 231.3a3.95 3.95 0 1 0 7.9 0a3.95 3.95 0 1 0 -7.9 0M539.8 231.3a3.95 3.95 0 1 0 7.9 0a3.95 3.95 0 1 0 -7.9 0M541.1 231.3a3.95 3.95 0 1 0 7.9 0a3.95 3.95 0 1 0 -7.9 0M542.4 231.3a3.95 3.95 0 1 0 7.9 0a3.95 3.95 0 1 0 -7.9 0M543.7 231.3a3.95 3.95 0 1 0 7.9 0a3.95 3.95 0 1 0 -7.9 0M545 231.3a3.95 3.95 0 1 0 7.9 0a3.95 3.95 0 1 0 -7.9 0M546.3 231.3a3.95 3.95 0 1 0 7.9 0a3.95 3.95 0 1 0 -7.9 0M547.6 231.3a3.95 3.95 0 1 0 7.9 0a3.95 3.95 0 1 0 -7.9 0M548.9 231.3a3.95 3.95 0 1 0 7.9 0a3.95 3.95 0 1 0 -7.9 0M550.2 231.3a3.95 3.95 0 1 0 7.9 0a3.95 3.95 0 1 0 -7.9 0M551.5 231.3a3.95 3.95 0 1 0 7.9 0a3.95 3.95 0 1 0 -7.9 0M552.8 231.3a3.95 3.95 0 1 0 7.9 0a3.95 3.95 0 1 0 -7.9 0M554.1 231.3a3.95 3.95 0 1 0 7.9 0a3.95 3.95 0 1 0 -7.9 0M555.4 231.3a3.95 3.95 0 1 0 7.9 0a3.95 3.95 0 1 0 -7.9 0M556.7 231.3a3.95 3.95 0 1 0 7.9 0a3.95 3.95 0 1 0 -7.9 0M558 231.3a3.95 3.95 0 1 0 7.9 0a3.95 3.95 0 1 0 -7.9 0M559.3 231.3a3.95 3.95 0 1 0 7.9 0a3.95 3.95 0 1 0 -7.9 0M560.6 231.3a3.95 3.95 0 1 0 7.9 0a3.95 3.95 0 1 0 -7.9 0M561.9 231.3a3.95 3.95 0 1 0 7.9 0a3.95 3.95 0 1 0 -7.9 0M563.2 231.3a3.95 3.95 0 1 0 7.9 0a3.95 3.95 0 1 0 -7.9 0M564.5 231.3a3.95 3.95 0 1 0 7.9 0a3.95 3.95 0 1 0 -7.9 0M565.8 231.3a3.95 3.95 0 1 0 7.9 0a3.95 3.95 0 1 0 -7.9 0M567.1 231.3a3.95 3.95 0 1 0 7.9 0a3.95 3.95 0 1 0 -7.9 0M568.4 231.3a3.95 3.95 0 1 0 7.9 0a3.95 3.95 0 1 0 -7.9 0M569.7 231.3a3.95 3.95 0 1 0 7.9 0a3.95 3.95 0 1 0 -7.9 0M571 231.3a3.95 3.95 0 1 0 7.9 0a3.95 3.95 0 1 0 -7.9 0M572.3 231.3a3.95 3.95 0 1 0 7.9 0a3.95 3.95 0 1 0 -7.9 0M573.6 231.3a3.95 3.95 0 1 0 7.9 0a3.95 3.95 0 1 0 -7.9 0M574.9 231.3a3.95 3.95 0 1 0 7.9 0a3.95 3.95 0 1 0 -7.9 0M576.2 231.3a3.95 3.95 0 1 0 7.9 0a3.95 3.95 0 1 0 -7.9 0M577.5 231.3a3.95 3.95 0 1 0 7.9 0a3.95 3.95 0 1 0 -7.9 0M578.8 231.3a3.95 3.95 0 1 0 7.9 0a3.95 3.95 0 1 0 -7.9 0M580.1 231.3a3.95 3.95 0 1 0 7.9 0a3.95 3.95 0 1 0 -7.9 0M581.4 231.3a3.95 3.95 0 1 0 7.9 0a3.95 3.95 0 1 0 -7.9 0M582.7 231.3a3.95 3.95 0 1 0 7.9 0a3.95 3.95 0 1 0 -7.9 0M584 231.3a3.95 3.95 0 1 0 7.9 0a3.95 3.95 0 1 0 -7.9 0M585.3 231.3a3.95 3.95 0 1 0 7.9 0a3.95 3.95 0 1 0 -7.9 0M586.6 231.3a3.95 3.95 0 1 0 7.9 0a3.95 3.95 0 1 0 -7.9 0M591 231.3a3.95 3.95 0 1 0 7.9 0a3.95 3.95 0 1 0 -7.9 0M593 231.3a3.95 3.95 0 1 0 7.9 0a3.95 3.95 0 1 0 -7.9 0M601.5 231.3a3.95 3.95 0 1 0 7.9 0a3.95 3.95 0 1 0 -7.9 0M610 231.3a3.95 3.95 0 1 0 7.9 0a3.95 3.95 0 1 0 -7.9 0M613.3 231.3a3.95 3.95 0 1 0 7.9 0a3.95 3.95 0 1 0 -7.9 0M616.8 231.3a3.95 3.95 0 1 0 7.9 0a3.95 3.95 0 1 0 -7.9 0M620 231.3a3.95 3.95 0 1 0 7.9 0a3.95 3.95 0 1 0 -7.9 0M623.4 231.3a3.95 3.95 0 1 0 7.9 0a3.95 3.95 0 1 0 -7.9 0M629.6 231.3a3.95 3.95 0 1 0 7.9 0a3.95 3.95 0 1 0 -7.9 0M630.9 231.3a3.95 3.95 0 1 0 7.9 0a3.95 3.95 0 1 0 -7.9 0M632.2 231.3a3.95 3.95 0 1 0 7.9 0a3.95 3.95 0 1 0 -7.9 0M633.5 231.3a3.95 3.95 0 1 0 7.9 0a3.95 3.95 0 1 0 -7.9 0M634.9 231.3a3.95 3.95 0 1 0 7.9 0a3.95 3.95 0 1 0 -7.9 0M636.1 231.3a3.95 3.95 0 1 0 7.9 0a3.95 3.95 0 1 0 -7.9 0M637.4 231.3a3.95 3.95 0 1 0 7.9 0a3.95 3.95 0 1 0 -7.9 0M638.8 231.3a3.95 3.95 0 1 0 7.9 0a3.95 3.95 0 1 0 -7.9 0M640 231.3a3.95 3.95 0 1 0 7.9 0a3.95 3.95 0 1 0 -7.9 0M641.4 231.3a3.95 3.95 0 1 0 7.9 0a3.95 3.95 0 1 0 -7.9 0M642.6 231.3a3.95 3.95 0 1 0 7.9 0a3.95 3.95 0 1 0 -7.9 0M643.9 231.3a3.95 3.95 0 1 0 7.9 0a3.95 3.95 0 1 0 -7.9 0M645.2 231.3a3.95 3.95 0 1 0 7.9 0a3.95 3.95 0 1 0 -7.9 0M646.5 231.3a3.95 3.95 0 1 0 7.9 0a3.95 3.95 0 1 0 -7.9 0M647.9 231.3a3.95 3.95 0 1 0 7.9 0a3.95 3.95 0 1 0 -7.9 0M649.1 231.3a3.95 3.95 0 1 0 7.9 0a3.95 3.95 0 1 0 -7.9 0M650.4 231.3a3.95 3.95 0 1 0 7.9 0a3.95 3.95 0 1 0 -7.9 0M651.8 231.3a3.95 3.95 0 1 0 7.9 0a3.95 3.95 0 1 0 -7.9 0M653 231.3a3.95 3.95 0 1 0 7.9 0a3.95 3.95 0 1 0 -7.9 0M654.4 231.3a3.95 3.95 0 1 0 7.9 0a3.95 3.95 0 1 0 -7.9 0M655.6 231.3a3.95 3.95 0 1 0 7.9 0a3.95 3.95 0 1 0 -7.9 0M656.9 231.3a3.95 3.95 0 1 0 7.9 0a3.95 3.95 0 1 0 -7.9 0M658.2 231.3a3.95 3.95 0 1 0 7.9 0a3.95 3.95 0 1 0 -7.9 0M659.5 231.3a3.95 3.95 0 1 0 7.9 0a3.95 3.95 0 1 0 -7.9 0M660.9 231.3a3.95 3.95 0 1 0 7.9 0a3.95 3.95 0 1 0 -7.9 0M662.1 231.3a3.95 3.95 0 1 0 7.9 0a3.95 3.95 0 1 0 -7.9 0M663.4 231.3a3.95 3.95 0 1 0 7.9 0a3.95 3.95 0 1 0 -7.9 0M664.8 231.3a3.95 3.95 0 1 0 7.9 0a3.95 3.95 0 1 0 -7.9 0M666 231.3a3.95 3.95 0 1 0 7.9 0a3.95 3.95 0 1 0 -7.9 0M667.4 231.3a3.95 3.95 0 1 0 7.9 0a3.95 3.95 0 1 0 -7.9 0M668.6 231.3a3.95 3.95 0 1 0 7.9 0a3.95 3.95 0 1 0 -7.9 0M669.9 231.3a3.95 3.95 0 1 0 7.9 0a3.95 3.95 0 1 0 -7.9 0M671.2 231.3a3.95 3.95 0 1 0 7.9 0a3.95 3.95 0 1 0 -7.9 0M672.5 231.3a3.95 3.95 0 1 0 7.9 0a3.95 3.95 0 1 0 -7.9 0M673.9 231.3a3.95 3.95 0 1 0 7.9 0a3.95 3.95 0 1 0 -7.9 0M675.1 231.3a3.95 3.95 0 1 0 7.9 0a3.95 3.95 0 1 0 -7.9 0M676.4 231.3a3.95 3.95 0 1 0 7.9 0a3.95 3.95 0 1 0 -7.9 0M677.8 231.3a3.95 3.95 0 1 0 7.9 0a3.95 3.95 0 1 0 -7.9 0M679 231.3a3.95 3.95 0 1 0 7.9 0a3.95 3.95 0 1 0 -7.9 0M680.4 231.3a3.95 3.95 0 1 0 7.9 0a3.95 3.95 0 1 0 -7.9 0M681.6 231.3a3.95 3.95 0 1 0 7.9 0a3.95 3.95 0 1 0 -7.9 0M682.9 231.3a3.95 3.95 0 1 0 7.9 0a3.95 3.95 0 1 0 -7.9 0M684.2 231.3a3.95 3.95 0 1 0 7.9 0a3.95 3.95 0 1 0 -7.9 0M685.5 231.3a3.95 3.95 0 1 0 7.9 0a3.95 3.95 0 1 0 -7.9 0M686.9 231.3a3.95 3.95 0 1 0 7.9 0a3.95 3.95 0 1 0 -7.9 0M688.1 231.3a3.95 3.95 0 1 0 7.9 0a3.95 3.95 0 1 0 -7.9 0M555.6 187a3.95 3.95 0 1 0 7.9 0a3.95 3.95 0 1 0 -7.9 0M586.8 187a3.95 3.95 0 1 0 7.9 0a3.95 3.95 0 1 0 -7.9 0M588 187a3.95 3.95 0 1 0 7.9 0a3.95 3.95 0 1 0 -7.9 0M598.4 187a3.95 3.95 0 1 0 7.9 0a3.95 3.95 0 1 0 -7.9 0M600.8 187a3.95 3.95 0 1 0 7.9 0a3.95 3.95 0 1 0 -7.9 0M602.2 187a3.95 3.95 0 1 0 7.9 0a3.95 3.95 0 1 0 -7.9 0M604.6 187a3.95 3.95 0 1 0 7.9 0a3.95 3.95 0 1 0 -7.9 0M621.5 187a3.95 3.95 0 1 0 7.9 0a3.95 3.95 0 1 0 -7.9 0M630.9 187a3.95 3.95 0 1 0 7.9 0a3.95 3.95 0 1 0 -7.9 0M595.9 201.8a3.95 3.95 0 1 0 7.9 0a3.95 3.95 0 1 0 -7.9 0M607.1 201.8a3.95 3.95 0 1 0 7.9 0a3.95 3.95 0 1 0 -7.9 0M608.9 201.8a3.95 3.95 0 1 0 7.9 0a3.95 3.95 0 1 0 -7.9 0M627.1 201.8a3.95 3.95 0 1 0 7.9 0a3.95 3.95 0 1 0 -7.9 0M612.6 216.5a3.95 3.95 0 1 0 7.9 0a3.95 3.95 0 1 0 -7.9 0M618.1 216.5a3.95 3.95 0 1 0 7.9 0a3.95 3.95 0 1 0 -7.9 0M628.6 172.2a3.95 3.95 0 1 0 7.9 0a3.95 3.95 0 1 0 -7.9 0"/>
<path fill="#bcbcbc" filter="url(#sb)" d="M480.4 353.8h1.5v2.3h-1.5zM485.9 353.8h1.5v2.3h-1.5zM491.5 353.8h1.5v2.3h-1.5zM497 353.8h1.5v2.3h-1.5zM502.6 353.8h1.5v2.3h-1.5zM508.1 353.8h1.5v2.3h-1.5zM513.7 353.8h1.5v2.3h-1.5zM519.2 353.8h1.5v2.3h-1.5zM524.8 353.8h1.5v2.3h-1.5zM530.4 353.8h1.5v2.3h-1.5zM535.9 353.8h1.5v2.3h-1.5zM541.5 353.8h1.5v2.3h-1.5zM547 353.8h1.5v2.3h-1.5zM552.6 353.8h1.5v2.3h-1.5zM558.1 353.8h1.5v2.3h-1.5zM563.7 353.8h1.5v2.3h-1.5zM569.2 353.8h1.5v2.3h-1.5zM574.8 353.8h1.5v2.3h-1.5zM580.4 353.8h1.5v2.3h-1.5zM585.9 353.8h1.5v2.3h-1.5zM591.5 353.8h1.5v2.3h-1.5zM597 353.8h1.5v2.3h-1.5zM602.6 353.8h1.5v2.3h-1.5zM608.1 353.8h1.5v2.3h-1.5zM613.7 353.8h1.5v2.3h-1.5zM619.2 353.8h1.5v2.3h-1.5zM624.8 353.8h1.5v2.3h-1.5zM630.4 353.8h1.5v2.3h-1.5zM635.9 353.8h1.5v2.3h-1.5zM641.5 353.8h1.5v2.3h-1.5zM647 353.8h1.5v2.3h-1.5zM652.6 353.8h1.5v2.3h-1.5zM658.1 353.8h1.5v2.3h-1.5zM663.7 353.8h1.5v2.3h-1.5zM669.3 353.8h1.5v2.3h-1.5zM674.8 353.8h1.5v2.3h-1.5zM680.4 353.8h1.5v2.3h-1.5zM685.9 353.8h1.5v2.3h-1.5zM691.5 353.8h1.5v2.3h-1.5zM697 353.8h1.5v2.3h-1.5zM480.4 349.4h1.5v2.3h-1.5zM485.9 349.4h1.5v2.3h-1.5zM491.5 349.4h1.5v2.3h-1.5zM497 349.4h1.5v2.3h-1.5zM502.6 349.4h1.5v2.3h-1.5zM508.1 349.4h1.5v2.3h-1.5zM513.7 349.4h1.5v2.3h-1.5zM519.2 349.4h1.5v2.3h-1.5zM524.8 349.4h1.5v2.3h-1.5zM530.4 349.4h1.5v2.3h-1.5zM535.9 349.4h1.5v2.3h-1.5zM541.5 349.4h1.5v2.3h-1.5zM547 349.4h1.5v2.3h-1.5zM552.6 349.4h1.5v2.3h-1.5zM558.1 349.4h1.5v2.3h-1.5zM563.7 349.4h1.5v2.3h-1.5zM569.2 349.4h1.5v2.3h-1.5zM574.8 349.4h1.5v2.3h-1.5zM580.4 349.4h1.5v2.3h-1.5zM585.9 349.4h1.5v2.3h-1.5zM591.5 349.4h1.5v2.3h-1.5zM597 349.4h1.5v2.3h-1.5zM602.6 349.4h1.5v2.3h-1.5zM608.1 349.4h1.5v2.3h-1.5zM613.7 349.4h1.5v2.3h-1.5zM619.2 349.4h1.5v2.3h-1.5zM624.8 349.4h1.5v2.3h-1.5zM630.4 349.4h1.5v2.3h-1.5zM635.9 349.4h1.5v2.3h-1.5zM641.5 349.4h1.5v2.3h-1.5zM647 349.4h1.5v2.3h-1.5zM652.6 349.4h1.5v2.3h-1.5zM658.1 349.4h1.5v2.3h-1.5zM663.7 349.4h1.5v2.3h-1.5zM669.3 349.4h1.5v2.3h-1.5zM674.8 349.4h1.5v2.3h-1.5zM680.4 349.4h1.5v2.3h-1.5zM685.9 349.4h1.5v2.3h-1.5zM691.5 349.4h1.5v2.3h-1.5zM697 349.4h1.5v2.3h-1.5zM480.4 345h1.5v2.3h-1.5zM485.9 345h1.5v2.3h-1.5zM491.5 345h1.5v2.3h-1.5zM497 345h1.5v2.3h-1.5zM502.6 345h1.5v2.3h-1.5zM508.1 345h1.5v2.3h-1.5zM513.7 345h1.5v2.3h-1.5zM519.2 345h1.5v2.3h-1.5zM524.8 345h1.5v2.3h-1.5zM530.4 345h1.5v2.3h-1.5zM535.9 345h1.5v2.3h-1.5zM541.5 345h1.5v2.3h-1.5zM547 345h1.5v2.3h-1.5zM552.6 345h1.5v2.3h-1.5zM558.1 345h1.5v2.3h-1.5zM563.7 345h1.5v2.3h-1.5zM569.2 345h1.5v2.3h-1.5zM574.8 345h1.5v2.3h-1.5zM580.4 345h1.5v2.3h-1.5zM585.9 345h1.5v2.3h-1.5zM591.5 345h1.5v2.3h-1.5zM597 345h1.5v2.3h-1.5zM602.6 345h1.5v2.3h-1.5zM608.1 345h1.5v2.3h-1.5zM613.7 345h1.5v2.3h-1.5zM619.2 345h1.5v2.3h-1.5zM624.8 345h1.5v2.3h-1.5zM630.4 345h1.5v2.3h-1.5zM635.9 345h1.5v2.3h-1.5zM641.5 345h1.5v2.3h-1.5zM647 345h1.5v2.3h-1.5zM652.6 345h1.5v2.3h-1.5zM658.1 345h1.5v2.3h-1.5zM663.7 345h1.5v2.3h-1.5zM669.3 345h1.5v2.3h-1.5zM674.8 345h1.5v2.3h-1.5zM680.4 345h1.5v2.3h-1.5zM685.9 345h1.5v2.3h-1.5zM691.5 345h1.5v2.3h-1.5zM697 345h1.5v2.3h-1.5zM480.4 340.6h1.5v2.3h-1.5zM485.9 340.6h1.5v2.3h-1.5zM491.5 340.6h1.5v2.3h-1.5zM497 340.6h1.5v2.3h-1.5zM502.6 340.6h1.5v2.3h-1.5zM508.1 340.6h1.5v2.3h-1.5zM513.7 340.6h1.5v2.3h-1.5zM519.2 340.6h1.5v2.3h-1.5zM524.8 340.6h1.5v2.3h-1.5zM530.4 340.6h1.5v2.3h-1.5zM535.9 340.6h1.5v2.3h-1.5zM541.5 340.6h1.5v2.3h-1.5zM547 340.6h1.5v2.3h-1.5zM552.6 340.6h1.5v2.3h-1.5zM558.1 340.6h1.5v2.3h-1.5zM563.7 340.6h1.5v2.3h-1.5zM569.2 340.6h1.5v2.3h-1.5zM574.8 340.6h1.5v2.3h-1.5zM580.4 340.6h1.5v2.3h-1.5zM585.9 340.6h1.5v2.3h-1.5zM591.5 340.6h1.5v2.3h-1.5zM597 340.6h1.5v2.3h-1.5zM602.6 340.6h1.5v2.3h-1.5zM608.1 340.6h1.5v2.3h-1.5zM613.7 340.6h1.5v2.3h-1.5zM619.2 340.6h1.5v2.3h-1.5zM624.8 340.6h1.5v2.3h-1.5zM630.4 340.6h1.5v2.3h-1.5zM635.9 340.6h1.5v2.3h-1.5zM641.5 340.6h1.5v2.3h-1.5zM647 340.6h1.5v2.3h-1.5zM652.6 340.6h1.5v2.3h-1.5zM658.1 340.6h1.5v2.3h-1.5zM663.7 340.6h1.5v2.3h-1.5zM669.3 340.6h1.5v2.3h-1.5zM674.8 340.6h1.5v2.3h-1.5zM680.4 340.6h1.5v2.3h-1.5zM685.9 340.6h1.5v2.3h-1.5zM691.5 340.6h1.5v2.3h-1.5zM697 340.6h1.5v2.3h-1.5zM480.4 331.8h1.5v2.3h-1.5zM485.9 331.8h1.5v2.3h-1.5zM491.5 331.8h1.5v2.3h-1.5zM497 331.8h1.5v2.3h-1.5zM502.6 331.8h1.5v2.3h-1.5zM508.1 331.8h1.5v2.3h-1.5zM513.7 331.8h1.5v2.3h-1.5zM519.2 331.8h1.5v2.3h-1.5zM524.8 331.8h1.5v2.3h-1.5zM530.4 331.8h1.5v2.3h-1.5zM535.9 331.8h1.5v2.3h-1.5zM541.5 331.8h1.5v2.3h-1.5zM547 331.8h1.5v2.3h-1.5zM552.6 331.8h1.5v2.3h-1.5zM558.1 331.8h1.5v2.3h-1.5zM563.7 331.8h1.5v2.3h-1.5zM569.2 331.8h1.5v2.3h-1.5zM574.8 331.8h1.5v2.3h-1.5zM580.4 331.8h1.5v2.3h-1.5zM585.9 331.8h1.5v2.3h-1.5zM591.5 331.8h1.5v2.3h-1.5zM597 331.8h1.5v2.3h-1.5zM602.6 331.8h1.5v2.3h-1.5zM608.1 331.8h1.5v2.3h-1.5zM613.7 331.8h1.5v2.3h-1.5zM619.2 331.8h1.5v2.3h-1.5zM624.8 331.8h1.5v2.3h-1.5zM630.4 331.8h1.5v2.3h-1.5zM635.9 331.8h1.5v2.3h-1.5zM641.5 331.8h1.5v2.3h-1.5zM647 331.8h1.5v2.3h-1.5zM652.6 331.8h1.5v2.3h-1.5zM658.1 331.8h1.5v2.3h-1.5zM663.7 331.8h1.5v2.3h-1.5zM669.3 331.8h1.5v2.3h-1.5zM674.8 331.8h1.5v2.3h-1.5zM680.4 331.8h1.5v2.3h-1.5zM685.9 331.8h1.5v2.3h-1.5zM691.5 331.8h1.5v2.3h-1.5zM697 331.8h1.5v2.3h-1.5zM480.4 327.4h1.5v2.3h-1.5zM485.9 327.4h1.5v2.3h-1.5zM491.5 327.4h1.5v2.3h-1.5zM497 327.4h1.5v2.3h-1.5zM502.6 327.4h1.5v2.3h-1.5zM508.1 327.4h1.5v2.3h-1.5zM513.7 327.4h1.5v2.3h-1.5zM519.2 327.4h1.5v2.3h-1.5zM524.8 327.4h1.5v2.3h-1.5zM530.4 327.4h1.5v2.3h-1.5zM535.9 327.4h1.5v2.3h-1.5zM541.5 327.4h1.5v2.3h-1.5zM547 327.4h1.5v2.3h-1.5zM552.6 327.4h1.5v2.3h-1.5zM558.1 327.4h1.5v2.3h-1.5zM563.7 327.4h1.5v2.3h-1.5zM569.2 327.4h1.5v2.3h-1.5zM574.8 327.4h1.5v2.3h-1.5zM580.4 327.4h1.5v2.3h-1.5zM585.9 327.4h1.5v2.3h-1.5zM591.5 327.4h1.5v2.3h-1.5zM597 327.4h1.5v2.3h-1.5zM602.6 327.4h1.5v2.3h-1.5zM608.1 327.4h1.5v2.3h-1.5zM613.7 327.4h1.5v2.3h-1.5zM619.2 327.4h1.5v2.3h-1.5zM624.8 327.4h1.5v2.3h-1.5zM630.4 327.4h1.5v2.3h-1.5zM635.9 327.4h1.5v2.3h-1.5zM641.5 327.4h1.5v2.3h-1.5zM647 327.4h1.5v2.3h-1.5zM652.6 327.4h1.5v2.3h-1.5zM658.1 327.4h1.5v2.3h-1.5zM663.7 327.4h1.5v2.3h-1.5zM669.3 327.4h1.5v2.3h-1.5zM674.8 327.4h1.5v2.3h-1.5zM680.4 327.4h1.5v2.3h-1.5zM685.9 327.4h1.5v2.3h-1.5zM691.5 327.4h1.5v2.3h-1.5zM697 327.4h1.5v2.3h-1.5zM480.4 323h1.5v2.3h-1.5zM485.9 323h1.5v2.3h-1.5zM491.5 323h1.5v2.3h-1.5zM497 323h1.5v2.3h-1.5zM502.6 323h1.5v2.3h-1.5zM508.1 323h1.5v2.3h-1.5zM513.7 323h1.5v2.3h-1.5zM519.2 323h1.5v2.3h-1.5zM524.8 323h1.5v2.3h-1.5zM530.4 323h1.5v2.3h-1.5zM535.9 323h1.5v2.3h-1.5zM541.5 323h1.5v2.3h-1.5zM547 323h1.5v2.3h-1.5zM552.6 323h1.5v2.3h-1.5zM558.1 323h1.5v2.3h-1.5zM563.7 323h1.5v2.3h-1.5zM569.2 323h1.5v2.3h-1.5zM574.8 323h1.5v2.3h-1.5zM580.4 323h1.5v2.3h-1.5zM585.9 323h1.5v2.3h-1.5zM591.5 323h1.5v2.3h-1.5zM597 323h1.5v2.3h-1.5zM602.6 323h1.5v2.3h-1.5zM608.1 323h1.5v2.3h-1.5zM613.7 323h1.5v2.3h-1.5zM619.2 323h1.5v2.3h-1.5zM624.8 323h1.5v2.3h-1.5zM630.4 323h1.5v2.3h-1.5zM635.9 323h1.5v2.3h-1.5zM641.5 323h1.5v2.3h-1.5zM647 323h1.5v2.3h-1.5zM652.6 323h1.5v2.3h-1.5zM658.1 323h1.5v2.3h-1.5zM663.7 323h1.5v2.3h-1.5zM669.3 323h1.5v2.3h-1.5zM674.8 323h1.5v2.3h-1.5zM680.4 323h1.5v2.3h-1.5zM685.9 323h1.5v2.3h-1.5zM691.5 323h1.5v2.3h-1.5zM697 323h1.5v2.3h-1.5zM480.4 318.6h1.5v2.3h-1.5zM485.9 318.6h1.5v2.3h-1.5zM491.5 318.6h1.5v2.3h-1.5zM497 318.6h1.5v2.3h-1.5zM502.6 318.6h1.5v2.3h-1.5zM508.1 318.6h1.5v2.3h-1.5zM513.7 318.6h1.5v2.3h-1.5zM519.2 318.6h1.5v2.3h-1.5zM524.8 318.6h1.5v2.3h-1.5zM530.4 318.6h1.5v2.3h-1.5zM535.9 318.6h1.5v2.3h-1.5zM541.5 318.6h1.5v2.3h-1.5zM547 318.6h1.5v2.3h-1.5zM552.6 318.6h1.5v2.3h-1.5zM558.1 318.6h1.5v2.3h-1.5zM563.7 318.6h1.5v2.3h-1.5zM569.2 318.6h1.5v2.3h-1.5zM574.8 318.6h1.5v2.3h-1.5zM580.4 318.6h1.5v2.3h-1.5zM585.9 318.6h1.5v2.3h-1.5zM591.5 318.6h1.5v2.3h-1.5zM597 318.6h1.5v2.3h-1.5zM602.6 318.6h1.5v2.3h-1.5zM608.1 318.6h1.5v2.3h-1.5zM613.7 318.6h1.5v2.3h-1.5zM619.2 318.6h1.5v2.3h-1.5zM624.8 318.6h1.5v2.3h-1.5zM630.4 318.6h1.5v2.3h-1.5zM635.9 318.6h1.5v2.3h-1.5zM641.5 318.6h1.5v2.3h-1.5zM647 318.6h1.5v2.3h-1.5zM652.6 318.6h1.5v2.3h-1.5zM658.1 318.6h1.5v2.3h-1.5zM663.7 318.6h1.5v2.3h-1.5zM669.3 318.6h1.5v2.3h-1.5zM674.8 318.6h1.5v2.3h-1.5zM680.4 318.6h1.5v2.3h-1.5zM685.9 318.6h1.5v2.3h-1.5zM691.5 318.6h1.5v2.3h-1.5zM697 318.6h1.5v2.3h-1.5zM480.4 309.9h1.5v2.3h-1.5zM485.9 309.9h1.5v2.3h-1.5zM491.5 309.9h1.5v2.3h-1.5zM497 309.9h1.5v2.3h-1.5zM502.6 309.9h1.5v2.3h-1.5zM508.1 309.9h1.5v2.3h-1.5zM513.7 309.9h1.5v2.3h-1.5zM519.2 309.9h1.5v2.3h-1.5zM524.8 309.9h1.5v2.3h-1.5zM530.4 309.9h1.5v2.3h-1.5zM535.9 309.9h1.5v2.3h-1.5zM541.5 309.9h1.5v2.3h-1.5zM547 309.9h1.5v2.3h-1.5zM552.6 309.9h1.5v2.3h-1.5zM558.1 309.9h1.5v2.3h-1.5zM563.7 309.9h1.5v2.3h-1.5zM569.2 309.9h1.5v2.3h-1.5zM574.8 309.9h1.5v2.3h-1.5zM580.4 309.9h1.5v2.3h-1.5zM585.9 309.9h1.5v2.3h-1.5zM591.5 309.9h1.5v2.3h-1.5zM597 309.9h1.5v2.3h-1.5zM602.6 309.9h1.5v2.3h-1.5zM608.1 309.9h1.5v2.3h-1.5zM613.7 309.9h1.5v2.3h-1.5zM619.2 309.9h1.5v2.3h-1.5zM624.8 309.9h1.5v2.3h-1.5zM630.4 309.9h1.5v2.3h-1.5zM635.9 309.9h1.5v2.3h-1.5zM641.5 309.9h1.5v2.3h-1.5zM647 309.9h1.5v2.3h-1.5zM652.6 309.9h1.5v2.3h-1.5zM658.1 309.9h1.5v2.3h-1.5zM663.7 309.9h1.5v2.3h-1.5zM669.3 309.9h1.5v2.3h-1.5zM674.8 309.9h1.5v2.3h-1.5zM680.4 309.9h1.5v2.3h-1.5zM685.9 309.9h1.5v2.3h-1.5zM691.5 309.9h1.5v2.3h-1.5zM697 309.9h1.5v2.3h-1.5zM480.4 305.5h1.5v2.3h-1.5zM485.9 305.5h1.5v2.3h-1.5zM491.5 305.5h1.5v2.3h-1.5zM497 305.5h1.5v2.3h-1.5zM502.6 305.5h1.5v2.3h-1.5zM508.1 305.5h1.5v2.3h-1.5zM513.7 305.5h1.5v2.3h-1.5zM519.2 305.5h1.5v2.3h-1.5zM524.8 305.5h1.5v2.3h-1.5zM530.4 305.5h1.5v2.3h-1.5zM535.9 305.5h1.5v2.3h-1.5zM541.5 305.5h1.5v2.3h-1.5zM547 305.5h1.5v2.3h-1.5zM552.6 305.5h1.5v2.3h-1.5zM558.1 305.5h1.5v2.3h-1.5zM563.7 305.5h1.5v2.3h-1.5zM569.2 305.5h1.5v2.3h-1.5zM574.8 305.5h1.5v2.3h-1.5zM580.4 305.5h1.5v2.3h-1.5zM585.9 305.5h1.5v2.3h-1.5zM591.5 305.5h1.5v2.3h-1.5zM597 305.5h1.5v2.3h-1.5zM602.6 305.5h1.5v2.3h-1.5zM608.1 305.5h1.5v2.3h-1.5zM613.7 305.5h1.5v2.3h-1.5zM619.2 305.5h1.5v2.3h-1.5zM624.8 305.5h1.5v2.3h-1.5zM630.4 305.5h1.5v2.3h-1.5zM635.9 305.5h1.5v2.3h-1.5zM641.5 305.5h1.5v2.3h-1.5zM647 305.5h1.5v2.3h-1.5zM652.6 305.5h1.5v2.3h-1.5zM658.1 305.5h1.5v2.3h-1.5zM663.7 305.5h1.5v2.3h-1.5zM669.3 305.5h1.5v2.3h-1.5zM674.8 305.5h1.5v2.3h-1.5zM680.4 305.5h1.5v2.3h-1.5zM685.9 305.5h1.5v2.3h-1.5zM691.5 305.5h1.5v2.3h-1.5zM697 305.5h1.5v2.3h-1.5zM480.4 301.1h1.5v2.3h-1.5zM485.9 301.1h1.5v2.3h-1.5zM491.5 301.1h1.5v2.3h-1.5zM497 301.1h1.5v2.3h-1.5zM502.6 301.1h1.5v2.3h-1.5zM508.1 301.1h1.5v2.3h-1.5zM513.7 301.1h1.5v2.3h-1.5zM519.2 301.1h1.5v2.3h-1.5zM524.8 301.1h1.5v2.3h-1.5zM530.4 301.1h1.5v2.3h-1.5zM535.9 301.1h1.5v2.3h-1.5zM541.5 301.1h1.5v2.3h-1.5zM547 301.1h1.5v2.3h-1.5zM552.6 301.1h1.5v2.3h-1.5zM558.1 301.1h1.5v2.3h-1.5zM563.7 301.1h1.5v2.3h-1.5zM569.2 301.1h1.5v2.3h-1.5zM574.8 301.1h1.5v2.3h-1.5zM580.4 301.1h1.5v2.3h-1.5zM585.9 301.1h1.5v2.3h-1.5zM591.5 301.1h1.5v2.3h-1.5zM597 301.1h1.5v2.3h-1.5zM602.6 301.1h1.5v2.3h-1.5zM608.1 301.1h1.5v2.3h-1.5zM613.7 301.1h1.5v2.3h-1.5zM619.2 301.1h1.5v2.3h-1.5zM624.8 301.1h1.5v2.3h-1.5zM630.4 301.1h1.5v2.3h-1.5zM635.9 301.1h1.5v2.3h-1.5zM641.5 301.1h1.5v2.3h-1.5zM647 301.1h1.5v2.3h-1.5zM652.6 301.1h1.5v2.3h-1.5zM658.1 301.1h1.5v2.3h-1.5zM663.7 301.1h1.5v2.3h-1.5zM669.3 301.1h1.5v2.3h-1.5zM674.8 301.1h1.5v2.3h-1.5zM680.4 301.1h1.5v2.3h-1.5zM685.9 301.1h1.5v2.3h-1.5zM691.5 301.1h1.5v2.3h-1.5zM697 301.1h1.5v2.3h-1.5z"/>
<path stroke="#262626" stroke-opacity="0.13" stroke-width="2.3" fill="none" d="M523.3 299.3V359.3M567.2 299.3V359.3M611 299.3V359.3M654.9 299.3V359.3"/>
<path stroke="#262626" stroke-opacity="0.13" stroke-width="2.3" fill="none" d="M479.5 337.4H698.7M479.5 315.4H698.7"/>
<rect x="479.5" y="299.3" width="219.2" height="60" fill="none" stroke="#262626" stroke-width="2.0"/>
<path stroke="#262626" stroke-width="2.0" fill="none" d="M479.5 359.3v-3M479.5 299.3v3M523.3 359.3v-3M523.3 299.3v3M567.2 359.3v-3M567.2 299.3v3M611 359.3v-3M611 299.3v3M654.9 359.3v-3M654.9 299.3v3M698.7 359.3v-3M698.7 299.3v3M479.5 359.3h3M698.7 359.3h-3M479.5 337.4h3M698.7 337.4h-3M479.5 315.4h3M698.7 315.4h-3"/>
<path fill="none" stroke="#0072BD" stroke-width="2.0" d="M513.8 346.7a3.95 3.95 0 1 0 7.9 0a3.95 3.95 0 1 0 -7.9 0M515 346.6a3.95 3.95 0 1 0 7.9 0a3.95 3.95 0 1 0 -7.9 0M516.4 346.5a3.95 3.95 0 1 0 7.9 0a3.95 3.95 0 1 0 -7.9 0M517.6 346.4a3.95 3.95 0 1 0 7.9 0a3.95 3.95 0 1 0 -7.9 0M519 346.3a3.95 3.95 0 1 0 7.9 0a3.95 3.95 0 1 0 -7.9 0M520.2 346.4a3.95 3.95 0 1 0 7.9 0a3.95 3.95 0 1 0 -7.9 0M521.5 346.4a3.95 3.95 0 1 0 7.9 0a3.95 3.95 0 1 0 -7.9 0M522.9 346.5a3.95 3.95 0 1 0 7.9 0a3.95 3.95 0 1 0 -7.9 0M524.1 346.6a3.95 3.95 0 1 0 7.9 0a3.95 3.95 0 1 0 -7.9 0M525.5 346.6a3.95 3.95 0 1 0 7.9 0a3.95 3.95 0 1 0 -7.9 0M526.8 346.7a3.95 3.95 0 1 0 7.9 0a3.95 3.95 0 1 0 -7.9 0M528 346.8a3.95 3.95 0 1 0 7.9 0a3.95 3.95 0 1 0 -7.9 0M529.4 346.8a3.95 3.95 0 1 0 7.9 0a3.95 3.95 0 1 0 -7.9 0M530.6 346.9a3.95 3.95 0 1 0 7.9 0a3.95 3.95 0 1 0 -7.9 0M532 346.9a3.95 3.95 0 1 0 7.9 0a3.95 3.95 0 1 0 -7.9 0M533.2 347a3.95 3.95 0 1 0 7.9 0a3.95 3.95 0 1 0 -7.9 0M534.5 347.1a3.95 3.95 0 1 0 7.9 0a3.95 3.95 0 1 0 -7.9 0M535.9 347.1a3.95 3.95 0 1 0 7.9 0a3.95 3.95 0 1 0 -7.9 0M537.1 347.2a3.95 3.95 0 1 0 7.9 0a3.95 3.95 0 1 0 -7.9 0M538.5 347.3a3.95 3.95 0 1 0 7.9 0a3.95 3.95 0 1 0 -7.9 0M539.8 347.3a3.95 3.95 0 1 0 7.9 0a3.95 3.95 0 1 0 -7.9 0M541 347.4a3.95 3.95 0 1 0 7.9 0a3.95 3.95 0 1 0 -7.9 0M542.4 347.5a3.95 3.95 0 1 0 7.9 0a3.95 3.95 0 1 0 -7.9 0M543.6 347.5a3.95 3.95 0 1 0 7.9 0a3.95 3.95 0 1 0 -7.9 0M545 347.5a3.95 3.95 0 1 0 7.9 0a3.95 3.95 0 1 0 -7.9 0M546.2 347.5a3.95 3.95 0 1 0 7.9 0a3.95 3.95 0 1 0 -7.9 0M547.5 347.5a3.95 3.95 0 1 0 7.9 0a3.95 3.95 0 1 0 -7.9 0M548.9 347.5a3.95 3.95 0 1 0 7.9 0a3.95 3.95 0 1 0 -7.9 0M550.1 347.5a3.95 3.95 0 1 0 7.9 0a3.95 3.95 0 1 0 -7.9 0M551.5 347.5a3.95 3.95 0 1 0 7.9 0a3.95 3.95 0 1 0 -7.9 0M552.8 347.9a3.95 3.95 0 1 0 7.9 0a3.95 3.95 0 1 0 -7.9 0M554 348.4a3.95 3.95 0 1 0 7.9 0a3.95 3.95 0 1 0 -7.9 0M555.4 348.9a3.95 3.95 0 1 0 7.9 0a3.95 3.95 0 1 0 -7.9 0M556.6 350a3.95 3.95 0 1 0 7.9 0a3.95 3.95 0 1 0 -7.9 0M558 349.9a3.95 3.95 0 1 0 7.9 0a3.95 3.95 0 1 0 -7.9 0M559.2 350.2a3.95 3.95 0 1 0 7.9 0a3.95 3.95 0 1 0 -7.9 0M560.5 350.9a3.95 3.95 0 1 0 7.9 0a3.95 3.95 0 1 0 -7.9 0M561.9 352.7a3.95 3.95 0 1 0 7.9 0a3.95 3.95 0 1 0 -7.9 0M563.1 350.6a3.95 3.95 0 1 0 7.9 0a3.95 3.95 0 1 0 -7.9 0M564.5 351.2a3.95 3.95 0 1 0 7.9 0a3.95 3.95 0 1 0 -7.9 0M565.8 350a3.95 3.95 0 1 0 7.9 0a3.95 3.95 0 1 0 -7.9 0M567 347.4a3.95 3.95 0 1 0 7.9 0a3.95 3.95 0 1 0 -7.9 0M568.4 346.4a3.95 3.95 0 1 0 7.9 0a3.95 3.95 0 1 0 -7.9 0M569.6 346a3.95 3.95 0 1 0 7.9 0a3.95 3.95 0 1 0 -7.9 0M571 345.7a3.95 3.95 0 1 0 7.9 0a3.95 3.95 0 1 0 -7.9 0M572.2 344.6a3.95 3.95 0 1 0 7.9 0a3.95 3.95 0 1 0 -7.9 0M573.5 343.3a3.95 3.95 0 1 0 7.9 0a3.95 3.95 0 1 0 -7.9 0M574.9 340.2a3.95 3.95 0 1 0 7.9 0a3.95 3.95 0 1 0 -7.9 0M576.1 338.6a3.95 3.95 0 1 0 7.9 0a3.95 3.95 0 1 0 -7.9 0M577.5 338.5a3.95 3.95 0 1 0 7.9 0a3.95 3.95 0 1 0 -7.9 0M578.8 337.8a3.95 3.95 0 1 0 7.9 0a3.95 3.95 0 1 0 -7.9 0M580 337.3a3.95 3.95 0 1 0 7.9 0a3.95 3.95 0 1 0 -7.9 0M581.4 334.1a3.95 3.95 0 1 0 7.9 0a3.95 3.95 0 1 0 -7.9 0M582.6 334.7a3.95 3.95 0 1 0 7.9 0a3.95 3.95 0 1 0 -7.9 0M584 334.4a3.95 3.95 0 1 0 7.9 0a3.95 3.95 0 1 0 -7.9 0M585.2 333a3.95 3.95 0 1 0 7.9 0a3.95 3.95 0 1 0 -7.9 0M586.5 331.7a3.95 3.95 0 1 0 7.9 0a3.95 3.95 0 1 0 -7.9 0M587.9 330.3a3.95 3.95 0 1 0 7.9 0a3.95 3.95 0 1 0 -7.9 0M589.1 329a3.95 3.95 0 1 0 7.9 0a3.95 3.95 0 1 0 -7.9 0M590.5 323.8a3.95 3.95 0 1 0 7.9 0a3.95 3.95 0 1 0 -7.9 0M591.8 324.9a3.95 3.95 0 1 0 7.9 0a3.95 3.95 0 1 0 -7.9 0M593 320.7a3.95 3.95 0 1 0 7.9 0a3.95 3.95 0 1 0 -7.9 0M594.4 318.9a3.95 3.95 0 1 0 7.9 0a3.95 3.95 0 1 0 -7.9 0M595.6 317.4a3.95 3.95 0 1 0 7.9 0a3.95 3.95 0 1 0 -7.9 0M597 317.1a3.95 3.95 0 1 0 7.9 0a3.95 3.95 0 1 0 -7.9 0M598.2 313.7a3.95 3.95 0 1 0 7.9 0a3.95 3.95 0 1 0 -7.9 0M599.5 310.6a3.95 3.95 0 1 0 7.9 0a3.95 3.95 0 1 0 -7.9 0M600.9 308.2a3.95 3.95 0 1 0 7.9 0a3.95 3.95 0 1 0 -7.9 0M602.1 308.2a3.95 3.95 0 1 0 7.9 0a3.95 3.95 0 1 0 -7.9 0M603.5 307.2a3.95 3.95 0 1 0 7.9 0a3.95 3.95 0 1 0 -7.9 0M604.8 303.6a3.95 3.95 0 1 0 7.9 0a3.95 3.95 0 1 0 -7.9 0M606 304.2a3.95 3.95 0 1 0 7.9 0a3.95 3.95 0 1 0 -7.9 0M607.4 304.8a3.95 3.95 0 1 0 7.9 0a3.95 3.95 0 1 0 -7.9 0M608.6 304.2a3.95 3.95 0 1 0 7.9 0a3.95 3.95 0 1 0 -7.9 0M610 305.8a3.95 3.95 0 1 0 7.9 0a3.95 3.95 0 1 0 -7.9 0M611.2 304.4a3.95 3.95 0 1 0 7.9 0a3.95 3.95 0 1 0 -7.9 0M612.5 306.1a3.95 3.95 0 1 0 7.9 0a3.95 3.95 0 1 0 -7.9 0M613.9 307.6a3.95 3.95 0 1 0 7.9 0a3.95 3.95 0 1 0 -7.9 0M615.1 307.1a3.95 3.95 0 1 0 7.9 0a3.95 3.95 0 1 0 -7.9 0M616.5 303.6a3.95 3.95 0 1 0 7.9 0a3.95 3.95 0 1 0 -7.9 0M617.8 303.9a3.95 3.95 0 1 0 7.9 0a3.95 3.95 0 1 0 -7.9 0M619 304.6a3.95 3.95 0 1 0 7.9 0a3.95 3.95 0 1 0 -7.9 0M620.4 305.2a3.95 3.95 0 1 0 7.9 0a3.95 3.95 0 1 0 -7.9 0M621.6 303.7a3.95 3.95 0 1 0 7.9 0a3.95 3.95 0 1 0 -7.9 0M623 302.7a3.95 3.95 0 1 0 7.9 0a3.95 3.95 0 1 0 -7.9 0M624.2 302.9a3.95 3.95 0 1 0 7.9 0a3.95 3.95 0 1 0 -7.9 0M625.5 302.6a3.95 3.95 0 1 0 7.9 0a3.95 3.95 0 1 0 -7.9 0M626.9 305.8a3.95 3.95 0 1 0 7.9 0a3.95 3.95 0 1 0 -7.9 0M628.1 305.4a3.95 3.95 0 1 0 7.9 0a3.95 3.95 0 1 0 -7.9 0M629.5 304.5a3.95 3.95 0 1 0 7.9 0a3.95 3.95 0 1 0 -7.9 0M630.8 305.9a3.95 3.95 0 1 0 7.9 0a3.95 3.95 0 1 0 -7.9 0M632 305.3a3.95 3.95 0 1 0 7.9 0a3.95 3.95 0 1 0 -7.9 0M633.4 305.4a3.95 3.95 0 1 0 7.9 0a3.95 3.95 0 1 0 -7.9 0M634.6 304.8a3.95 3.95 0 1 0 7.9 0a3.95 3.95 0 1 0 -7.9 0M636 305.4a3.95 3.95 0 1 0 7.9 0a3.95 3.95 0 1 0 -7.9 0M637.2 308.1a3.95 3.95 0 1 0 7.9 0a3.95 3.95 0 1 0 -7.9 0M638.5 307.7a3.95 3.95 0 1 0 7.9 0a3.95 3.95 0 1 0 -7.9 0M639.9 308.3a3.95 3.95 0 1 0 7.9 0a3.95 3.95 0 1 0 -7.9 0M641.1 305.7a3.95 3.95 0 1 0 7.9 0a3.95 3.95 0 1 0 -7.9 0M642.5 307.7a3.95 3.95 0 1 0 7.9 0a3.95 3.95 0 1 0 -7.9 0M643.8 307.5a3.95 3.95 0 1 0 7.9 0a3.95 3.95 0 1 0 -7.9 0M645 306.6a3.95 3.95 0 1 0 7.9 0a3.95 3.95 0 1 0 -7.9 0M646.4 308.2a3.95 3.95 0 1 0 7.9 0a3.95 3.95 0 1 0 -7.9 0M647.6 306.9a3.95 3.95 0 1 0 7.9 0a3.95 3.95 0 1 0 -7.9 0M649 308.5a3.95 3.95 0 1 0 7.9 0a3.95 3.95 0 1 0 -7.9 0M650.2 309.3a3.95 3.95 0 1 0 7.9 0a3.95 3.95 0 1 0 -7.9 0M651.5 309.2a3.95 3.95 0 1 0 7.9 0a3.95 3.95 0 1 0 -7.9 0M652.9 309.3a3.95 3.95 0 1 0 7.9 0a3.95 3.95 0 1 0 -7.9 0M654.1 308.6a3.95 3.95 0 1 0 7.9 0a3.95 3.95 0 1 0 -7.9 0M655.5 308.7a3.95 3.95 0 1 0 7.9 0a3.95 3.95 0 1 0 -7.9 0M656.8 308.6a3.95 3.95 0 1 0 7.9 0a3.95 3.95 0 1 0 -7.9 0M658 308.7a3.95 3.95 0 1 0 7.9 0a3.95 3.95 0 1 0 -7.9 0M659.4 308.7a3.95 3.95 0 1 0 7.9 0a3.95 3.95 0 1 0 -7.9 0M660.6 309.7a3.95 3.95 0 1 0 7.9 0a3.95 3.95 0 1 0 -7.9 0M662 309.6a3.95 3.95 0 1 0 7.9 0a3.95 3.95 0 1 0 -7.9 0M663.2 308.7a3.95 3.95 0 1 0 7.9 0a3.95 3.95 0 1 0 -7.9 0M664.5 308.8a3.95 3.95 0 1 0 7.9 0a3.95 3.95 0 1 0 -7.9 0M665.9 309.6a3.95 3.95 0 1 0 7.9 0a3.95 3.95 0 1 0 -7.9 0M667.1 309.1a3.95 3.95 0 1 0 7.9 0a3.95 3.95 0 1 0 -7.9 0M668.5 308.9a3.95 3.95 0 1 0 7.9 0a3.95 3.95 0 1 0 -7.9 0M669.8 309a3.95 3.95 0 1 0 7.9 0a3.95 3.95 0 1 0 -7.9 0M671 308.8a3.95 3.95 0 1 0 7.9 0a3.95 3.95 0 1 0 -7.9 0M672.4 309.2a3.95 3.95 0 1 0 7.9 0a3.95 3.95 0 1 0 -7.9 0M673.6 309.4a3.95 3.95 0 1 0 7.9 0a3.95 3.95 0 1 0 -7.9 0M675 309.2a3.95 3.95 0 1 0 7.9 0a3.95 3.95 0 1 0 -7.9 0M676.2 309.6a3.95 3.95 0 1 0 7.9 0a3.95 3.95 0 1 0 -7.9 0M677.5 308.7a3.95 3.95 0 1 0 7.9 0a3.95 3.95 0 1 0 -7.9 0M678.9 309.4a3.95 3.95 0 1 0 7.9 0a3.95 3.95 0 1 0 -7.9 0M680.1 309.9a3.95 3.95 0 1 0 7.9 0a3.95 3.95 0 1 0 -7.9 0M681.5 309a3.95 3.95 0 1 0 7.9 0a3.95 3.95 0 1 0 -7.9 0M682.8 309.5a3.95 3.95 0 1 0 7.9 0a3.95 3.95 0 1 0 -7.9 0M684 309.6a3.95 3.95 0 1 0 7.9 0a3.95 3.95 0 1 0 -7.9 0M685.4 309a3.95 3.95 0 1 0 7.9 0a3.95 3.95 0 1 0 -7.9 0M686.6 309.5a3.95 3.95 0 1 0 7.9 0a3.95 3.95 0 1 0 -7.9 0M688 308.7a3.95 3.95 0 1 0 7.9 0a3.95 3.95 0 1 0 -7.9 0M689.2 308.5a3.95 3.95 0 1 0 7.9 0a3.95 3.95 0 1 0 -7.9 0"/>
<path fill="#bcbcbc" filter="url(#sb)" d="M480.4 480.2h1.5v2.3h-1.5zM485.9 480.2h1.5v2.3h-1.5zM491.5 480.2h1.5v2.3h-1.5zM497 480.2h1.5v2.3h-1.5zM502.6 480.2h1.5v2.3h-1.5zM508.1 480.2h1.5v2.3h-1.5zM513.7 480.2h1.5v2.3h-1.5zM519.2 480.2h1.5v2.3h-1.5zM524.8 480.2h1.5v2.3h-1.5zM530.4 480.2h1.5v2.3h-1.5zM535.9 480.2h1.5v2.3h-1.5zM541.5 480.2h1.5v2.3h-1.5zM547 480.2h1.5v2.3h-1.5zM552.6 480.2h1.5v2.3h-1.5zM558.1 480.2h1.5v2.3h-1.5zM563.7 480.2h1.5v2.3h-1.5zM569.2 480.2h1.5v2.3h-1.5zM574.8 480.2h1.5v2.3h-1.5zM580.4 480.2h1.5v2.3h-1.5zM585.9 480.2h1.5v2.3h-1.5zM591.5 480.2h1.5v2.3h-1.5zM597 480.2h1.5v2.3h-1.5zM602.6 480.2h1.5v2.3h-1.5zM608.1 480.2h1.5v2.3h-1.5zM613.7 480.2h1.5v2.3h-1.5zM619.2 480.2h1.5v2.3h-1.5zM624.8 480.2h1.5v2.3h-1.5zM630.4 480.2h1.5v2.3h-1.5zM635.9 480.2h1.5v2.3h-1.5zM641.5 480.2h1.5v2.3h-1.5zM647 480.2h1.5v2.3h-1.5zM652.6 480.2h1.5v2.3h-1.5zM658.1 480.2h1.5v2.3h-1.5zM663.7 480.2h1.5v2.3h-1.5zM669.3 480.2h1.5v2.3h-1.5zM674.8 480.2h1.5v2.3h-1.5zM680.4 480.2h1.5v2.3h-1.5zM685.9 480.2h1.5v2.3h-1.5zM691.5 480.2h1.5v2.3h-1.5zM697 480.2h1.5v2.3h-1.5zM480.4 474.2h1.5v2.3h-1.5zM485.9 474.2h1.5v2.3h-1.5zM491.5 474.2h1.5v2.3h-1.5zM497 474.2h1.5v2.3h-1.5zM502.6 474.2h1.5v2.3h-1.5zM508.1 474.2h1.5v2.3h-1.5zM513.7 474.2h1.5v2.3h-1.5zM519.2 474.2h1.5v2.3h-1.5zM524.8 474.2h1.5v2.3h-1.5zM530.4 474.2h1.5v2.3h-1.5zM535.9 474.2h1.5v2.3h-1.5zM541.5 474.2h1.5v2.3h-1.5zM547 474.2h1.5v2.3h-1.5zM552.6 474.2h1.5v2.3h-1.5zM558.1 474.2h1.5v2.3h-1.5zM563.7 474.2h1.5v2.3h-1.5zM569.2 474.2h1.5v2.3h-1.5zM574.8 474.2h1.5v2.3h-1.5zM580.4 474.2h1.5v2.3h-1.5zM585.9 474.2h1.5v2.3h-1.5zM591.5 474.2h1.5v2.3h-1.5zM597 474.2h1.5v2.3h-1.5zM602.6 474.2h1.5v2.3h-1.5zM608.1 474.2h1.5v2.3h-1.5zM613.7 474.2h1.5v2.3h-1.5zM619.2 474.2h1.5v2.3h-1.5zM624.8 474.2h1.5v2.3h-1.5zM630.4 474.2h1.5v2.3h-1.5zM635.9 474.2h1.5v2.3h-1.5zM641.5 474.2h1.5v2.3h-1.5zM647 474.2h1.5v2.3h-1.5zM652.6 474.2h1.5v2.3h-1.5zM658.1 474.2h1.5v2.3h-1.5zM663.7 474.2h1.5v2.3h-1.5zM669.3 474.2h1.5v2.3h-1.5zM674.8 474.2h1.5v2.3h-1.5zM680.4 474.2h1.5v2.3h-1.5zM685.9 474.2h1.5v2.3h-1.5zM691.5 474.2h1.5v2.3h-1.5zM697 474.2h1.5v2.3h-1.5zM480.4 468.2h1.5v2.3h-1.5zM485.9 468.2h1.5v2.3h-1.5zM491.5 468.2h1.5v2.3h-1.5zM497 468.2h1.5v2.3h-1.5zM502.6 468.2h1.5v2.3h-1.5zM508.1 468.2h1.5v2.3h-1.5zM513.7 468.2h1.5v2.3h-1.5zM519.2 468.2h1.5v2.3h-1.5zM524.8 468.2h1.5v2.3h-1.5zM530.4 468.2h1.5v2.3h-1.5zM535.9 468.2h1.5v2.3h-1.5zM541.5 468.2h1.5v2.3h-1.5zM547 468.2h1.5v2.3h-1.5zM552.6 468.2h1.5v2.3h-1.5zM558.1 468.2h1.5v2.3h-1.5zM563.7 468.2h1.5v2.3h-1.5zM569.2 468.2h1.5v2.3h-1.5zM574.8 468.2h1.5v2.3h-1.5zM580.4 468.2h1.5v2.3h-1.5zM585.9 468.2h1.5v2.3h-1.5zM591.5 468.2h1.5v2.3h-1.5zM597 468.2h1.5v2.3h-1.5zM602.6 468.2h1.5v2.3h-1.5zM608.1 468.2h1.5v2.3h-1.5zM613.7 468.2h1.5v2.3h-1.5zM619.2 468.2h1.5v2.3h-1.5zM624.8 468.2h1.5v2.3h-1.5zM630.4 468.2h1.5v2.3h-1.5zM635.9 468.2h1.5v2.3h-1.5zM641.5 468.2h1.5v2.3h-1.5zM647 468.2h1.5v2.3h-1.5zM652.6 468.2h1.5v2.3h-1.5zM658.1 468.2h1.5v2.3h-1.5zM663.7 468.2h1.5v2.3h-1.5zM669.3 468.2h1.5v2.3h-1.5zM674.8 468.2h1.5v2.3h-1.5zM680.4 468.2h1.5v2.3h-1.5zM685.9 468.2h1.5v2.3h-1.5zM691.5 468.2h1.5v2.3h-1.5zM697 468.2h1.5v2.3h-1.5zM480.4 462.2h1.5v2.3h-1.5zM485.9 462.2h1.5v2.3h-1.5zM491.5 462.2h1.5v2.3h-1.5zM497 462.2h1.5v2.3h-1.5zM502.6 462.2h1.5v2.3h-1.5zM508.1 462.2h1.5v2.3h-1.5zM513.7 462.2h1.5v2.3h-1.5zM519.2 462.2h1.5v2.3h-1.5zM524.8 462.2h1.5v2.3h-1.5zM530.4 462.2h1.5v2.3h-1.5zM535.9 462.2h1.5v2.3h-1.5zM541.5 462.2h1.5v2.3h-1.5zM547 462.2h1.5v2.3h-1.5zM552.6 462.2h1.5v2.3h-1.5zM558.1 462.2h1.5v2.3h-1.5zM563.7 462.2h1.5v2.3h-1.5zM569.2 462.2h1.5v2.3h-1.5zM574.8 462.2h1.5v2.3h-1.5zM580.4 462.2h1.5v2.3h-1.5zM585.9 462.2h1.5v2.3h-1.5zM591.5 462.2h1.5v2.3h-1.5zM597 462.2h1.5v2.3h-1.5zM602.6 462.2h1.5v2.3h-1.5zM608.1 462.2h1.5v2.3h-1.5zM613.7 462.2h1.5v2.3h-1.5zM619.2 462.2h1.5v2.3h-1.5zM624.8 462.2h1.5v2.3h-1.5zM630.4 462.2h1.5v2.3h-1.5zM635.9 462.2h1.5v2.3h-1.5zM641.5 462.2h1.5v2.3h-1.5zM647 462.2h1.5v2.3h-1.5zM652.6 462.2h1.5v2.3h-1.5zM658.1 462.2h1.5v2.3h-1.5zM663.7 462.2h1.5v2.3h-1.5zM669.3 462.2h1.5v2.3h-1.5zM674.8 462.2h1.5v2.3h-1.5zM680.4 462.2h1.5v2.3h-1.5zM685.9 462.2h1.5v2.3h-1.5zM691.5 462.2h1.5v2.3h-1.5zM697 462.2h1.5v2.3h-1.5zM480.4 450.2h1.5v2.3h-1.5zM485.9 450.2h1.5v2.3h-1.5zM491.5 450.2h1.5v2.3h-1.5zM497 450.2h1.5v2.3h-1.5zM502.6 450.2h1.5v2.3h-1.5zM508.1 450.2h1.5v2.3h-1.5zM513.7 450.2h1.5v2.3h-1.5zM519.2 450.2h1.5v2.3h-1.5zM524.8 450.2h1.5v2.3h-1.5zM530.4 450.2h1.5v2.3h-1.5zM535.9 450.2h1.5v2.3h-1.5zM541.5 450.2h1.5v2.3h-1.5zM547 450.2h1.5v2.3h-1.5zM552.6 450.2h1.5v2.3h-1.5zM558.1 450.2h1.5v2.3h-1.5zM563.7 450.2h1.5v2.3h-1.5zM569.2 450.2h1.5v2.3h-1.5zM574.8 450.2h1.5v2.3h-1.5zM580.4 450.2h1.5v2.3h-1.5zM585.9 450.2h1.5v2.3h-1.5zM591.5 450.2h1.5v2.3h-1.5zM597 450.2h1.5v2.3h-1.5zM602.6 450.2h1.5v2.3h-1.5zM608.1 450.2h1.5v2.3h-1.5zM613.7 450.2h1.5v2.3h-1.5zM619.2 450.2h1.5v2.3h-1.5zM624.8 450.2h1.5v2.3h-1.5zM630.4 450.2h1.5v2.3h-1.5zM635.9 450.2h1.5v2.3h-1.5zM641.5 450.2h1.5v2.3h-1.5zM647 450.2h1.5v2.3h-1.5zM652.6 450.2h1.5v2.3h-1.5zM658.1 450.2h1.5v2.3h-1.5zM663.7 450.2h1.5v2.3h-1.5zM669.3 450.2h1.5v2.3h-1.5zM674.8 450.2h1.5v2.3h-1.5zM680.4 450.2h1.5v2.3h-1.5zM685.9 450.2h1.5v2.3h-1.5zM691.5 450.2h1.5v2.3h-1.5zM697 450.2h1.5v2.3h-1.5zM480.4 444.2h1.5v2.3h-1.5zM485.9 444.2h1.5v2.3h-1.5zM491.5 444.2h1.5v2.3h-1.5zM497 444.2h1.5v2.3h-1.5zM502.6 444.2h1.5v2.3h-1.5zM508.1 444.2h1.5v2.3h-1.5zM513.7 444.2h1.5v2.3h-1.5zM519.2 444.2h1.5v2.3h-1.5zM524.8 444.2h1.5v2.3h-1.5zM530.4 444.2h1.5v2.3h-1.5zM535.9 444.2h1.5v2.3h-1.5zM541.5 444.2h1.5v2.3h-1.5zM547 444.2h1.5v2.3h-1.5zM552.6 444.2h1.5v2.3h-1.5zM558.1 444.2h1.5v2.3h-1.5zM563.7 444.2h1.5v2.3h-1.5zM569.2 444.2h1.5v2.3h-1.5zM574.8 444.2h1.5v2.3h-1.5zM580.4 444.2h1.5v2.3h-1.5zM585.9 444.2h1.5v2.3h-1.5zM591.5 444.2h1.5v2.3h-1.5zM597 444.2h1.5v2.3h-1.5zM602.6 444.2h1.5v2.3h-1.5zM608.1 444.2h1.5v2.3h-1.5zM613.7 444.2h1.5v2.3h-1.5zM619.2 444.2h1.5v2.3h-1.5zM624.8 444.2h1.5v2.3h-1.5zM630.4 444.2h1.5v2.3h-1.5zM635.9 444.2h1.5v2.3h-1.5zM641.5 444.2h1.5v2.3h-1.5zM647 444.2h1.5v2.3h-1.5zM652.6 444.2h1.5v2.3h-1.5zM658.1 444.2h1.5v2.3h-1.5zM663.7 444.2h1.5v2.3h-1.5zM669.3 444.2h1.5v2.3h-1.5zM674.8 444.2h1.5v2.3h-1.5zM680.4 444.2h1.5v2.3h-1.5zM685.9 444.2h1.5v2.3h-1.5zM691.5 444.2h1.5v2.3h-1.5zM697 444.2h1.5v2.3h-1.5zM480.4 438.2h1.5v2.3h-1.5zM485.9 438.2h1.5v2.3h-1.5zM491.5 438.2h1.5v2.3h-1.5zM497 438.2h1.5v2.3h-1.5zM502.6 438.2h1.5v2.3h-1.5zM508.1 438.2h1.5v2.3h-1.5zM513.7 438.2h1.5v2.3h-1.5zM519.2 438.2h1.5v2.3h-1.5zM524.8 438.2h1.5v2.3h-1.5zM530.4 438.2h1.5v2.3h-1.5zM535.9 438.2h1.5v2.3h-1.5zM541.5 438.2h1.5v2.3h-1.5zM547 438.2h1.5v2.3h-1.5zM552.6 438.2h1.5v2.3h-1.5zM558.1 438.2h1.5v2.3h-1.5zM563.7 438.2h1.5v2.3h-1.5zM569.2 438.2h1.5v2.3h-1.5zM574.8 438.2h1.5v2.3h-1.5zM580.4 438.2h1.5v2.3h-1.5zM585.9 438.2h1.5v2.3h-1.5zM591.5 438.2h1.5v2.3h-1.5zM597 438.2h1.5v2.3h-1.5zM602.6 438.2h1.5v2.3h-1.5zM608.1 438.2h1.5v2.3h-1.5zM613.7 438.2h1.5v2.3h-1.5zM619.2 438.2h1.5v2.3h-1.5zM624.8 438.2h1.5v2.3h-1.5zM630.4 438.2h1.5v2.3h-1.5zM635.9 438.2h1.5v2.3h-1.5zM641.5 438.2h1.5v2.3h-1.5zM647 438.2h1.5v2.3h-1.5zM652.6 438.2h1.5v2.3h-1.5zM658.1 438.2h1.5v2.3h-1.5zM663.7 438.2h1.5v2.3h-1.5zM669.3 438.2h1.5v2.3h-1.5zM674.8 438.2h1.5v2.3h-1.5zM680.4 438.2h1.5v2.3h-1.5zM685.9 438.2h1.5v2.3h-1.5zM691.5 438.2h1.5v2.3h-1.5zM697 438.2h1.5v2.3h-1.5zM480.4 432.2h1.5v2.3h-1.5zM485.9 432.2h1.5v2.3h-1.5zM491.5 432.2h1.5v2.3h-1.5zM497 432.2h1.5v2.3h-1.5zM502.6 432.2h1.5v2.3h-1.5zM508.1 432.2h1.5v2.3h-1.5zM513.7 432.2h1.5v2.3h-1.5zM519.2 432.2h1.5v2.3h-1.5zM524.8 432.2h1.5v2.3h-1.5zM530.4 432.2h1.5v2.3h-1.5zM535.9 432.2h1.5v2.3h-1.5zM541.5 432.2h1.5v2.3h-1.5zM547 432.2h1.5v2.3h-1.5zM552.6 432.2h1.5v2.3h-1.5zM558.1 432.2h1.5v2.3h-1.5zM563.7 432.2h1.5v2.3h-1.5zM569.2 432.2h1.5v2.3h-1.5zM574.8 432.2h1.5v2.3h-1.5zM580.4 432.2h1.5v2.3h-1.5zM585.9 432.2h1.5v2.3h-1.5zM591.5 432.2h1.5v2.3h-1.5zM597 432.2h1.5v2.3h-1.5zM602.6 432.2h1.5v2.3h-1.5zM608.1 432.2h1.5v2.3h-1.5zM613.7 432.2h1.5v2.3h-1.5zM619.2 432.2h1.5v2.3h-1.5zM624.8 432.2h1.5v2.3h-1.5zM630.4 432.2h1.5v2.3h-1.5zM635.9 432.2h1.5v2.3h-1.5zM641.5 432.2h1.5v2.3h-1.5zM647 432.2h1.5v2.3h-1.5zM652.6 432.2h1.5v2.3h-1.5zM658.1 432.2h1.5v2.3h-1.5zM663.7 432.2h1.5v2.3h-1.5zM669.3 432.2h1.5v2.3h-1.5zM674.8 432.2h1.5v2.3h-1.5zM680.4 432.2h1.5v2.3h-1.5zM685.9 432.2h1.5v2.3h-1.5zM691.5 432.2h1.5v2.3h-1.5zM697 432.2h1.5v2.3h-1.5z"/>
<path stroke="#262626" stroke-opacity="0.13" stroke-width="2.3" fill="none" d="M523.3 427.3V487.3M567.2 427.3V487.3M611 427.3V487.3M654.9 427.3V487.3"/>
<path stroke="#262626" stroke-opacity="0.13" stroke-width="2.3" fill="none" d="M479.5 457.3H698.7"/>
<rect x="479.5" y="427.3" width="219.2" height="60" fill="none" stroke="#262626" stroke-width="2.0"/>
<path stroke="#262626" stroke-width="2.0" fill="none" d="M479.5 487.3v-3M479.5 427.3v3M523.3 487.3v-3M523.3 427.3v3M567.2 487.3v-3M567.2 427.3v3M611 487.3v-3M611 427.3v3M654.9 487.3v-3M654.9 427.3v3M698.7 487.3v-3M698.7 427.3v3M479.5 487.3h3M698.7 487.3h-3M479.5 457.3h3M698.7 457.3h-3M479.5 427.3h3M698.7 427.3h-3"/>
<path fill="none" stroke="#0072BD" stroke-width="2.0" d="M513.8 486.9a3.95 3.95 0 1 0 7.9 0a3.95 3.95 0 1 0 -7.9 0M515 486.9a3.95 3.95 0 1 0 7.9 0a3.95 3.95 0 1 0 -7.9 0M516.4 486.9a3.95 3.95 0 1 0 7.9 0a3.95 3.95 0 1 0 -7.9 0M517.6 486.9a3.95 3.95 0 1 0 7.9 0a3.95 3.95 0 1 0 -7.9 0M519 486.9a3.95 3.95 0 1 0 7.9 0a3.95 3.95 0 1 0 -7.9 0M520.2 486.9a3.95 3.95 0 1 0 7.9 0a3.95 3.95 0 1 0 -7.9 0M521.5 486.9a3.95 3.95 0 1 0 7.9 0a3.95 3.95 0 1 0 -7.9 0M522.9 486.9a3.95 3.95 0 1 0 7.9 0a3.95 3.95 0 1 0 -7.9 0M524.1 486.9a3.95 3.95 0 1 0 7.9 0a3.95 3.95 0 1 0 -7.9 0M525.5 486.9a3.95 3.95 0 1 0 7.9 0a3.95 3.95 0 1 0 -7.9 0M526.8 486.9a3.95 3.95 0 1 0 7.9 0a3.95 3.95 0 1 0 -7.9 0M528 486.9a3.95 3.95 0 1 0 7.9 0a3.95 3.95 0 1 0 -7.9 0M529.4 486.9a3.95 3.95 0 1 0 7.9 0a3.95 3.95 0 1 0 -7.9 0M530.6 486.9a3.95 3.95 0 1 0 7.9 0a3.95 3.95 0 1 0 -7.9 0M532 486.9a3.95 3.95 0 1 0 7.9 0a3.95 3.95 0 1 0 -7.9 0M533.2 486.9a3.95 3.95 0 1 0 7.9 0a3.95 3.95 0 1 0 -7.9 0M534.5 486.9a3.95 3.95 0 1 0 7.9 0a3.95 3.95 0 1 0 -7.9 0M535.9 486.9a3.95 3.95 0 1 0 7.9 0a3.95 3.95 0 1 0 -7.9 0M537.1 486.9a3.95 3.95 0 1 0 7.9 0a3.95 3.95 0 1 0 -7.9 0M538.5 486.9a3.95 3.95 0 1 0 7.9 0a3.95 3.95 0 1 0 -7.9 0M539.8 486.9a3.95 3.95 0 1 0 7.9 0a3.95 3.95 0 1 0 -7.9 0M541 486.9a3.95 3.95 0 1 0 7.9 0a3.95 3.95 0 1 0 -7.9 0M542.4 486.9a3.95 3.95 0 1 0 7.9 0a3.95 3.95 0 1 0 -7.9 0M543.6 486.9a3.95 3.95 0 1 0 7.9 0a3.95 3.95 0 1 0 -7.9 0M545 486.9a3.95 3.95 0 1 0 7.9 0a3.95 3.95 0 1 0 -7.9 0M546.2 486.9a3.95 3.95 0 1 0 7.9 0a3.95 3.95 0 1 0 -7.9 0M547.5 486.9a3.95 3.95 0 1 0 7.9 0a3.95 3.95 0 1 0 -7.9 0M548.9 486.9a3.95 3.95 0 1 0 7.9 0a3.95 3.95 0 1 0 -7.9 0M550.1 486.9a3.95 3.95 0 1 0 7.9 0a3.95 3.95 0 1 0 -7.9 0M551.5 486.9a3.95 3.95 0 1 0 7.9 0a3.95 3.95 0 1 0 -7.9 0M552.8 486.9a3.95 3.95 0 1 0 7.9 0a3.95 3.95 0 1 0 -7.9 0M554 486.9a3.95 3.95 0 1 0 7.9 0a3.95 3.95 0 1 0 -7.9 0M555.4 486.9a3.95 3.95 0 1 0 7.9 0a3.95 3.95 0 1 0 -7.9 0M556.6 486.9a3.95 3.95 0 1 0 7.9 0a3.95 3.95 0 1 0 -7.9 0M558 486.9a3.95 3.95 0 1 0 7.9 0a3.95 3.95 0 1 0 -7.9 0M559.2 486.9a3.95 3.95 0 1 0 7.9 0a3.95 3.95 0 1 0 -7.9 0M560.5 486.9a3.95 3.95 0 1 0 7.9 0a3.95 3.95 0 1 0 -7.9 0M561.9 486.9a3.95 3.95 0 1 0 7.9 0a3.95 3.95 0 1 0 -7.9 0M563.1 486.9a3.95 3.95 0 1 0 7.9 0a3.95 3.95 0 1 0 -7.9 0M564.5 486.9a3.95 3.95 0 1 0 7.9 0a3.95 3.95 0 1 0 -7.9 0M565.8 486.9a3.95 3.95 0 1 0 7.9 0a3.95 3.95 0 1 0 -7.9 0M567 486.9a3.95 3.95 0 1 0 7.9 0a3.95 3.95 0 1 0 -7.9 0M568.4 486.9a3.95 3.95 0 1 0 7.9 0a3.95 3.95 0 1 0 -7.9 0M569.6 486.9a3.95 3.95 0 1 0 7.9 0a3.95 3.95 0 1 0 -7.9 0M571 486.9a3.95 3.95 0 1 0 7.9 0a3.95 3.95 0 1 0 -7.9 0M572.2 486.9a3.95 3.95 0 1 0 7.9 0a3.95 3.95 0 1 0 -7.9 0M573.5 486.9a3.95 3.95 0 1 0 7.9 0a3.95 3.95 0 1 0 -7.9 0M574.9 486.9a3.95 3.95 0 1 0 7.9 0a3.95 3.95 0 1 0 -7.9 0M576.1 486.9a3.95 3.95 0 1 0 7.9 0a3.95 3.95 0 1 0 -7.9 0M577.5 486.9a3.95 3.95 0 1 0 7.9 0a3.95 3.95 0 1 0 -7.9 0M578.8 486.9a3.95 3.95 0 1 0 7.9 0a3.95 3.95 0 1 0 -7.9 0M580 486.9a3.95 3.95 0 1 0 7.9 0a3.95 3.95 0 1 0 -7.9 0M581.4 486.9a3.95 3.95 0 1 0 7.9 0a3.95 3.95 0 1 0 -7.9 0M582.6 486.9a3.95 3.95 0 1 0 7.9 0a3.95 3.95 0 1 0 -7.9 0M584 486.9a3.95 3.95 0 1 0 7.9 0a3.95 3.95 0 1 0 -7.9 0M585.2 486.9a3.95 3.95 0 1 0 7.9 0a3.95 3.95 0 1 0 -7.9 0M586.5 486.9a3.95 3.95 0 1 0 7.9 0a3.95 3.95 0 1 0 -7.9 0M587.9 486.9a3.95 3.95 0 1 0 7.9 0a3.95 3.95 0 1 0 -7.9 0M589.1 486.9a3.95 3.95 0 1 0 7.9 0a3.95 3.95 0 1 0 -7.9 0M590.5 486.9a3.95 3.95 0 1 0 7.9 0a3.95 3.95 0 1 0 -7.9 0M591.8 486.9a3.95 3.95 0 1 0 7.9 0a3.95 3.95 0 1 0 -7.9 0M593 486.9a3.95 3.95 0 1 0 7.9 0a3.95 3.95 0 1 0 -7.9 0M594.4 486.9a3.95 3.95 0 1 0 7.9 0a3.95 3.95 0 1 0 -7.9 0M595.6 486.9a3.95 3.95 0 1 0 7.9 0a3.95 3.95 0 1 0 -7.9 0M597 486.9a3.95 3.95 0 1 0 7.9 0a3.95 3.95 0 1 0 -7.9 0M598.2 486.9a3.95 3.95 0 1 0 7.9 0a3.95 3.95 0 1 0 -7.9 0M599.5 486.9a3.95 3.95 0 1 0 7.9 0a3.95 3.95 0 1 0 -7.9 0M600.9 486.9a3.95 3.95 0 1 0 7.9 0a3.95 3.95 0 1 0 -7.9 0M602.1 486.9a3.95 3.95 0 1 0 7.9 0a3.95 3.95 0 1 0 -7.9 0M603.5 486.9a3.95 3.95 0 1 0 7.9 0a3.95 3.95 0 1 0 -7.9 0M604.8 486.9a3.95 3.95 0 1 0 7.9 0a3.95 3.95 0 1 0 -7.9 0M606 486.9a3.95 3.95 0 1 0 7.9 0a3.95 3.95 0 1 0 -7.9 0M607.4 486.9a3.95 3.95 0 1 0 7.9 0a3.95 3.95 0 1 0 -7.9 0M608.6 486.9a3.95 3.95 0 1 0 7.9 0a3.95 3.95 0 1 0 -7.9 0M610 486.9a3.95 3.95 0 1 0 7.9 0a3.95 3.95 0 1 0 -7.9 0M611.2 486.9a3.95 3.95 0 1 0 7.9 0a3.95 3.95 0 1 0 -7.9 0M612.5 486.9a3.95 3.95 0 1 0 7.9 0a3.95 3.95 0 1 0 -7.9 0M613.9 486.9a3.95 3.95 0 1 0 7.9 0a3.95 3.95 0 1 0 -7.9 0M615.1 486.9a3.95 3.95 0 1 0 7.9 0a3.95 3.95 0 1 0 -7.9 0M616.5 486.9a3.95 3.95 0 1 0 7.9 0a3.95 3.95 0 1 0 -7.9 0M617.8 486.9a3.95 3.95 0 1 0 7.9 0a3.95 3.95 0 1 0 -7.9 0M619 486.9a3.95 3.95 0 1 0 7.9 0a3.95 3.95 0 1 0 -7.9 0M620.4 486.9a3.95 3.95 0 1 0 7.9 0a3.95 3.95 0 1 0 -7.9 0M621.6 486.9a3.95 3.95 0 1 0 7.9 0a3.95 3.95 0 1 0 -7.9 0M634.8 486.9a3.95 3.95 0 1 0 7.9 0a3.95 3.95 0 1 0 -7.9 0M636.1 486.9a3.95 3.95 0 1 0 7.9 0a3.95 3.95 0 1 0 -7.9 0M637.4 486.9a3.95 3.95 0 1 0 7.9 0a3.95 3.95 0 1 0 -7.9 0M638.7 486.9a3.95 3.95 0 1 0 7.9 0a3.95 3.95 0 1 0 -7.9 0M640 486.9a3.95 3.95 0 1 0 7.9 0a3.95 3.95 0 1 0 -7.9 0M641.3 486.9a3.95 3.95 0 1 0 7.9 0a3.95 3.95 0 1 0 -7.9 0M642.6 486.9a3.95 3.95 0 1 0 7.9 0a3.95 3.95 0 1 0 -7.9 0M643.9 486.9a3.95 3.95 0 1 0 7.9 0a3.95 3.95 0 1 0 -7.9 0M645.2 486.9a3.95 3.95 0 1 0 7.9 0a3.95 3.95 0 1 0 -7.9 0M646.5 486.9a3.95 3.95 0 1 0 7.9 0a3.95 3.95 0 1 0 -7.9 0M647.8 486.9a3.95 3.95 0 1 0 7.9 0a3.95 3.95 0 1 0 -7.9 0M649.1 486.9a3.95 3.95 0 1 0 7.9 0a3.95 3.95 0 1 0 -7.9 0M650.4 486.9a3.95 3.95 0 1 0 7.9 0a3.95 3.95 0 1 0 -7.9 0M651.7 486.9a3.95 3.95 0 1 0 7.9 0a3.95 3.95 0 1 0 -7.9 0M653 486.9a3.95 3.95 0 1 0 7.9 0a3.95 3.95 0 1 0 -7.9 0M654.3 486.9a3.95 3.95 0 1 0 7.9 0a3.95 3.95 0 1 0 -7.9 0M655.6 486.9a3.95 3.95 0 1 0 7.9 0a3.95 3.95 0 1 0 -7.9 0M656.9 486.9a3.95 3.95 0 1 0 7.9 0a3.95 3.95 0 1 0 -7.9 0M658.2 486.9a3.95 3.95 0 1 0 7.9 0a3.95 3.95 0 1 0 -7.9 0M659.5 486.9a3.95 3.95 0 1 0 7.9 0a3.95 3.95 0 1 0 -7.9 0M660.8 486.9a3.95 3.95 0 1 0 7.9 0a3.95 3.95 0 1 0 -7.9 0M678.1 486.9a3.95 3.95 0 1 0 7.9 0a3.95 3.95 0 1 0 -7.9 0M679.4 486.9a3.95 3.95 0 1 0 7.9 0a3.95 3.95 0 1 0 -7.9 0M680.8 486.9a3.95 3.95 0 1 0 7.9 0a3.95 3.95 0 1 0 -7.9 0M682 486.9a3.95 3.95 0 1 0 7.9 0a3.95 3.95 0 1 0 -7.9 0M683.4 486.9a3.95 3.95 0 1 0 7.9 0a3.95 3.95 0 1 0 -7.9 0M684.6 486.9a3.95 3.95 0 1 0 7.9 0a3.95 3.95 0 1 0 -7.9 0M685.9 486.9a3.95 3.95 0 1 0 7.9 0a3.95 3.95 0 1 0 -7.9 0M687.2 486.9a3.95 3.95 0 1 0 7.9 0a3.95 3.95 0 1 0 -7.9 0M688.5 486.9a3.95 3.95 0 1 0 7.9 0a3.95 3.95 0 1 0 -7.9 0M624.5 482a3.95 3.95 0 1 0 7.9 0a3.95 3.95 0 1 0 -7.9 0M626 479.5a3.95 3.95 0 1 0 7.9 0a3.95 3.95 0 1 0 -7.9 0M627.2 477a3.95 3.95 0 1 0 7.9 0a3.95 3.95 0 1 0 -7.9 0M628.5 475a3.95 3.95 0 1 0 7.9 0a3.95 3.95 0 1 0 -7.9 0M629.5 472.8a3.95 3.95 0 1 0 7.9 0a3.95 3.95 0 1 0 -7.9 0M632 474a3.95 3.95 0 1 0 7.9 0a3.95 3.95 0 1 0 -7.9 0M633.5 476a3.95 3.95 0 1 0 7.9 0a3.95 3.95 0 1 0 -7.9 0M634.5 480a3.95 3.95 0 1 0 7.9 0a3.95 3.95 0 1 0 -7.9 0M663.6 476.2a3.95 3.95 0 1 0 7.9 0a3.95 3.95 0 1 0 -7.9 0M665.5 465.3a3.95 3.95 0 1 0 7.9 0a3.95 3.95 0 1 0 -7.9 0M667.4 454.7a3.95 3.95 0 1 0 7.9 0a3.95 3.95 0 1 0 -7.9 0M668.8 447a3.95 3.95 0 1 0 7.9 0a3.95 3.95 0 1 0 -7.9 0M671 439a3.95 3.95 0 1 0 7.9 0a3.95 3.95 0 1 0 -7.9 0M673 430.9a3.95 3.95 0 1 0 7.9 0a3.95 3.95 0 1 0 -7.9 0M674.9 449.8a3.95 3.95 0 1 0 7.9 0a3.95 3.95 0 1 0 -7.9 0M676.5 468.2a3.95 3.95 0 1 0 7.9 0a3.95 3.95 0 1 0 -7.9 0"/>
<g style="opacity:0.995"><text x="156.84" y="31.5" font-size="20.96" font-weight="bold" textLength="178.33" lengthAdjust="spacingAndGlyphs" style="fill:#000">Figure 1 medium</text>
<text x="220.76" y="575.7" font-size="22.03" font-weight="normal" textLength="49.07" lengthAdjust="spacingAndGlyphs">Time</text>
<text x="563.76" y="575.7" font-size="22.03" font-weight="normal" textLength="49.07" lengthAdjust="spacingAndGlyphs">Time</text>
<text transform="translate(72.4 124.76) rotate(-90)" font-size="20.14" textLength="100.32" lengthAdjust="spacingAndGlyphs">PRESSURE</text>
<text transform="translate(72.4 383.35) rotate(-90)" font-size="20.14" textLength="106.74" lengthAdjust="spacingAndGlyphs">MIXDEPTH</text>
<text transform="translate(426.6 107.2) rotate(-90)" font-size="20.14" textLength="65.26" lengthAdjust="spacingAndGlyphs">THETA</text>
<text transform="translate(433.5 250.41) rotate(-90)" font-size="20.14" textLength="96.2" lengthAdjust="spacingAndGlyphs">RAINFALL</text>
<text transform="translate(448.7 384.17) rotate(-90)" font-size="20.14" textLength="108.94" lengthAdjust="spacingAndGlyphs">H2OMIXRA</text>
<text transform="translate(74.4 245.4) rotate(-90)" font-size="20.22" textLength="33.65" lengthAdjust="spacingAndGlyphs">AIR</text>
<text transform="translate(84.6 210.9) rotate(-90)" font-size="16.67" textLength="9.22" lengthAdjust="spacingAndGlyphs">T</text>
<text transform="translate(74.4 200.08) rotate(-90)" font-size="20.22" textLength="42.7" lengthAdjust="spacingAndGlyphs">EMP</text>
<text transform="translate(74.5 501.67) rotate(-90)" font-size="20.14" textLength="50.23" lengthAdjust="spacingAndGlyphs">TERR</text>
<text transform="translate(84.5 449.94) rotate(-90)" font-size="15.94" textLength="13.93" lengthAdjust="spacingAndGlyphs">M</text>
<text transform="translate(74.5 434.09) rotate(-90)" font-size="20.14" textLength="21.89" lengthAdjust="spacingAndGlyphs">SL</text>
<text transform="translate(398.7 504.21) rotate(-90)" font-size="20" textLength="42.44" lengthAdjust="spacingAndGlyphs">SUN</text>
<text transform="translate(407.7 457.78) rotate(-90)" font-size="16.81" textLength="7.48" lengthAdjust="spacingAndGlyphs">F</text>
<text transform="translate(398.7 449.07) rotate(-90)" font-size="20" textLength="38.27" lengthAdjust="spacingAndGlyphs">LUX</text>
<text x="84.61" y="50.55" font-size="18.7" textLength="43.06" lengthAdjust="spacingAndGlyphs">1000</text>
<text x="95.25" y="75.52" font-size="18.7" textLength="32.29" lengthAdjust="spacingAndGlyphs">900</text>
<text x="95.25" y="100.49" font-size="18.7" textLength="32.29" lengthAdjust="spacingAndGlyphs">800</text>
<text x="95.25" y="182.75" font-size="18.7" textLength="32.29" lengthAdjust="spacingAndGlyphs">270</text>
<text x="95.25" y="206.7" font-size="18.7" textLength="32.29" lengthAdjust="spacingAndGlyphs">260</text>
<text x="95.25" y="230.65" font-size="18.7" textLength="32.29" lengthAdjust="spacingAndGlyphs">250</text>
<text x="84.61" y="305.55" font-size="18.7" textLength="43.06" lengthAdjust="spacingAndGlyphs">2000</text>
<text x="84.61" y="335.55" font-size="18.7" textLength="43.06" lengthAdjust="spacingAndGlyphs">1000</text>
<text x="116.74" y="365.55" font-size="18.7" textLength="10.77" lengthAdjust="spacingAndGlyphs">0</text>
<text x="95.25" y="433.55" font-size="18.7" textLength="32.29" lengthAdjust="spacingAndGlyphs">400</text>
<text x="95.25" y="463.55" font-size="18.7" textLength="32.29" lengthAdjust="spacingAndGlyphs">200</text>
<text x="116.74" y="493.55" font-size="18.7" textLength="10.77" lengthAdjust="spacingAndGlyphs">0</text>
<text x="438.35" y="72.75" font-size="18.7" textLength="32.29" lengthAdjust="spacingAndGlyphs">270</text>
<text x="438.35" y="110.65" font-size="18.7" textLength="32.29" lengthAdjust="spacingAndGlyphs">260</text>
<text x="444.88" y="178.45" font-size="18.7" textLength="26.91" lengthAdjust="spacingAndGlyphs">0.4</text>
<text x="445.26" y="208" font-size="18.7" textLength="26.91" lengthAdjust="spacingAndGlyphs">0.2</text>
<text x="459.84" y="237.55" font-size="18.7" textLength="10.77" lengthAdjust="spacingAndGlyphs">0</text>
<text x="460.03" y="321.65" font-size="18.7" textLength="10.77" lengthAdjust="spacingAndGlyphs">2</text>
<text x="460.03" y="343.6" font-size="18.7" textLength="10.77" lengthAdjust="spacingAndGlyphs">1</text>
<text x="459.84" y="365.55" font-size="18.7" textLength="10.77" lengthAdjust="spacingAndGlyphs">0</text>
<text x="449.19" y="433.55" font-size="18.7" textLength="21.53" lengthAdjust="spacingAndGlyphs">20</text>
<text x="449.19" y="463.55" font-size="18.7" textLength="21.53" lengthAdjust="spacingAndGlyphs">10</text>
<text x="459.84" y="493.55" font-size="18.7" textLength="10.77" lengthAdjust="spacingAndGlyphs">0</text>
<text transform="translate(136.4 487.3) rotate(-45)" x="-55.17" y="25.3" font-size="18.7" textLength="49" lengthAdjust="spacingAndGlyphs">11/07</text>
<text transform="translate(479.5 487.3) rotate(-45)" x="-55.17" y="25.3" font-size="18.7" textLength="49" lengthAdjust="spacingAndGlyphs">11/07</text>
<text transform="translate(180.22 487.3) rotate(-45)" x="-55.36" y="25.3" font-size="18.7" textLength="49" lengthAdjust="spacingAndGlyphs">11/08</text>
<text transform="translate(523.34 487.3) rotate(-45)" x="-55.36" y="25.3" font-size="18.7" textLength="49" lengthAdjust="spacingAndGlyphs">11/08</text>
<text transform="translate(224.04 487.3) rotate(-45)" x="-55.36" y="25.3" font-size="18.7" textLength="49" lengthAdjust="spacingAndGlyphs">11/09</text>
<text transform="translate(567.18 487.3) rotate(-45)" x="-55.36" y="25.3" font-size="18.7" textLength="49" lengthAdjust="spacingAndGlyphs">11/09</text>
<text transform="translate(267.86 487.3) rotate(-45)" x="-55.36" y="25.3" font-size="18.7" textLength="49" lengthAdjust="spacingAndGlyphs">11/10</text>
<text transform="translate(611.02 487.3) rotate(-45)" x="-55.36" y="25.3" font-size="18.7" textLength="49" lengthAdjust="spacingAndGlyphs">11/10</text>
<text transform="translate(311.68 487.3) rotate(-45)" x="-55.17" y="25.3" font-size="18.7" textLength="49" lengthAdjust="spacingAndGlyphs">11/11</text>
<text transform="translate(654.86 487.3) rotate(-45)" x="-55.17" y="25.3" font-size="18.7" textLength="49" lengthAdjust="spacingAndGlyphs">11/11</text>
<text transform="translate(355.5 487.3) rotate(-45)" x="-55.17" y="25.3" font-size="18.7" textLength="49" lengthAdjust="spacingAndGlyphs">11/12</text>
<text transform="translate(698.7 487.3) rotate(-45)" x="-55.17" y="25.3" font-size="18.7" textLength="49" lengthAdjust="spacingAndGlyphs">11/12</text></g>
</svg></body></html>
